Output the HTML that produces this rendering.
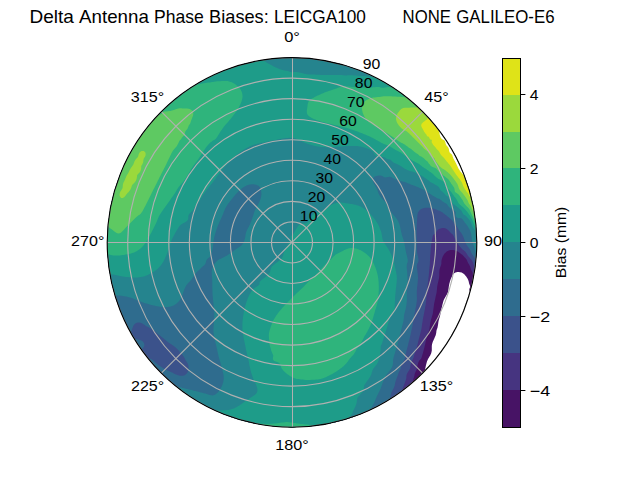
<!DOCTYPE html><html><head><meta charset="utf-8"><style>html,body{margin:0;padding:0;background:#fff}svg{display:block}text{font-family:"Liberation Sans",sans-serif;fill:#000}</style></head><body>
<svg width="640" height="480" viewBox="0 0 640 480">
<rect width="640" height="480" fill="#fff"/>
<defs><clipPath id="c"><circle cx="292.0" cy="242.4" r="184.8"/></clipPath></defs>
<g clip-path="url(#c)">
<path fill="#471365" d="M103.2 53.6L104.7 53.6L106.2 53.6L107.7 53.6L109.2 53.6L110.7 53.6L112.2 53.6L113.7 53.6L115.2 53.6L116.7 53.6L118.2 53.6L119.7 53.6L121.2 53.6L122.7 53.6L124.2 53.6L125.7 53.6L127.2 53.6L128.7 53.6L130.2 53.6L131.7 53.6L133.2 53.6L134.7 53.6L136.2 53.6L137.7 53.6L139.2 53.6L140.7 53.6L142.2 53.6L143.7 53.6L145.2 53.6L146.7 53.6L148.2 53.6L149.7 53.6L151.2 53.6L152.7 53.6L154.2 53.6L155.7 53.6L157.2 53.6L158.7 53.6L160.2 53.6L161.7 53.6L163.2 53.6L164.7 53.6L166.2 53.6L167.7 53.6L169.2 53.6L170.7 53.6L172.2 53.6L173.7 53.6L175.2 53.6L176.7 53.6L178.2 53.6L179.7 53.6L181.2 53.6L182.7 53.6L184.2 53.6L185.7 53.6L187.2 53.6L188.7 53.6L190.2 53.6L191.7 53.6L193.2 53.6L194.7 53.6L196.2 53.6L197.7 53.6L199.2 53.6L200.7 53.6L202.2 53.6L203.7 53.6L205.2 53.6L206.7 53.6L208.2 53.6L209.7 53.6L211.2 53.6L212.7 53.6L214.2 53.6L215.7 53.6L217.2 53.6L218.7 53.6L220.2 53.6L221.7 53.6L223.2 53.6L224.7 53.6L226.2 53.6L227.7 53.6L229.2 53.6L230.7 53.6L232.2 53.6L233.7 53.6L235.2 53.6L236.7 53.6L238.2 53.6L239.7 53.6L241.2 53.6L242.7 53.6L244.2 53.6L245.7 53.6L247.2 53.6L248.7 53.6L250.2 53.6L251.7 53.6L253.2 53.6L254.7 53.6L256.2 53.6L257.7 53.6L259.2 53.6L260.7 53.6L262.2 53.6L263.7 53.6L265.2 53.6L266.7 53.6L268.2 53.6L269.7 53.6L271.2 53.6L272.7 53.6L274.2 53.6L275.7 53.6L277.2 53.6L278.7 53.6L280.2 53.6L281.7 53.6L283.2 53.6L284.7 53.6L286.2 53.6L287.7 53.6L289.2 53.6L290.7 53.6L292.2 53.6L293.7 53.6L295.2 53.6L296.7 53.6L298.2 53.6L299.7 53.6L301.2 53.6L302.7 53.6L304.2 53.6L305.7 53.6L307.2 53.6L308.7 53.6L310.2 53.6L311.7 53.6L313.2 53.6L314.7 53.6L316.2 53.6L317.7 53.6L319.2 53.6L320.7 53.6L322.2 53.6L323.7 53.6L325.2 53.6L326.7 53.6L328.2 53.6L329.7 53.6L331.2 53.6L332.7 53.6L334.2 53.6L335.7 53.6L337.2 53.6L338.7 53.6L340.2 53.6L341.7 53.6L343.2 53.6L344.7 53.6L346.2 53.6L347.7 53.6L349.2 53.6L350.7 53.6L352.2 53.6L353.7 53.6L355.2 53.6L356.7 53.6L358.2 53.6L359.7 53.6L361.2 53.6L362.7 53.6L364.2 53.6L365.7 53.6L367.2 53.6L368.7 53.6L370.2 53.6L371.7 53.6L373.2 53.6L374.7 53.6L376.2 53.6L377.7 53.6L379.2 53.6L380.7 53.6L382.2 53.6L383.7 53.6L385.2 53.6L386.7 53.6L388.2 53.6L389.7 53.6L391.2 53.6L392.7 53.6L394.2 53.6L395.7 53.6L397.2 53.6L398.7 53.6L400.2 53.6L401.7 53.6L403.2 53.6L404.7 53.6L406.2 53.6L407.7 53.6L409.2 53.6L410.7 53.6L412.2 53.6L413.7 53.6L415.2 53.6L416.7 53.6L418.2 53.6L419.7 53.6L421.2 53.6L422.7 53.6L424.2 53.6L425.7 53.6L427.2 53.6L428.7 53.6L430.2 53.6L431.7 53.6L433.2 53.6L434.7 53.6L436.2 53.6L437.7 53.6L439.2 53.6L440.7 53.6L442.2 53.6L443.7 53.6L445.2 53.6L446.7 53.6L448.2 53.6L449.7 53.6L451.2 53.6L452.7 53.6L454.2 53.6L455.7 53.6L457.2 53.6L458.7 53.6L460.2 53.6L461.7 53.6L463.2 53.6L464.7 53.6L466.2 53.6L467.7 53.6L469.2 53.6L470.7 53.6L472.2 53.6L473.7 53.6L475.2 53.6L476.7 53.6L478.2 53.6L479.7 53.6L481.2 53.6L481.2 55.1L481.2 56.6L481.2 58.1L481.2 59.6L481.2 61.1L481.2 62.6L481.2 64.1L481.2 65.6L481.2 67.1L481.2 68.6L481.2 70.1L481.2 71.6L481.2 73.1L481.2 74.6L481.2 76.1L481.2 77.6L481.2 79.1L481.2 80.6L481.2 82.1L481.2 83.6L481.2 85.1L481.2 86.6L481.2 88.1L481.2 89.6L481.2 91.1L481.2 92.6L481.2 94.1L481.2 95.6L481.2 97.1L481.2 98.6L481.2 100.1L481.2 101.6L481.2 103.1L481.2 104.6L481.2 106.1L481.2 107.6L481.2 109.1L481.2 110.6L481.2 112.1L481.2 113.6L481.2 115.1L481.2 116.6L481.2 118.1L481.2 119.6L481.2 121.1L481.2 122.6L481.2 124.1L481.2 125.6L481.2 127.1L481.2 128.6L481.2 130.1L481.2 131.6L481.2 133.1L481.2 134.6L481.2 136.1L481.2 137.6L481.2 139.1L481.2 140.6L481.2 142.1L481.2 143.6L481.2 145.1L481.2 146.6L481.2 148.1L481.2 149.6L481.2 151.1L481.2 152.6L481.2 154.1L481.2 155.6L481.2 157.1L481.2 158.6L481.2 160.1L481.2 161.6L481.2 163.1L481.2 164.6L481.2 166.1L481.2 167.6L481.2 169.1L481.2 170.6L481.2 172.1L481.2 173.6L481.2 175.1L481.2 176.6L481.2 178.1L481.2 179.6L481.2 181.1L481.2 182.6L481.2 184.1L481.2 185.6L481.2 187.1L481.2 188.6L481.2 190.1L481.2 191.6L481.2 193.1L481.2 194.6L481.2 196.1L481.2 197.6L481.2 199.1L481.2 200.6L481.2 202.1L481.2 203.6L481.2 205.1L481.2 206.6L481.2 208.1L481.2 209.6L481.2 211.1L481.2 212.6L481.2 214.1L481.2 215.6L481.2 217.1L481.2 218.6L481.2 220.1L481.2 221.6L481.2 223.1L481.2 224.6L481.2 226.1L481.2 227.6L481.2 229.1L481.2 230.6L481.2 232.1L481.2 233.6L481.2 235.1L481.2 236.6L481.2 238.1L481.2 239.6L481.2 241.1L481.2 242.6L481.2 244.1L481.2 245.6L481.2 247.1L481.2 248.6L481.2 250.1L481.2 251.6L481.2 253.1L481.2 254.6L481.2 256.1L481.2 257.6L481.2 259.1L481.2 260.6L481.2 262.1L481.2 263.6L481.2 265.1L481.2 266.6L481.2 268.1L481.2 269.6L481.2 271.1L481.2 272.6L481.2 274.1L481.2 275.6L481.2 277.1L481.2 278.6L481.2 280.1L481.2 281.6L481.2 283.1L481.2 284.6L481.2 286.1L481.2 287.6L481.2 289.1L481.2 290.6L481.2 292.1L479.7 291.6L478.2 291.3L476.7 291.1L475.2 291.0L473.7 291.2L472.2 291.6L470.7 291.8L469.4 290.6L469.3 289.1L470.0 287.6L470.1 286.1L469.5 284.6L469.2 283.7L469.0 283.1L468.7 281.6L468.2 280.1L467.7 278.9L467.5 278.6L466.5 277.1L466.2 276.6L465.3 275.6L464.7 274.8L464.0 274.1L463.2 273.4L461.7 272.6L461.7 272.6L460.2 272.2L458.7 272.0L457.2 272.1L455.7 272.5L455.4 272.6L454.2 273.3L453.4 274.1L452.7 275.0L452.4 275.6L451.7 277.1L451.2 278.1L451.0 278.6L450.4 280.1L449.9 281.6L449.7 282.4L449.5 283.1L449.2 284.6L448.9 286.1L448.7 287.6L448.5 289.1L448.3 290.6L448.2 291.0L448.0 292.1L447.4 293.6L446.7 294.8L446.5 295.1L445.7 296.6L445.2 297.3L444.8 298.1L444.0 299.6L443.7 300.2L443.4 301.1L443.0 302.6L442.6 304.1L442.2 305.6L442.2 305.7L441.9 307.1L441.5 308.6L441.2 310.1L440.8 311.6L440.7 312.2L440.5 313.1L440.3 314.6L440.0 316.1L439.6 317.6L439.2 318.6L439.1 319.1L438.7 320.6L438.4 322.1L438.2 323.6L438.0 325.1L437.7 326.6L437.7 326.7L437.4 328.1L436.8 329.6L436.4 331.1L436.3 332.6L436.2 332.8L436.0 334.1L435.6 335.6L434.9 337.1L434.7 337.6L434.3 338.6L433.6 340.1L433.2 340.9L432.9 341.6L432.4 343.1L432.0 344.6L431.8 346.1L431.8 347.6L431.8 349.1L431.8 350.6L431.7 351.0L431.5 352.1L431.1 353.6L430.4 355.1L430.2 355.4L429.5 356.6L428.7 357.9L428.6 358.1L427.8 359.6L427.2 360.9L427.1 361.1L426.7 362.6L426.3 364.1L425.9 365.6L425.7 366.6L425.6 367.1L425.3 368.6L424.9 370.1L424.5 371.6L424.2 373.1L424.2 373.1L423.9 374.6L423.5 376.1L423.2 377.6L422.8 379.1L422.7 379.4L422.4 380.6L422.0 382.1L421.6 383.6L421.2 385.1L421.2 385.2L420.9 386.6L420.6 388.1L420.3 389.6L420.0 391.1L419.8 392.6L419.7 393.4L419.6 394.1L419.4 395.6L419.3 397.1L419.1 398.6L419.0 400.1L418.9 401.6L418.8 403.1L418.7 404.6L418.6 406.1L418.5 407.6L418.4 409.1L418.4 410.6L418.3 412.1L418.3 413.6L418.2 415.1L418.2 415.4L418.2 416.6L418.1 418.1L418.1 419.6L418.1 421.1L418.1 422.6L418.1 424.1L418.1 425.6L418.1 427.1L418.1 428.6L418.1 430.1L418.1 431.6L416.7 431.6L415.2 431.6L413.7 431.6L412.2 431.6L410.7 431.6L409.2 431.6L407.7 431.6L406.2 431.6L404.7 431.6L403.2 431.6L401.7 431.6L400.2 431.6L398.7 431.6L397.2 431.6L395.7 431.6L394.2 431.6L392.7 431.6L391.2 431.6L389.7 431.6L388.2 431.6L386.7 431.6L385.2 431.6L383.7 431.6L382.2 431.6L380.7 431.6L379.2 431.6L377.7 431.6L376.2 431.6L374.7 431.6L373.2 431.6L371.7 431.6L370.2 431.6L368.7 431.6L367.2 431.6L365.7 431.6L364.2 431.6L362.7 431.6L361.2 431.6L359.7 431.6L358.2 431.6L356.7 431.6L355.2 431.6L353.7 431.6L352.2 431.6L350.7 431.6L349.2 431.6L347.7 431.6L346.2 431.6L344.7 431.6L343.2 431.6L341.7 431.6L340.2 431.6L338.7 431.6L337.2 431.6L335.7 431.6L334.2 431.6L332.7 431.6L331.2 431.6L329.7 431.6L328.2 431.6L326.7 431.6L325.2 431.6L323.7 431.6L322.2 431.6L320.7 431.6L319.2 431.6L317.7 431.6L316.2 431.6L314.7 431.6L313.2 431.6L311.7 431.6L310.2 431.6L308.7 431.6L307.2 431.6L305.7 431.6L304.2 431.6L302.7 431.6L301.2 431.6L299.7 431.6L298.2 431.6L296.7 431.6L295.2 431.6L293.7 431.6L292.2 431.6L290.7 431.6L289.2 431.6L287.7 431.6L286.2 431.6L284.7 431.6L283.2 431.6L281.7 431.6L280.2 431.6L278.7 431.6L277.2 431.6L275.7 431.6L274.2 431.6L272.7 431.6L271.2 431.6L269.7 431.6L268.2 431.6L266.7 431.6L265.2 431.6L263.7 431.6L262.2 431.6L260.7 431.6L259.2 431.6L257.7 431.6L256.2 431.6L254.7 431.6L253.2 431.6L251.7 431.6L250.2 431.6L248.7 431.6L247.2 431.6L245.7 431.6L244.2 431.6L242.7 431.6L241.2 431.6L239.7 431.6L238.2 431.6L236.7 431.6L235.2 431.6L233.7 431.6L232.2 431.6L230.7 431.6L229.2 431.6L227.7 431.6L226.2 431.6L224.7 431.6L223.2 431.6L221.7 431.6L220.2 431.6L218.7 431.6L217.2 431.6L215.7 431.6L214.2 431.6L212.7 431.6L211.2 431.6L209.7 431.6L208.2 431.6L206.7 431.6L205.2 431.6L203.7 431.6L202.2 431.6L200.7 431.6L199.2 431.6L197.7 431.6L196.2 431.6L194.7 431.6L193.2 431.6L191.7 431.6L190.2 431.6L188.7 431.6L187.2 431.6L185.7 431.6L184.2 431.6L182.7 431.6L181.2 431.6L179.7 431.6L178.2 431.6L176.7 431.6L175.2 431.6L173.7 431.6L172.2 431.6L170.7 431.6L169.2 431.6L167.7 431.6L166.2 431.6L164.7 431.6L163.2 431.6L161.7 431.6L160.2 431.6L158.7 431.6L157.2 431.6L155.7 431.6L154.2 431.6L152.7 431.6L151.2 431.6L149.7 431.6L148.2 431.6L146.7 431.6L145.2 431.6L143.7 431.6L142.2 431.6L140.7 431.6L139.2 431.6L137.7 431.6L136.2 431.6L134.7 431.6L133.2 431.6L131.7 431.6L130.2 431.6L128.7 431.6L127.2 431.6L125.7 431.6L124.2 431.6L122.7 431.6L121.2 431.6L119.7 431.6L118.2 431.6L116.7 431.6L115.2 431.6L113.7 431.6L112.2 431.6L110.7 431.6L109.2 431.6L107.7 431.6L106.2 431.6L104.7 431.6L103.2 431.6L103.2 430.1L103.2 428.6L103.2 427.1L103.2 425.6L103.2 424.1L103.2 422.6L103.2 421.1L103.2 419.6L103.2 418.1L103.2 416.6L103.2 415.1L103.2 413.6L103.2 412.1L103.2 410.6L103.2 409.1L103.2 407.6L103.2 406.1L103.2 404.6L103.2 403.1L103.2 401.6L103.2 400.1L103.2 398.6L103.2 397.1L103.2 395.6L103.2 394.1L103.2 392.6L103.2 391.1L103.2 389.6L103.2 388.1L103.2 386.6L103.2 385.1L103.2 383.6L103.2 382.1L103.2 380.6L103.2 379.1L103.2 377.6L103.2 376.1L103.2 374.6L103.2 373.1L103.2 371.6L103.2 370.1L103.2 368.6L103.2 367.1L103.2 365.6L103.2 364.1L103.2 362.6L103.2 361.1L103.2 359.6L103.2 358.1L103.2 356.6L103.2 355.1L103.2 353.6L103.2 352.1L103.2 350.6L103.2 349.1L103.2 347.6L103.2 346.1L103.2 344.6L103.2 343.1L103.2 341.6L103.2 340.1L103.2 338.6L103.2 337.1L103.2 335.6L103.2 334.1L103.2 332.6L103.2 331.1L103.2 329.6L103.2 328.1L103.2 326.6L103.2 325.1L103.2 323.6L103.2 322.1L103.2 320.6L103.2 319.1L103.2 317.6L103.2 316.1L103.2 314.6L103.2 313.1L103.2 311.6L103.2 310.1L103.2 308.6L103.2 307.1L103.2 305.6L103.2 304.1L103.2 302.6L103.2 301.1L103.2 299.6L103.2 298.1L103.2 296.6L103.2 295.1L103.2 293.6L103.2 292.1L103.2 290.6L103.2 289.1L103.2 287.6L103.2 286.1L103.2 284.6L103.2 283.1L103.2 281.6L103.2 280.1L103.2 278.6L103.2 277.1L103.2 275.6L103.2 274.1L103.2 272.6L103.2 271.1L103.2 269.6L103.2 268.1L103.2 266.6L103.2 265.1L103.2 263.6L103.2 262.1L103.2 260.6L103.2 259.1L103.2 257.6L103.2 256.1L103.2 254.6L103.2 253.1L103.2 251.6L103.2 250.1L103.2 248.6L103.2 247.1L103.2 245.6L103.2 244.1L103.2 242.6L103.2 241.1L103.2 239.6L103.2 238.1L103.2 236.6L103.2 235.1L103.2 233.6L103.2 232.1L103.2 230.6L103.2 229.1L103.2 227.6L103.2 226.1L103.2 224.6L103.2 223.1L103.2 221.6L103.2 220.1L103.2 218.6L103.2 217.1L103.2 215.6L103.2 214.1L103.2 212.6L103.2 211.1L103.2 209.6L103.2 208.1L103.2 206.6L103.2 205.1L103.2 203.6L103.2 202.1L103.2 200.6L103.2 199.1L103.2 197.6L103.2 196.1L103.2 194.6L103.2 193.1L103.2 191.6L103.2 190.1L103.2 188.6L103.2 187.1L103.2 185.6L103.2 184.1L103.2 182.6L103.2 181.1L103.2 179.6L103.2 178.1L103.2 176.6L103.2 175.1L103.2 173.6L103.2 172.1L103.2 170.6L103.2 169.1L103.2 167.6L103.2 166.1L103.2 164.6L103.2 163.1L103.2 161.6L103.2 160.1L103.2 158.6L103.2 157.1L103.2 155.6L103.2 154.1L103.2 152.6L103.2 151.1L103.2 149.6L103.2 148.1L103.2 146.6L103.2 145.1L103.2 143.6L103.2 142.1L103.2 140.6L103.2 139.1L103.2 137.6L103.2 136.1L103.2 134.6L103.2 133.1L103.2 131.6L103.2 130.1L103.2 128.6L103.2 127.1L103.2 125.6L103.2 124.1L103.2 122.6L103.2 121.1L103.2 119.6L103.2 118.1L103.2 116.6L103.2 115.1L103.2 113.6L103.2 112.1L103.2 110.6L103.2 109.1L103.2 107.6L103.2 106.1L103.2 104.6L103.2 103.1L103.2 101.6L103.2 100.1L103.2 98.6L103.2 97.1L103.2 95.6L103.2 94.1L103.2 92.6L103.2 91.1L103.2 89.6L103.2 88.1L103.2 86.6L103.2 85.1L103.2 83.6L103.2 82.1L103.2 80.6L103.2 79.1L103.2 77.6L103.2 76.1L103.2 74.6L103.2 73.1L103.2 71.6L103.2 70.1L103.2 68.6L103.2 67.1L103.2 65.6L103.2 64.1L103.2 62.6L103.2 61.1L103.2 59.6L103.2 58.1L103.2 56.6L103.2 55.1Z"/>
<path fill="#463480" d="M103.2 53.6L104.7 53.6L106.2 53.6L107.7 53.6L109.2 53.6L110.7 53.6L112.2 53.6L113.7 53.6L115.2 53.6L116.7 53.6L118.2 53.6L119.7 53.6L121.2 53.6L122.7 53.6L124.2 53.6L125.7 53.6L127.2 53.6L128.7 53.6L130.2 53.6L131.7 53.6L133.2 53.6L134.7 53.6L136.2 53.6L137.7 53.6L139.2 53.6L140.7 53.6L142.2 53.6L143.7 53.6L145.2 53.6L146.7 53.6L148.2 53.6L149.7 53.6L151.2 53.6L152.7 53.6L154.2 53.6L155.7 53.6L157.2 53.6L158.7 53.6L160.2 53.6L161.7 53.6L163.2 53.6L164.7 53.6L166.2 53.6L167.7 53.6L169.2 53.6L170.7 53.6L172.2 53.6L173.7 53.6L175.2 53.6L176.7 53.6L178.2 53.6L179.7 53.6L181.2 53.6L182.7 53.6L184.2 53.6L185.7 53.6L187.2 53.6L188.7 53.6L190.2 53.6L191.7 53.6L193.2 53.6L194.7 53.6L196.2 53.6L197.7 53.6L199.2 53.6L200.7 53.6L202.2 53.6L203.7 53.6L205.2 53.6L206.7 53.6L208.2 53.6L209.7 53.6L211.2 53.6L212.7 53.6L214.2 53.6L215.7 53.6L217.2 53.6L218.7 53.6L220.2 53.6L221.7 53.6L223.2 53.6L224.7 53.6L226.2 53.6L227.7 53.6L229.2 53.6L230.7 53.6L232.2 53.6L233.7 53.6L235.2 53.6L236.7 53.6L238.2 53.6L239.7 53.6L241.2 53.6L242.7 53.6L244.2 53.6L245.7 53.6L247.2 53.6L248.7 53.6L250.2 53.6L251.7 53.6L253.2 53.6L254.7 53.6L256.2 53.6L257.7 53.6L259.2 53.6L260.7 53.6L262.2 53.6L263.7 53.6L265.2 53.6L266.7 53.6L268.2 53.6L269.7 53.6L271.2 53.6L272.7 53.6L274.2 53.6L275.7 53.6L277.2 53.6L278.7 53.6L280.2 53.6L281.7 53.6L283.2 53.6L284.7 53.6L286.2 53.6L287.7 53.6L289.2 53.6L290.7 53.6L292.2 53.6L293.7 53.6L295.2 53.6L296.7 53.6L298.2 53.6L299.7 53.6L301.2 53.6L302.7 53.6L304.2 53.6L305.7 53.6L307.2 53.6L308.7 53.6L310.2 53.6L311.7 53.6L313.2 53.6L314.7 53.6L316.2 53.6L317.7 53.6L319.2 53.6L320.7 53.6L322.2 53.6L323.7 53.6L325.2 53.6L326.7 53.6L328.2 53.6L329.7 53.6L331.2 53.6L332.7 53.6L334.2 53.6L335.7 53.6L337.2 53.6L338.7 53.6L340.2 53.6L341.7 53.6L343.2 53.6L344.7 53.6L346.2 53.6L347.7 53.6L349.2 53.6L350.7 53.6L352.2 53.6L353.7 53.6L355.2 53.6L356.7 53.6L358.2 53.6L359.7 53.6L361.2 53.6L362.7 53.6L364.2 53.6L365.7 53.6L367.2 53.6L368.7 53.6L370.2 53.6L371.7 53.6L373.2 53.6L374.7 53.6L376.2 53.6L377.7 53.6L379.2 53.6L380.7 53.6L382.2 53.6L383.7 53.6L385.2 53.6L386.7 53.6L388.2 53.6L389.7 53.6L391.2 53.6L392.7 53.6L394.2 53.6L395.7 53.6L397.2 53.6L398.7 53.6L400.2 53.6L401.7 53.6L403.2 53.6L404.7 53.6L406.2 53.6L407.7 53.6L409.2 53.6L410.7 53.6L412.2 53.6L413.7 53.6L415.2 53.6L416.7 53.6L418.2 53.6L419.7 53.6L421.2 53.6L422.7 53.6L424.2 53.6L425.7 53.6L427.2 53.6L428.7 53.6L430.2 53.6L431.7 53.6L433.2 53.6L434.7 53.6L436.2 53.6L437.7 53.6L439.2 53.6L440.7 53.6L442.2 53.6L443.7 53.6L445.2 53.6L446.7 53.6L448.2 53.6L449.7 53.6L451.2 53.6L452.7 53.6L454.2 53.6L455.7 53.6L457.2 53.6L458.7 53.6L460.2 53.6L461.7 53.6L463.2 53.6L464.7 53.6L466.2 53.6L467.7 53.6L469.2 53.6L470.7 53.6L472.2 53.6L473.7 53.6L475.2 53.6L476.7 53.6L478.2 53.6L479.7 53.6L481.2 53.6L481.2 55.1L481.2 56.6L481.2 58.1L481.2 59.6L481.2 61.1L481.2 62.6L481.2 64.1L481.2 65.6L481.2 67.1L481.2 68.6L481.2 70.1L481.2 71.6L481.2 73.1L481.2 74.6L481.2 76.1L481.2 77.6L481.2 79.1L481.2 80.6L481.2 82.1L481.2 83.6L481.2 85.1L481.2 86.6L481.2 88.1L481.2 89.6L481.2 91.1L481.2 92.6L481.2 94.1L481.2 95.6L481.2 97.1L481.2 98.6L481.2 100.1L481.2 101.6L481.2 103.1L481.2 104.6L481.2 106.1L481.2 107.6L481.2 109.1L481.2 110.6L481.2 112.1L481.2 113.6L481.2 115.1L481.2 116.6L481.2 118.1L481.2 119.6L481.2 121.1L481.2 122.6L481.2 124.1L481.2 125.6L481.2 127.1L481.2 128.6L481.2 130.1L481.2 131.6L481.2 133.1L481.2 134.6L481.2 136.1L481.2 137.6L481.2 139.1L481.2 140.6L481.2 142.1L481.2 143.6L481.2 145.1L481.2 146.6L481.2 148.1L481.2 149.6L481.2 151.1L481.2 152.6L481.2 154.1L481.2 155.6L481.2 157.1L481.2 158.6L481.2 160.1L481.2 161.6L481.2 163.1L481.2 164.6L481.2 166.1L481.2 167.6L481.2 169.1L481.2 170.6L481.2 172.1L481.2 173.6L481.2 175.1L481.2 176.6L481.2 178.1L481.2 179.6L481.2 181.1L481.2 182.6L481.2 184.1L481.2 185.6L481.2 187.1L481.2 188.6L481.2 190.1L481.2 191.6L481.2 193.1L481.2 194.6L481.2 196.1L481.2 197.6L481.2 199.1L481.2 200.6L481.2 202.1L481.2 203.6L481.2 205.1L481.2 206.6L481.2 208.1L481.2 209.6L481.2 211.1L481.2 212.6L481.2 214.1L481.2 215.6L481.2 217.1L481.2 218.6L481.2 220.1L481.2 221.6L481.2 223.1L481.2 224.6L481.2 226.1L481.2 227.6L481.2 229.1L481.2 230.6L481.2 232.1L481.2 233.6L481.2 235.1L481.2 236.6L481.2 238.1L481.2 239.6L481.2 241.1L481.2 242.6L481.2 244.1L481.2 245.6L481.2 247.1L481.2 248.6L481.2 250.1L481.2 251.6L481.2 253.1L481.2 254.6L481.2 256.1L481.2 257.6L481.2 259.1L481.2 260.6L481.2 262.1L481.2 263.6L481.2 265.1L481.2 266.6L481.2 268.1L481.2 269.6L481.2 271.1L481.2 272.6L481.2 274.1L481.2 275.6L481.2 277.1L481.2 278.6L481.2 280.1L481.2 281.6L481.2 283.1L481.2 284.6L481.2 285.0L480.5 284.6L479.7 284.2L478.2 283.2L478.1 283.1L476.7 282.0L476.2 281.6L475.2 280.5L474.9 280.1L474.0 278.6L473.7 278.0L473.3 277.1L472.9 275.6L472.7 274.1L472.6 272.6L472.2 271.9L471.8 271.1L471.0 269.6L470.7 268.4L470.6 268.1L470.1 266.6L469.3 265.1L469.2 264.8L468.4 263.6L467.7 262.3L467.6 262.1L467.0 260.6L466.3 259.1L466.2 259.0L464.9 257.6L464.7 257.4L463.5 256.1L463.2 255.7L462.0 254.6L461.7 254.4L460.2 253.3L459.9 253.1L458.7 252.2L457.8 251.6L457.2 251.3L455.7 250.7L454.2 250.2L453.4 250.1L452.7 250.0L451.2 250.0L450.3 250.1L449.7 250.2L448.2 250.8L446.7 251.6L446.7 251.6L445.2 252.9L445.0 253.1L443.9 254.6L443.7 254.9L443.0 256.1L442.4 257.6L442.2 258.1L441.9 259.1L441.5 260.6L441.4 262.1L441.4 263.6L441.1 265.1L440.7 266.0L440.5 266.6L440.0 268.1L439.6 269.6L439.4 271.1L439.3 272.6L439.3 274.1L439.3 275.6L439.2 277.0L439.2 277.1L439.0 278.6L438.6 280.1L438.3 281.6L437.9 283.1L437.7 284.0L437.6 284.6L437.3 286.1L437.1 287.6L437.0 289.1L436.8 290.6L436.7 292.1L436.4 293.6L436.2 294.4L436.0 295.1L435.7 296.6L435.4 298.1L435.1 299.6L434.7 301.1L434.7 301.3L434.4 302.6L434.1 304.1L433.9 305.6L433.7 307.1L433.5 308.6L433.3 310.1L433.2 310.6L433.1 311.6L432.9 313.1L432.6 314.6L432.1 316.1L431.7 317.5L431.7 317.6L431.2 319.1L430.8 320.6L430.5 322.1L430.2 323.6L430.2 323.6L430.0 325.1L429.8 326.6L429.6 328.1L429.4 329.6L428.9 331.1L428.7 331.6L428.4 332.6L427.9 334.1L427.4 335.6L427.2 336.1L426.9 337.1L426.5 338.6L426.1 340.1L425.7 341.6L425.7 341.6L425.4 343.1L425.1 344.6L424.7 346.1L424.4 347.6L424.2 348.2L424.0 349.1L423.6 350.6L423.2 352.1L422.8 353.6L422.7 353.8L422.3 355.1L421.9 356.6L421.4 358.1L421.2 358.6L420.4 359.6L419.7 360.1L419.0 361.1L418.3 362.6L418.2 362.9L417.9 364.1L417.5 365.6L417.3 367.1L417.0 368.6L416.7 369.6L416.5 370.1L415.7 371.6L415.2 372.7L415.0 373.1L414.6 374.6L414.4 376.1L413.9 377.6L413.7 378.1L413.4 379.1L412.9 380.6L412.5 382.1L412.2 383.3L412.1 383.6L411.7 385.1L411.4 386.6L411.0 388.1L410.7 389.6L410.7 389.6L410.4 391.1L410.1 392.6L409.8 394.1L409.6 395.6L409.4 397.1L409.2 398.1L409.1 398.6L408.9 400.1L408.7 401.6L408.5 403.1L408.3 404.6L408.1 406.1L407.9 407.6L407.7 408.7L407.6 409.1L407.4 410.6L407.2 412.1L407.0 413.6L406.8 415.1L406.7 416.6L406.5 418.1L406.3 419.6L406.2 420.3L406.1 421.1L405.9 422.6L405.8 424.1L405.6 425.6L405.5 427.1L405.3 428.6L405.2 430.1L405.1 431.6L404.7 431.6L403.2 431.6L401.7 431.6L400.2 431.6L398.7 431.6L397.2 431.6L395.7 431.6L394.2 431.6L392.7 431.6L391.2 431.6L389.7 431.6L388.2 431.6L386.7 431.6L385.2 431.6L383.7 431.6L382.2 431.6L380.7 431.6L379.2 431.6L377.7 431.6L376.2 431.6L374.7 431.6L373.2 431.6L371.7 431.6L370.2 431.6L368.7 431.6L367.2 431.6L365.7 431.6L364.2 431.6L362.7 431.6L361.2 431.6L359.7 431.6L358.2 431.6L356.7 431.6L355.2 431.6L353.7 431.6L352.2 431.6L350.7 431.6L349.2 431.6L347.7 431.6L346.2 431.6L344.7 431.6L343.2 431.6L341.7 431.6L340.2 431.6L338.7 431.6L337.2 431.6L335.7 431.6L334.2 431.6L332.7 431.6L331.2 431.6L329.7 431.6L328.2 431.6L326.7 431.6L325.2 431.6L323.7 431.6L322.2 431.6L320.7 431.6L319.2 431.6L317.7 431.6L316.2 431.6L314.7 431.6L313.2 431.6L311.7 431.6L310.2 431.6L308.7 431.6L307.2 431.6L305.7 431.6L304.2 431.6L302.7 431.6L301.2 431.6L299.7 431.6L298.2 431.6L296.7 431.6L295.2 431.6L293.7 431.6L292.2 431.6L290.7 431.6L289.2 431.6L287.7 431.6L286.2 431.6L284.7 431.6L283.2 431.6L281.7 431.6L280.2 431.6L278.7 431.6L277.2 431.6L275.7 431.6L274.2 431.6L272.7 431.6L271.2 431.6L269.7 431.6L268.2 431.6L266.7 431.6L265.2 431.6L263.7 431.6L262.2 431.6L260.7 431.6L259.2 431.6L257.7 431.6L256.2 431.6L254.7 431.6L253.2 431.6L251.7 431.6L250.2 431.6L248.7 431.6L247.2 431.6L245.7 431.6L244.2 431.6L242.7 431.6L241.2 431.6L239.7 431.6L238.2 431.6L236.7 431.6L235.2 431.6L233.7 431.6L232.2 431.6L230.7 431.6L229.2 431.6L227.7 431.6L226.2 431.6L224.7 431.6L223.2 431.6L221.7 431.6L220.2 431.6L218.7 431.6L217.2 431.6L215.7 431.6L214.2 431.6L212.7 431.6L211.2 431.6L209.7 431.6L208.2 431.6L206.7 431.6L205.2 431.6L203.7 431.6L202.2 431.6L200.7 431.6L199.2 431.6L197.7 431.6L196.2 431.6L194.7 431.6L193.2 431.6L191.7 431.6L190.2 431.6L188.7 431.6L187.2 431.6L185.7 431.6L184.2 431.6L182.7 431.6L181.2 431.6L179.7 431.6L178.2 431.6L176.7 431.6L175.2 431.6L173.7 431.6L172.2 431.6L170.7 431.6L169.2 431.6L167.7 431.6L166.2 431.6L164.7 431.6L163.2 431.6L161.7 431.6L160.2 431.6L158.7 431.6L157.2 431.6L155.7 431.6L154.2 431.6L152.7 431.6L151.2 431.6L149.7 431.6L148.2 431.6L146.7 431.6L145.2 431.6L143.7 431.6L142.2 431.6L140.7 431.6L139.2 431.6L137.7 431.6L136.2 431.6L134.7 431.6L133.2 431.6L131.7 431.6L130.2 431.6L128.7 431.6L127.2 431.6L125.7 431.6L124.2 431.6L122.7 431.6L121.2 431.6L119.7 431.6L118.2 431.6L116.7 431.6L115.2 431.6L113.7 431.6L112.2 431.6L110.7 431.6L109.2 431.6L107.7 431.6L106.2 431.6L104.7 431.6L103.2 431.6L103.2 430.1L103.2 428.6L103.2 427.1L103.2 425.6L103.2 424.1L103.2 422.6L103.2 421.1L103.2 419.6L103.2 418.1L103.2 416.6L103.2 415.1L103.2 413.6L103.2 412.1L103.2 410.6L103.2 409.1L103.2 407.6L103.2 406.1L103.2 404.6L103.2 403.1L103.2 401.6L103.2 400.1L103.2 398.6L103.2 397.1L103.2 395.6L103.2 394.1L103.2 392.6L103.2 391.1L103.2 389.6L103.2 388.1L103.2 386.6L103.2 385.1L103.2 383.6L103.2 382.1L103.2 380.6L103.2 379.1L103.2 377.6L103.2 376.1L103.2 374.6L103.2 373.1L103.2 371.6L103.2 370.1L103.2 368.6L103.2 367.1L103.2 365.6L103.2 364.1L103.2 362.6L103.2 361.1L103.2 359.6L103.2 358.1L103.2 356.6L103.2 355.1L103.2 353.6L103.2 352.1L103.2 350.6L103.2 349.1L103.2 347.6L103.2 346.1L103.2 344.6L103.2 343.1L103.2 341.6L103.2 340.1L103.2 338.6L103.2 337.1L103.2 335.6L103.2 334.1L103.2 332.6L103.2 331.1L103.2 329.6L103.2 328.1L103.2 326.6L103.2 325.1L103.2 323.6L103.2 322.1L103.2 320.6L103.2 319.1L103.2 317.6L103.2 316.1L103.2 314.6L103.2 313.1L103.2 311.6L103.2 310.1L103.2 308.6L103.2 307.1L103.2 305.6L103.2 304.1L103.2 302.6L103.2 301.1L103.2 299.6L103.2 298.1L103.2 296.6L103.2 295.1L103.2 293.6L103.2 292.1L103.2 290.6L103.2 289.1L103.2 287.6L103.2 286.1L103.2 284.6L103.2 283.1L103.2 281.6L103.2 280.1L103.2 278.6L103.2 277.1L103.2 275.6L103.2 274.1L103.2 272.6L103.2 271.1L103.2 269.6L103.2 268.1L103.2 266.6L103.2 265.1L103.2 263.6L103.2 262.1L103.2 260.6L103.2 259.1L103.2 257.6L103.2 256.1L103.2 254.6L103.2 253.1L103.2 251.6L103.2 250.1L103.2 248.6L103.2 247.1L103.2 245.6L103.2 244.1L103.2 242.6L103.2 241.1L103.2 239.6L103.2 238.1L103.2 236.6L103.2 235.1L103.2 233.6L103.2 232.1L103.2 230.6L103.2 229.1L103.2 227.6L103.2 226.1L103.2 224.6L103.2 223.1L103.2 221.6L103.2 220.1L103.2 218.6L103.2 217.1L103.2 215.6L103.2 214.1L103.2 212.6L103.2 211.1L103.2 209.6L103.2 208.1L103.2 206.6L103.2 205.1L103.2 203.6L103.2 202.1L103.2 200.6L103.2 199.1L103.2 197.6L103.2 196.1L103.2 194.6L103.2 193.1L103.2 191.6L103.2 190.1L103.2 188.6L103.2 187.1L103.2 185.6L103.2 184.1L103.2 182.6L103.2 181.1L103.2 179.6L103.2 178.1L103.2 176.6L103.2 175.1L103.2 173.6L103.2 172.1L103.2 170.6L103.2 169.1L103.2 167.6L103.2 166.1L103.2 164.6L103.2 163.1L103.2 161.6L103.2 160.1L103.2 158.6L103.2 157.1L103.2 155.6L103.2 154.1L103.2 152.6L103.2 151.1L103.2 149.6L103.2 148.1L103.2 146.6L103.2 145.1L103.2 143.6L103.2 142.1L103.2 140.6L103.2 139.1L103.2 137.6L103.2 136.1L103.2 134.6L103.2 133.1L103.2 131.6L103.2 130.1L103.2 128.6L103.2 127.1L103.2 125.6L103.2 124.1L103.2 122.6L103.2 121.1L103.2 119.6L103.2 118.1L103.2 116.6L103.2 115.1L103.2 113.6L103.2 112.1L103.2 110.6L103.2 109.1L103.2 107.6L103.2 106.1L103.2 104.6L103.2 103.1L103.2 101.6L103.2 100.1L103.2 98.6L103.2 97.1L103.2 95.6L103.2 94.1L103.2 92.6L103.2 91.1L103.2 89.6L103.2 88.1L103.2 86.6L103.2 85.1L103.2 83.6L103.2 82.1L103.2 80.6L103.2 79.1L103.2 77.6L103.2 76.1L103.2 74.6L103.2 73.1L103.2 71.6L103.2 70.1L103.2 68.6L103.2 67.1L103.2 65.6L103.2 64.1L103.2 62.6L103.2 61.1L103.2 59.6L103.2 58.1L103.2 56.6L103.2 55.1Z"/>
<path fill="#3b528b" d="M103.2 53.6L104.7 53.6L106.2 53.6L107.7 53.6L109.2 53.6L110.7 53.6L112.2 53.6L113.7 53.6L115.2 53.6L116.7 53.6L118.2 53.6L119.7 53.6L121.2 53.6L122.7 53.6L124.2 53.6L125.7 53.6L127.2 53.6L128.7 53.6L130.2 53.6L131.7 53.6L133.2 53.6L134.7 53.6L136.2 53.6L137.7 53.6L139.2 53.6L140.7 53.6L142.2 53.6L143.7 53.6L145.2 53.6L146.7 53.6L148.2 53.6L149.7 53.6L151.2 53.6L152.7 53.6L154.2 53.6L155.7 53.6L157.2 53.6L158.7 53.6L160.2 53.6L161.7 53.6L163.2 53.6L164.7 53.6L166.2 53.6L167.7 53.6L169.2 53.6L170.7 53.6L172.2 53.6L173.7 53.6L175.2 53.6L176.7 53.6L178.2 53.6L179.7 53.6L181.2 53.6L182.7 53.6L184.2 53.6L185.7 53.6L187.2 53.6L188.7 53.6L190.2 53.6L191.7 53.6L193.2 53.6L194.7 53.6L196.2 53.6L197.7 53.6L199.2 53.6L200.7 53.6L202.2 53.6L203.7 53.6L205.2 53.6L206.7 53.6L208.2 53.6L209.7 53.6L211.2 53.6L212.7 53.6L214.2 53.6L215.7 53.6L217.2 53.6L218.7 53.6L220.2 53.6L221.7 53.6L223.2 53.6L224.7 53.6L226.2 53.6L227.7 53.6L229.2 53.6L230.7 53.6L232.2 53.6L233.7 53.6L235.2 53.6L236.7 53.6L238.2 53.6L239.7 53.6L241.2 53.6L242.7 53.6L244.2 53.6L245.7 53.6L247.2 53.6L248.7 53.6L250.2 53.6L251.7 53.6L253.2 53.6L254.7 53.6L256.2 53.6L257.7 53.6L259.2 53.6L260.7 53.6L262.2 53.6L263.7 53.6L265.2 53.6L266.7 53.6L268.2 53.6L269.7 53.6L271.2 53.6L272.7 53.6L274.2 53.6L275.7 53.6L277.2 53.6L278.7 53.6L280.2 53.6L281.7 53.6L283.2 53.6L284.7 53.6L286.2 53.6L287.7 53.6L289.2 53.6L290.7 53.6L292.2 53.6L293.7 53.6L295.2 53.6L296.7 53.6L298.2 53.6L299.7 53.6L301.2 53.6L302.7 53.6L304.2 53.6L305.7 53.6L307.2 53.6L308.7 53.6L310.2 53.6L311.7 53.6L313.2 53.6L314.7 53.6L316.2 53.6L317.7 53.6L319.2 53.6L320.7 53.6L322.2 53.6L323.7 53.6L325.2 53.6L326.7 53.6L328.2 53.6L329.7 53.6L331.2 53.6L332.7 53.6L334.2 53.6L335.7 53.6L337.2 53.6L338.7 53.6L340.2 53.6L341.7 53.6L343.2 53.6L344.7 53.6L346.2 53.6L347.7 53.6L349.2 53.6L350.7 53.6L352.2 53.6L353.7 53.6L355.2 53.6L356.7 53.6L358.2 53.6L359.7 53.6L361.2 53.6L362.7 53.6L364.2 53.6L365.7 53.6L367.2 53.6L368.7 53.6L370.2 53.6L371.7 53.6L373.2 53.6L374.7 53.6L376.2 53.6L377.7 53.6L379.2 53.6L380.7 53.6L382.2 53.6L383.7 53.6L385.2 53.6L386.7 53.6L388.2 53.6L389.7 53.6L391.2 53.6L392.7 53.6L394.2 53.6L395.7 53.6L397.2 53.6L398.7 53.6L400.2 53.6L401.7 53.6L403.2 53.6L404.7 53.6L406.2 53.6L407.7 53.6L409.2 53.6L410.7 53.6L412.2 53.6L413.7 53.6L415.2 53.6L416.7 53.6L418.2 53.6L419.7 53.6L421.2 53.6L422.7 53.6L424.2 53.6L425.7 53.6L427.2 53.6L428.7 53.6L430.2 53.6L431.7 53.6L433.2 53.6L434.7 53.6L436.2 53.6L437.7 53.6L439.2 53.6L440.7 53.6L442.2 53.6L443.7 53.6L445.2 53.6L446.7 53.6L448.2 53.6L449.7 53.6L451.2 53.6L452.7 53.6L454.2 53.6L455.7 53.6L457.2 53.6L458.7 53.6L460.2 53.6L461.7 53.6L463.2 53.6L464.7 53.6L466.2 53.6L467.7 53.6L469.2 53.6L470.7 53.6L472.2 53.6L473.7 53.6L475.2 53.6L476.7 53.6L478.2 53.6L479.7 53.6L481.2 53.6L481.2 55.1L481.2 56.6L481.2 58.1L481.2 59.6L481.2 61.1L481.2 62.6L481.2 64.1L481.2 65.6L481.2 67.1L481.2 68.6L481.2 70.1L481.2 71.6L481.2 73.1L481.2 74.6L481.2 76.1L481.2 77.6L481.2 79.1L481.2 80.6L481.2 82.1L481.2 83.6L481.2 85.1L481.2 86.6L481.2 88.1L481.2 89.6L481.2 91.1L481.2 92.6L481.2 94.1L481.2 95.6L481.2 97.1L481.2 98.6L481.2 100.1L481.2 101.6L481.2 103.1L481.2 104.6L481.2 106.1L481.2 107.6L481.2 109.1L481.2 110.6L481.2 112.1L481.2 113.6L481.2 115.1L481.2 116.6L481.2 118.1L481.2 119.6L481.2 121.1L481.2 122.6L481.2 124.1L481.2 125.6L481.2 127.1L481.2 128.6L481.2 130.1L481.2 131.6L481.2 133.1L481.2 134.6L481.2 136.1L481.2 137.6L481.2 139.1L481.2 140.6L481.2 142.1L481.2 143.6L481.2 145.1L481.2 146.6L481.2 148.1L481.2 149.6L481.2 151.1L481.2 152.6L481.2 154.1L481.2 155.6L481.2 157.1L481.2 158.6L481.2 160.1L481.2 161.6L481.2 163.1L481.2 164.6L481.2 166.1L481.2 167.6L481.2 169.1L481.2 170.6L481.2 172.1L481.2 173.6L481.2 175.1L481.2 176.6L481.2 178.1L481.2 179.6L481.2 181.1L481.2 182.6L481.2 184.1L481.2 185.6L481.2 187.1L481.2 188.6L481.2 190.1L481.2 191.6L481.2 193.1L481.2 194.6L481.2 196.1L481.2 197.6L481.2 199.1L481.2 200.6L481.2 202.1L481.2 203.6L481.2 205.1L481.2 206.6L481.2 208.1L481.2 209.6L481.2 211.1L481.2 212.6L481.2 214.1L481.2 215.6L481.2 217.1L481.2 218.6L481.2 220.1L481.2 221.6L481.2 223.1L481.2 224.6L481.2 226.1L481.2 227.6L481.2 229.1L481.2 230.6L481.2 232.1L481.2 233.6L481.2 235.1L481.2 236.6L481.2 238.1L481.2 239.6L481.2 241.1L481.2 242.6L481.2 244.1L481.2 245.6L481.2 247.1L481.2 248.6L481.2 250.1L481.2 251.6L481.2 253.1L481.2 254.6L481.2 256.1L481.2 257.6L481.2 259.1L481.2 260.6L481.2 262.1L481.2 263.6L481.2 265.1L481.2 266.6L481.2 268.1L481.2 269.6L481.2 271.1L481.2 272.6L481.2 274.1L481.2 275.6L481.2 277.1L479.9 275.6L479.7 275.4L478.8 274.1L478.2 273.3L477.8 272.6L476.8 271.1L476.7 270.9L475.8 269.6L475.2 268.6L474.9 268.1L474.3 266.6L473.8 265.1L473.7 264.9L473.3 263.6L472.8 262.1L472.2 260.9L472.0 260.6L470.9 259.1L470.7 258.9L469.5 257.6L469.2 257.3L468.1 256.1L467.7 255.5L467.2 254.6L466.3 253.1L466.2 253.0L465.1 251.6L464.7 251.2L463.4 250.1L463.2 249.9L461.7 248.7L461.6 248.6L460.3 247.1L460.2 246.9L459.1 245.6L458.7 245.0L458.0 244.1L457.2 243.0L456.9 242.6L456.0 241.1L455.7 240.4L455.3 239.6L454.6 238.1L454.2 237.2L453.9 236.6L453.1 235.1L452.7 234.5L451.5 233.6L451.2 233.4L450.0 232.1L449.7 231.8L448.6 230.6L448.2 230.2L446.8 229.1L446.7 229.0L445.2 228.3L443.7 228.0L442.2 228.0L440.7 228.4L439.2 229.0L438.9 229.1L437.7 230.1L437.2 230.6L436.3 232.1L436.2 232.5L435.2 233.6L434.7 233.9L433.2 235.0L433.1 235.1L432.7 236.6L432.4 238.1L432.0 239.6L431.7 241.1L431.7 241.3L431.5 242.6L431.3 244.1L431.1 245.6L431.0 247.1L430.8 248.6L430.7 250.1L430.6 251.6L430.5 253.1L430.3 254.6L430.2 256.1L430.2 256.4L430.1 257.6L430.0 259.1L430.0 260.6L429.9 262.1L429.9 263.6L429.8 265.1L429.6 266.6L429.5 268.1L429.3 269.6L429.2 271.1L429.1 272.6L428.9 274.1L428.8 275.6L428.7 276.3L428.6 277.1L428.4 278.6L428.3 280.1L428.1 281.6L427.9 283.1L427.7 284.6L427.5 286.1L427.3 287.6L427.2 288.1L427.1 289.1L426.9 290.6L426.8 292.1L426.7 293.6L426.6 295.1L426.5 296.6L426.4 298.1L426.3 299.6L426.1 301.1L425.9 302.6L425.7 304.1L425.7 304.3L425.5 305.6L425.2 307.1L425.0 308.6L424.7 310.1L424.4 311.6L424.2 312.7L424.1 313.1L423.8 314.6L423.5 316.1L423.2 317.6L422.9 319.1L422.7 320.6L422.7 320.6L422.5 322.1L422.2 323.6L422.0 325.1L421.8 326.6L421.6 328.1L421.3 329.6L421.2 330.1L421.0 331.1L420.6 332.6L420.2 334.1L419.8 335.6L419.7 335.8L419.4 337.1L419.0 338.6L418.6 340.1L418.2 341.6L418.2 341.8L417.9 343.1L417.5 344.6L417.1 346.1L416.7 347.5L416.7 347.6L416.2 349.1L415.7 350.6L415.2 352.1L415.2 352.2L414.7 353.6L414.3 355.1L413.8 356.6L413.7 357.2L413.4 358.1L412.7 359.6L412.2 360.3L411.8 361.1L411.2 362.6L410.8 364.1L410.7 364.4L410.4 365.6L410.3 367.1L410.0 368.6L409.3 370.1L409.2 370.2L408.3 371.6L407.7 372.6L407.4 373.1L406.7 374.6L406.4 376.1L406.4 377.6L406.2 378.5L406.1 379.1L405.6 380.6L405.1 382.1L404.7 383.3L404.6 383.6L404.0 385.1L403.4 386.6L403.2 387.1L402.8 388.1L402.3 389.6L401.8 391.1L401.7 391.5L401.4 392.6L400.9 394.1L400.5 395.6L400.2 397.0L400.2 397.1L399.8 398.6L399.5 400.1L399.1 401.6L398.7 403.1L398.7 403.2L398.4 404.6L398.0 406.1L397.6 407.6L397.2 409.0L397.2 409.1L396.8 410.6L396.4 412.1L396.0 413.6L395.7 414.6L395.6 415.1L395.2 416.6L394.8 418.1L394.4 419.6L394.2 420.7L394.1 421.1L393.8 422.6L393.4 424.1L393.1 425.6L392.9 427.1L392.7 427.9L392.6 428.6L392.3 430.1L392.1 431.6L391.2 431.6L389.7 431.6L388.2 431.6L386.7 431.6L385.2 431.6L383.7 431.6L382.2 431.6L380.7 431.6L379.2 431.6L377.7 431.6L376.2 431.6L374.7 431.6L373.2 431.6L371.7 431.6L370.2 431.6L368.7 431.6L367.2 431.6L365.7 431.6L364.2 431.6L362.7 431.6L361.2 431.6L359.7 431.6L358.2 431.6L356.7 431.6L355.2 431.6L353.7 431.6L352.2 431.6L350.7 431.6L349.2 431.6L347.7 431.6L346.2 431.6L344.7 431.6L343.2 431.6L341.7 431.6L340.2 431.6L338.7 431.6L337.2 431.6L335.7 431.6L334.2 431.6L332.7 431.6L331.2 431.6L329.7 431.6L328.2 431.6L326.7 431.6L325.2 431.6L323.7 431.6L322.2 431.6L320.7 431.6L319.2 431.6L317.7 431.6L316.2 431.6L314.7 431.6L313.2 431.6L311.7 431.6L310.2 431.6L308.7 431.6L307.2 431.6L305.7 431.6L304.2 431.6L302.7 431.6L301.2 431.6L299.7 431.6L298.2 431.6L296.7 431.6L295.2 431.6L293.7 431.6L292.2 431.6L290.7 431.6L289.2 431.6L287.7 431.6L286.2 431.6L284.7 431.6L283.2 431.6L281.7 431.6L280.2 431.6L278.7 431.6L277.2 431.6L275.7 431.6L274.2 431.6L272.7 431.6L271.2 431.6L269.7 431.6L268.2 431.6L266.7 431.6L265.2 431.6L263.7 431.6L262.2 431.6L260.7 431.6L259.2 431.6L257.7 431.6L256.2 431.6L254.7 431.6L253.2 431.6L251.7 431.6L250.2 431.6L248.7 431.6L247.2 431.6L245.7 431.6L244.2 431.6L242.7 431.6L241.2 431.6L239.7 431.6L238.2 431.6L236.7 431.6L235.2 431.6L233.7 431.6L232.2 431.6L230.7 431.6L229.2 431.6L227.7 431.6L226.2 431.6L224.7 431.6L223.2 431.6L221.7 431.6L220.2 431.6L218.7 431.6L217.2 431.6L215.7 431.6L214.2 431.6L212.7 431.6L211.2 431.6L209.7 431.6L208.2 431.6L206.7 431.6L205.2 431.6L203.7 431.6L202.2 431.6L200.7 431.6L199.2 431.6L197.7 431.6L196.2 431.6L194.7 431.6L193.2 431.6L191.7 431.6L190.2 431.6L188.7 431.6L187.2 431.6L185.7 431.6L184.2 431.6L182.7 431.6L181.2 431.6L179.7 431.6L178.2 431.6L176.7 431.6L175.2 431.6L173.7 431.6L172.2 431.6L170.7 431.6L169.2 431.6L167.7 431.6L166.2 431.6L164.7 431.6L163.2 431.6L161.7 431.6L160.2 431.6L158.7 431.6L157.2 431.6L155.7 431.6L154.2 431.6L152.7 431.6L151.2 431.6L149.7 431.6L148.2 431.6L146.7 431.6L145.2 431.6L143.7 431.6L142.2 431.6L140.7 431.6L139.2 431.6L137.7 431.6L136.2 431.6L134.7 431.6L133.2 431.6L131.7 431.6L130.2 431.6L128.7 431.6L127.2 431.6L125.7 431.6L124.2 431.6L122.7 431.6L121.2 431.6L119.7 431.6L118.2 431.6L116.7 431.6L115.2 431.6L113.7 431.6L112.2 431.6L110.7 431.6L109.2 431.6L107.7 431.6L106.2 431.6L104.7 431.6L103.2 431.6L103.2 430.1L103.2 428.6L103.2 427.1L103.2 425.6L103.2 424.1L103.2 422.6L103.2 421.1L103.2 419.6L103.2 418.1L103.2 416.6L103.2 415.1L103.2 413.6L103.2 412.1L103.2 410.6L103.2 409.1L103.2 407.6L103.2 406.1L103.2 404.6L103.2 403.1L103.2 401.6L103.2 400.1L103.2 398.6L103.2 397.1L103.2 395.6L103.2 394.1L103.2 392.6L103.2 391.1L103.2 389.6L103.2 388.1L103.2 386.6L103.2 385.1L103.2 383.6L103.2 382.1L103.2 380.6L103.2 379.1L103.2 377.6L103.2 376.1L103.2 374.6L103.2 373.1L103.2 371.6L103.2 370.1L103.2 368.6L103.2 367.1L103.2 365.6L103.2 364.1L103.2 362.6L103.2 361.1L103.2 359.6L103.2 358.1L103.2 356.6L103.2 355.1L103.2 353.6L103.2 352.1L103.2 350.6L103.2 349.1L103.2 347.6L103.2 346.1L103.2 344.6L103.2 343.1L103.2 341.6L103.2 340.1L103.2 338.6L103.2 337.1L103.2 335.6L103.2 334.1L103.2 332.6L103.2 331.1L103.2 329.6L103.2 328.1L103.2 326.6L103.2 325.1L103.2 323.6L103.2 322.1L103.2 320.6L103.2 319.1L103.2 317.6L103.2 316.1L103.2 314.6L103.2 313.1L103.2 311.6L103.2 310.1L103.2 308.6L103.2 307.1L103.2 305.6L103.2 304.1L103.2 302.6L103.2 301.1L103.2 299.6L103.2 298.1L103.2 296.6L103.2 295.1L103.2 293.6L103.2 292.1L103.2 290.6L103.2 289.1L103.2 287.6L103.2 286.1L103.2 284.6L103.2 283.1L103.2 281.6L103.2 280.1L103.2 278.6L103.2 277.1L103.2 275.6L103.2 274.1L103.2 272.6L103.2 271.1L103.2 269.6L103.2 268.1L103.2 266.6L103.2 265.1L103.2 263.6L103.2 262.1L103.2 260.6L103.2 259.1L103.2 257.6L103.2 256.1L103.2 254.6L103.2 253.1L103.2 251.6L103.2 250.1L103.2 248.6L103.2 247.1L103.2 245.6L103.2 244.1L103.2 242.6L103.2 241.1L103.2 239.6L103.2 238.1L103.2 236.6L103.2 235.1L103.2 233.6L103.2 232.1L103.2 230.6L103.2 229.1L103.2 227.6L103.2 226.1L103.2 224.6L103.2 223.1L103.2 221.6L103.2 220.1L103.2 218.6L103.2 217.1L103.2 215.6L103.2 214.1L103.2 212.6L103.2 211.1L103.2 209.6L103.2 208.1L103.2 206.6L103.2 205.1L103.2 203.6L103.2 202.1L103.2 200.6L103.2 199.1L103.2 197.6L103.2 196.1L103.2 194.6L103.2 193.1L103.2 191.6L103.2 190.1L103.2 188.6L103.2 187.1L103.2 185.6L103.2 184.1L103.2 182.6L103.2 181.1L103.2 179.6L103.2 178.1L103.2 176.6L103.2 175.1L103.2 173.6L103.2 172.1L103.2 170.6L103.2 169.1L103.2 167.6L103.2 166.1L103.2 164.6L103.2 163.1L103.2 161.6L103.2 160.1L103.2 158.6L103.2 157.1L103.2 155.6L103.2 154.1L103.2 152.6L103.2 151.1L103.2 149.6L103.2 148.1L103.2 146.6L103.2 145.1L103.2 143.6L103.2 142.1L103.2 140.6L103.2 139.1L103.2 137.6L103.2 136.1L103.2 134.6L103.2 133.1L103.2 131.6L103.2 130.1L103.2 128.6L103.2 127.1L103.2 125.6L103.2 124.1L103.2 122.6L103.2 121.1L103.2 119.6L103.2 118.1L103.2 116.6L103.2 115.1L103.2 113.6L103.2 112.1L103.2 110.6L103.2 109.1L103.2 107.6L103.2 106.1L103.2 104.6L103.2 103.1L103.2 101.6L103.2 100.1L103.2 98.6L103.2 97.1L103.2 95.6L103.2 94.1L103.2 92.6L103.2 91.1L103.2 89.6L103.2 88.1L103.2 86.6L103.2 85.1L103.2 83.6L103.2 82.1L103.2 80.6L103.2 79.1L103.2 77.6L103.2 76.1L103.2 74.6L103.2 73.1L103.2 71.6L103.2 70.1L103.2 68.6L103.2 67.1L103.2 65.6L103.2 64.1L103.2 62.6L103.2 61.1L103.2 59.6L103.2 58.1L103.2 56.6L103.2 55.1Z"/>
<path fill="#2f6c8e" d="M103.2 53.6L104.7 53.6L106.2 53.6L107.7 53.6L109.2 53.6L110.7 53.6L112.2 53.6L113.7 53.6L115.2 53.6L116.7 53.6L118.2 53.6L119.7 53.6L121.2 53.6L122.7 53.6L124.2 53.6L125.7 53.6L127.2 53.6L128.7 53.6L130.2 53.6L131.7 53.6L133.2 53.6L134.7 53.6L136.2 53.6L137.7 53.6L139.2 53.6L140.7 53.6L142.2 53.6L143.7 53.6L145.2 53.6L146.7 53.6L148.2 53.6L149.7 53.6L151.2 53.6L152.7 53.6L154.2 53.6L155.7 53.6L157.2 53.6L158.7 53.6L160.2 53.6L161.7 53.6L163.2 53.6L164.7 53.6L166.2 53.6L167.7 53.6L169.2 53.6L170.7 53.6L172.2 53.6L173.7 53.6L175.2 53.6L176.7 53.6L178.2 53.6L179.7 53.6L181.2 53.6L182.7 53.6L184.2 53.6L185.7 53.6L187.2 53.6L188.7 53.6L190.2 53.6L191.7 53.6L193.2 53.6L194.7 53.6L196.2 53.6L197.7 53.6L199.2 53.6L200.7 53.6L202.2 53.6L203.7 53.6L205.2 53.6L206.7 53.6L208.2 53.6L209.7 53.6L211.2 53.6L212.7 53.6L214.2 53.6L215.7 53.6L217.2 53.6L218.7 53.6L220.2 53.6L221.7 53.6L223.2 53.6L224.7 53.6L226.2 53.6L227.7 53.6L229.2 53.6L230.7 53.6L232.2 53.6L233.7 53.6L235.2 53.6L236.7 53.6L238.2 53.6L239.7 53.6L241.2 53.6L242.7 53.6L244.2 53.6L245.7 53.6L247.2 53.6L248.7 53.6L250.2 53.6L251.7 53.6L253.2 53.6L254.7 53.6L256.2 53.6L257.7 53.6L259.2 53.6L260.7 53.6L262.2 53.6L263.7 53.6L265.2 53.6L266.7 53.6L268.2 53.6L269.7 53.6L271.2 53.6L272.7 53.6L274.2 53.6L275.7 53.6L277.2 53.6L278.7 53.6L280.2 53.6L281.7 53.6L283.2 53.6L284.7 53.6L286.2 53.6L287.7 53.6L289.2 53.6L290.7 53.6L292.2 53.6L293.7 53.6L295.2 53.6L296.7 53.6L298.2 53.6L299.7 53.6L301.2 53.6L302.7 53.6L304.2 53.6L305.7 53.6L307.2 53.6L308.7 53.6L310.2 53.6L311.7 53.6L313.2 53.6L314.7 53.6L316.2 53.6L317.7 53.6L319.2 53.6L320.7 53.6L322.2 53.6L323.7 53.6L325.2 53.6L326.7 53.6L328.2 53.6L329.7 53.6L331.2 53.6L332.7 53.6L334.2 53.6L335.7 53.6L337.2 53.6L338.7 53.6L340.2 53.6L341.7 53.6L343.2 53.6L344.7 53.6L346.2 53.6L347.7 53.6L349.2 53.6L350.7 53.6L352.2 53.6L353.7 53.6L355.2 53.6L356.7 53.6L358.2 53.6L359.7 53.6L361.2 53.6L362.7 53.6L364.2 53.6L365.7 53.6L367.2 53.6L368.7 53.6L370.2 53.6L371.7 53.6L373.2 53.6L374.7 53.6L376.2 53.6L377.7 53.6L379.2 53.6L380.7 53.6L382.2 53.6L383.7 53.6L385.2 53.6L386.7 53.6L388.2 53.6L389.7 53.6L391.2 53.6L392.7 53.6L394.2 53.6L395.7 53.6L397.2 53.6L398.7 53.6L400.2 53.6L401.7 53.6L403.2 53.6L404.7 53.6L406.2 53.6L407.7 53.6L409.2 53.6L410.7 53.6L412.2 53.6L413.7 53.6L415.2 53.6L416.7 53.6L418.2 53.6L419.7 53.6L421.2 53.6L422.7 53.6L424.2 53.6L425.7 53.6L427.2 53.6L428.7 53.6L430.2 53.6L431.7 53.6L433.2 53.6L434.7 53.6L436.2 53.6L437.7 53.6L439.2 53.6L440.7 53.6L442.2 53.6L443.7 53.6L445.2 53.6L446.7 53.6L448.2 53.6L449.7 53.6L451.2 53.6L452.7 53.6L454.2 53.6L455.7 53.6L457.2 53.6L458.7 53.6L460.2 53.6L461.7 53.6L463.2 53.6L464.7 53.6L466.2 53.6L467.7 53.6L469.2 53.6L470.7 53.6L472.2 53.6L473.7 53.6L475.2 53.6L476.7 53.6L478.2 53.6L479.7 53.6L481.2 53.6L481.2 55.1L481.2 56.6L481.2 58.1L481.2 59.6L481.2 61.1L481.2 62.6L481.2 64.1L481.2 65.6L481.2 67.1L481.2 68.6L481.2 70.1L481.2 71.6L481.2 73.1L481.2 74.6L481.2 76.1L481.2 77.6L481.2 79.1L481.2 80.6L481.2 82.1L481.2 83.6L481.2 85.1L481.2 86.6L481.2 88.1L481.2 89.6L481.2 91.1L481.2 92.6L481.2 94.1L481.2 95.6L481.2 97.1L481.2 98.6L481.2 100.1L481.2 101.6L481.2 103.1L481.2 104.6L481.2 106.1L481.2 107.6L481.2 109.1L481.2 110.6L481.2 112.1L481.2 113.6L481.2 115.1L481.2 116.6L481.2 118.1L481.2 119.6L481.2 121.1L481.2 122.6L481.2 124.1L481.2 125.6L481.2 127.1L481.2 128.6L481.2 130.1L481.2 131.6L481.2 133.1L481.2 134.6L481.2 136.1L481.2 137.6L481.2 139.1L481.2 140.6L481.2 142.1L481.2 143.6L481.2 145.1L481.2 146.6L481.2 148.1L481.2 149.6L481.2 151.1L481.2 152.6L481.2 154.1L481.2 155.6L481.2 157.1L481.2 158.6L481.2 160.1L481.2 161.6L481.2 163.1L481.2 164.6L481.2 166.1L481.2 167.6L481.2 169.1L481.2 170.6L481.2 172.1L481.2 173.6L481.2 175.1L481.2 176.6L481.2 178.1L481.2 179.6L481.2 181.1L481.2 182.6L481.2 184.1L481.2 185.6L481.2 187.1L481.2 188.6L481.2 190.1L481.2 191.6L481.2 193.1L481.2 194.6L481.2 196.1L481.2 197.6L481.2 199.1L481.2 200.6L481.2 202.1L481.2 203.6L481.2 205.1L481.2 206.6L481.2 208.1L481.2 209.6L481.2 211.1L481.2 212.6L481.2 214.1L481.2 215.6L481.2 217.1L481.2 218.6L481.2 220.1L481.2 221.6L481.2 223.1L481.2 224.6L481.2 226.1L481.2 227.6L481.2 229.1L481.2 230.6L481.2 232.1L481.2 233.6L481.2 235.1L481.2 236.6L481.2 238.1L481.2 239.6L481.2 241.1L481.2 242.6L481.2 244.1L481.2 245.6L481.2 247.1L481.2 248.6L481.2 250.1L481.2 251.6L481.2 253.1L481.2 254.6L481.2 256.1L481.2 257.6L481.2 259.1L481.2 260.6L481.2 262.1L481.2 263.6L481.2 265.1L481.2 266.6L481.2 268.1L481.2 268.9L480.5 268.1L479.7 267.0L479.4 266.6L478.4 265.1L478.2 264.7L477.6 263.6L476.8 262.1L476.7 261.8L476.1 260.6L475.4 259.1L475.2 258.7L474.5 257.6L473.7 256.5L473.4 256.1L472.2 254.6L472.2 254.5L471.4 253.1L470.8 251.6L470.7 251.2L470.2 250.1L469.3 248.6L469.2 248.4L468.2 247.1L467.7 246.4L467.1 245.6L466.2 244.2L466.2 244.1L465.5 242.6L464.9 241.1L464.7 240.6L464.3 239.6L463.8 238.1L463.2 236.6L463.2 236.6L462.5 235.1L461.7 233.8L461.6 233.6L460.5 232.1L460.2 231.8L459.3 230.6L458.7 229.8L458.3 229.1L457.6 227.6L457.2 226.9L456.7 226.1L455.7 225.0L455.4 224.6L454.2 223.4L454.0 223.1L453.0 221.6L452.7 221.1L451.8 220.1L451.2 219.5L450.0 218.6L449.7 218.3L448.3 217.1L448.2 217.0L446.7 215.7L446.5 215.6L445.2 214.8L444.4 214.1L443.7 213.6L442.6 212.6L442.2 212.3L440.7 211.4L440.0 211.1L439.2 210.8L437.7 210.2L436.4 209.6L436.2 209.5L434.7 209.0L433.2 208.5L431.7 208.2L431.0 208.1L430.2 208.0L428.7 207.8L427.2 207.7L425.7 207.8L424.2 208.0L423.7 208.1L422.7 208.4L421.2 209.0L420.4 209.6L419.7 210.2L418.9 211.1L418.2 212.2L418.0 212.6L417.6 214.1L417.4 215.6L417.3 217.1L417.2 218.6L417.1 220.1L417.0 221.6L416.9 223.1L416.8 224.6L416.7 226.0L416.7 226.1L416.6 227.6L416.5 229.1L416.5 230.6L416.5 232.1L416.5 233.6L416.6 235.1L416.6 236.6L416.7 238.1L416.7 238.5L416.7 239.6L416.8 241.1L416.8 242.6L416.8 244.1L416.8 245.6L416.8 247.1L416.9 248.6L416.9 250.1L417.0 251.6L417.2 253.1L417.5 254.6L417.9 256.1L418.2 257.6L418.2 257.6L418.4 259.1L418.5 260.6L418.2 262.1L418.2 262.2L417.4 263.6L416.9 265.1L416.9 266.6L417.0 268.1L417.2 269.6L417.4 271.1L417.6 272.6L417.8 274.1L417.9 275.6L418.0 277.1L418.0 278.6L417.9 280.1L417.8 281.6L417.6 283.1L417.5 284.6L417.3 286.1L417.1 287.6L417.0 289.1L416.8 290.6L416.8 292.1L416.8 293.6L416.8 295.1L416.9 296.6L416.9 298.1L416.9 299.6L416.8 301.1L416.7 301.9L416.6 302.6L416.4 304.1L416.2 305.6L415.9 307.1L415.6 308.6L415.3 310.1L415.2 310.7L415.0 311.6L414.7 313.1L414.4 314.6L414.2 316.1L413.9 317.6L413.7 318.7L413.6 319.1L413.4 320.6L413.1 322.1L412.9 323.6L412.6 325.1L412.3 326.6L412.2 327.3L412.0 328.1L411.7 329.6L411.3 331.1L411.0 332.6L410.7 334.0L410.7 334.1L410.4 335.6L410.0 337.1L409.7 338.6L409.3 340.1L409.2 340.5L408.9 341.6L408.5 343.1L408.2 344.6L407.8 346.1L407.7 346.5L407.4 347.6L407.0 349.1L406.6 350.6L406.3 352.1L406.2 352.3L405.9 353.6L405.5 355.1L405.2 356.6L404.9 358.1L404.7 359.0L404.5 359.6L403.6 361.1L403.2 361.7L402.7 362.6L401.8 364.1L401.7 364.2L401.1 365.6L400.9 367.1L400.7 368.6L400.2 369.7L400.0 370.1L399.1 371.6L398.7 372.5L398.5 373.1L398.1 374.6L397.6 376.1L397.2 377.0L397.0 377.6L396.4 379.1L395.8 380.6L395.7 381.1L395.4 382.1L395.1 383.6L394.8 385.1L394.4 386.6L394.2 387.0L393.8 388.1L393.0 389.6L392.7 390.1L392.1 391.1L391.4 392.6L391.2 393.3L391.0 394.1L390.7 395.6L390.4 397.1L389.9 398.6L389.7 399.1L389.3 400.1L388.6 401.6L388.2 402.4L387.9 403.1L387.2 404.6L386.7 405.6L386.5 406.1L385.8 407.6L385.2 409.0L385.2 409.1L384.5 410.6L383.9 412.1L383.7 412.7L383.4 413.6L382.8 415.1L382.2 416.6L382.2 416.7L381.7 418.1L381.2 419.6L380.8 421.1L380.7 421.3L380.3 422.6L379.9 424.1L379.5 425.6L379.2 426.7L379.1 427.1L378.8 428.6L378.4 430.1L378.1 431.6L377.7 431.6L376.2 431.6L374.7 431.6L373.2 431.6L371.7 431.6L370.2 431.6L368.7 431.6L367.2 431.6L365.7 431.6L364.2 431.6L362.7 431.6L361.2 431.6L359.7 431.6L358.2 431.6L356.7 431.6L355.2 431.6L353.7 431.6L352.2 431.6L350.7 431.6L349.2 431.6L347.7 431.6L346.2 431.6L344.7 431.6L343.2 431.6L341.7 431.6L340.2 431.6L338.7 431.6L337.2 431.6L335.7 431.6L334.2 431.6L332.7 431.6L331.2 431.6L329.7 431.6L328.2 431.6L326.7 431.6L325.2 431.6L323.7 431.6L322.2 431.6L320.7 431.6L319.2 431.6L317.7 431.6L316.2 431.6L314.7 431.6L313.2 431.6L311.7 431.6L310.2 431.6L308.7 431.6L307.2 431.6L305.7 431.6L304.2 431.6L302.7 431.6L301.2 431.6L299.7 431.6L298.2 431.6L296.7 431.6L295.2 431.6L293.7 431.6L292.2 431.6L290.7 431.6L289.2 431.6L287.7 431.6L286.2 431.6L284.7 431.6L283.2 431.6L281.7 431.6L280.2 431.6L278.7 431.6L277.2 431.6L275.7 431.6L274.2 431.6L272.7 431.6L271.2 431.6L269.7 431.6L268.2 431.6L266.7 431.6L265.2 431.6L263.7 431.6L262.2 431.6L260.7 431.6L259.2 431.6L257.7 431.6L256.2 431.6L254.7 431.6L253.2 431.6L251.7 431.6L250.2 431.6L248.7 431.6L247.2 431.6L245.7 431.6L244.2 431.6L242.7 431.6L241.2 431.6L239.7 431.6L238.2 431.6L236.7 431.6L235.2 431.6L233.7 431.6L232.2 431.6L230.7 431.6L229.2 431.6L227.7 431.6L226.2 431.6L224.7 431.6L223.2 431.6L221.7 431.6L220.2 431.6L218.7 431.6L217.2 431.6L215.7 431.6L214.2 431.6L212.7 431.6L211.2 431.6L209.7 431.6L208.2 431.6L206.7 431.6L205.2 431.6L203.7 431.6L202.2 431.6L200.7 431.6L199.2 431.6L197.7 431.6L196.2 431.6L194.7 431.6L193.2 431.6L191.7 431.6L190.2 431.6L188.7 431.6L187.2 431.6L185.7 431.6L184.2 431.6L182.7 431.6L181.2 431.6L179.7 431.6L178.2 431.6L176.7 431.6L175.2 431.6L173.7 431.6L172.2 431.6L170.7 431.6L169.2 431.6L167.7 431.6L166.2 431.6L164.7 431.6L163.2 431.6L161.7 431.6L160.2 431.6L158.7 431.6L157.2 431.6L155.7 431.6L154.2 431.6L152.7 431.6L151.2 431.6L149.7 431.6L148.2 431.6L146.7 431.6L145.2 431.6L143.7 431.6L142.2 431.6L140.7 431.6L139.2 431.6L137.7 431.6L136.2 431.6L134.7 431.6L133.2 431.6L131.7 431.6L130.2 431.6L128.7 431.6L127.2 431.6L125.7 431.6L124.2 431.6L122.7 431.6L121.2 431.6L119.7 431.6L118.2 431.6L116.7 431.6L115.2 431.6L113.7 431.6L112.2 431.6L110.7 431.6L109.2 431.6L107.7 431.6L106.2 431.6L104.7 431.6L103.2 431.6L103.2 430.1L103.2 428.6L103.2 427.1L103.2 425.6L103.2 424.1L103.2 422.6L103.2 421.1L103.2 419.6L103.2 418.1L103.2 416.6L103.2 415.1L103.2 413.6L103.2 412.1L103.2 410.6L103.2 409.1L103.2 407.6L103.2 406.1L103.2 404.6L103.2 403.1L103.2 401.6L103.2 400.1L103.2 398.6L103.2 397.1L103.2 395.6L103.2 394.1L103.2 392.6L103.2 391.1L103.2 389.6L103.2 388.1L103.2 386.6L103.2 385.1L103.2 383.6L103.2 382.1L103.2 380.6L103.2 379.1L103.2 377.6L103.2 376.1L103.2 374.6L103.2 373.1L103.2 371.6L103.2 370.1L103.2 368.6L103.2 367.1L103.2 365.6L103.2 364.1L103.2 362.6L103.2 361.1L103.2 359.6L103.2 358.1L103.2 356.6L103.2 355.1L103.2 353.6L103.2 352.1L103.2 350.6L103.2 349.1L103.2 347.6L103.2 346.1L103.2 344.6L103.2 343.1L103.2 341.6L103.2 340.1L103.2 338.6L103.2 337.1L103.2 335.6L103.2 334.1L103.2 332.6L103.2 331.1L103.2 329.6L103.2 328.1L103.2 326.6L103.2 325.1L103.2 323.6L103.2 322.1L103.2 320.6L103.2 319.1L103.2 317.6L103.2 316.1L103.2 314.6L103.2 313.1L103.2 311.6L103.2 310.1L103.2 308.6L103.2 307.1L103.2 305.6L103.2 304.1L103.2 302.6L103.2 301.1L103.2 299.6L103.2 298.1L103.2 296.6L103.2 295.1L103.2 293.6L103.2 292.1L103.2 290.6L103.2 289.1L103.2 287.6L103.2 286.1L103.2 284.6L103.2 283.1L103.2 281.6L103.2 280.1L103.2 278.6L103.2 277.1L103.2 275.6L103.2 274.1L103.2 272.6L103.2 271.1L103.2 269.6L103.2 268.1L103.2 266.6L103.2 265.1L103.2 263.6L103.2 262.1L103.2 260.6L103.2 259.1L103.2 257.6L103.2 256.1L103.2 254.6L103.2 253.1L103.2 251.6L103.2 250.1L103.2 248.6L103.2 247.1L103.2 245.6L103.2 244.1L103.2 242.6L103.2 241.1L103.2 239.6L103.2 238.1L103.2 236.6L103.2 235.1L103.2 233.6L103.2 232.1L103.2 230.6L103.2 229.1L103.2 227.6L103.2 226.1L103.2 224.6L103.2 223.1L103.2 221.6L103.2 220.1L103.2 218.6L103.2 217.1L103.2 215.6L103.2 214.1L103.2 212.6L103.2 211.1L103.2 209.6L103.2 208.1L103.2 206.6L103.2 205.1L103.2 203.6L103.2 202.1L103.2 200.6L103.2 199.1L103.2 197.6L103.2 196.1L103.2 194.6L103.2 193.1L103.2 191.6L103.2 190.1L103.2 188.6L103.2 187.1L103.2 185.6L103.2 184.1L103.2 182.6L103.2 181.1L103.2 179.6L103.2 178.1L103.2 176.6L103.2 175.1L103.2 173.6L103.2 172.1L103.2 170.6L103.2 169.1L103.2 167.6L103.2 166.1L103.2 164.6L103.2 163.1L103.2 161.6L103.2 160.1L103.2 158.6L103.2 157.1L103.2 155.6L103.2 154.1L103.2 152.6L103.2 151.1L103.2 149.6L103.2 148.1L103.2 146.6L103.2 145.1L103.2 143.6L103.2 142.1L103.2 140.6L103.2 139.1L103.2 137.6L103.2 136.1L103.2 134.6L103.2 133.1L103.2 131.6L103.2 130.1L103.2 128.6L103.2 127.1L103.2 125.6L103.2 124.1L103.2 122.6L103.2 121.1L103.2 119.6L103.2 118.1L103.2 116.6L103.2 115.1L103.2 113.6L103.2 112.1L103.2 110.6L103.2 109.1L103.2 107.6L103.2 106.1L103.2 104.6L103.2 103.1L103.2 101.6L103.2 100.1L103.2 98.6L103.2 97.1L103.2 95.6L103.2 94.1L103.2 92.6L103.2 91.1L103.2 89.6L103.2 88.1L103.2 86.6L103.2 85.1L103.2 83.6L103.2 82.1L103.2 80.6L103.2 79.1L103.2 77.6L103.2 76.1L103.2 74.6L103.2 73.1L103.2 71.6L103.2 70.1L103.2 68.6L103.2 67.1L103.2 65.6L103.2 64.1L103.2 62.6L103.2 61.1L103.2 59.6L103.2 58.1L103.2 56.6L103.2 55.1ZM136.2 323.0L135.2 323.6L134.7 323.9L133.8 325.1L133.2 326.3L133.1 326.6L132.5 328.1L131.9 329.6L131.7 330.3L131.4 331.1L131.1 332.6L131.2 334.1L131.6 335.6L131.7 335.7L132.6 337.1L133.2 337.7L134.7 338.5L134.8 338.6L136.2 339.0L137.7 339.4L139.2 339.8L140.1 340.1L140.7 340.3L142.2 341.1L142.8 341.6L143.7 342.7L144.0 343.1L144.4 344.6L144.3 346.1L143.7 347.3L143.5 347.6L142.2 348.8L141.8 349.1L140.9 350.6L140.7 351.9L140.7 352.1L140.7 352.3L141.0 353.6L141.9 355.1L142.2 355.4L143.7 356.6L143.7 356.6L145.2 357.3L146.7 357.8L147.7 358.1L148.2 358.2L149.7 358.6L151.2 359.1L152.0 359.6L152.7 360.1L153.9 361.1L154.2 361.3L155.6 362.6L155.7 362.7L157.2 364.0L157.4 364.1L158.7 365.2L159.3 365.6L160.2 366.3L161.4 367.1L161.7 367.3L163.2 368.2L163.9 368.6L164.7 369.1L166.2 369.9L166.6 370.1L167.7 370.6L169.2 371.3L169.9 371.6L170.7 372.0L172.2 372.6L173.1 373.1L173.7 373.4L175.2 374.2L176.2 374.6L176.7 374.8L178.2 375.3L179.7 375.7L181.2 375.8L182.7 375.7L184.2 375.4L185.7 374.6L185.7 374.6L187.2 373.1L187.2 373.1L187.9 371.6L188.3 370.1L188.5 368.6L188.6 367.1L188.4 365.6L187.9 364.1L187.2 362.8L187.1 362.6L186.1 361.1L185.7 360.4L185.3 359.6L184.5 358.1L184.2 357.6L183.6 356.6L182.7 355.3L182.6 355.1L181.4 353.6L181.2 353.4L180.1 352.1L179.7 351.7L178.6 350.6L178.2 350.1L177.2 349.1L176.7 348.6L175.7 347.6L175.2 347.2L173.9 346.1L173.7 346.0L172.2 344.9L171.7 344.6L170.7 343.9L169.3 343.1L169.2 343.0L167.7 342.0L167.2 341.6L166.2 340.8L165.4 340.1L164.7 339.5L163.7 338.6L163.2 338.2L161.8 337.1L161.7 337.0L160.2 335.8L159.9 335.6L158.7 334.7L158.0 334.1L157.2 333.5L156.3 332.6L155.7 332.1L154.5 331.1L154.2 330.9L152.7 329.8L152.4 329.6L151.2 328.8L150.0 328.1L149.7 327.9L148.2 327.1L147.1 326.6L146.7 326.4L145.2 325.5L144.7 325.1L143.7 324.4L142.5 323.6L142.2 323.4L140.7 322.8L139.2 322.5L137.7 322.5Z"/>
<path fill="#25848e" d="M140.6 55.1L140.7 55.1L142.2 54.8L143.7 54.5L145.2 54.2L146.7 53.9L148.0 53.6L148.2 53.6L149.7 53.6L151.2 53.6L152.7 53.6L154.2 53.6L155.7 53.6L157.2 53.6L158.7 53.6L160.2 53.6L161.7 53.6L163.2 53.6L164.7 53.6L166.2 53.6L167.7 53.6L169.2 53.6L170.7 53.6L172.2 53.6L173.7 53.6L175.2 53.6L176.7 53.6L178.2 53.6L179.7 53.6L181.2 53.6L182.7 53.6L184.2 53.6L185.7 53.6L187.2 53.6L188.7 53.6L190.2 53.6L191.7 53.6L193.2 53.6L194.7 53.6L196.2 53.6L197.7 53.6L199.2 53.6L200.7 53.6L202.2 53.6L203.7 53.6L205.2 53.6L206.7 53.6L208.2 53.6L209.7 53.6L211.2 53.6L212.7 53.6L214.2 53.6L215.7 53.6L217.2 53.6L218.7 53.6L220.2 53.6L221.7 53.6L223.2 53.6L224.7 53.6L226.2 53.6L227.7 53.6L229.2 53.6L230.7 53.6L232.2 53.6L233.7 53.6L235.2 53.6L236.7 53.6L238.2 53.6L239.7 53.6L241.2 53.6L242.7 53.6L244.2 53.6L245.7 53.6L247.2 53.6L248.7 53.6L250.2 53.6L251.7 53.6L253.2 53.6L254.7 53.6L256.2 53.6L257.7 53.6L259.2 53.6L260.7 53.6L262.2 53.6L263.7 53.6L265.2 53.6L266.7 53.6L268.2 53.6L269.7 53.6L271.2 53.6L272.7 53.6L274.2 53.6L275.7 53.6L277.2 53.6L278.7 53.6L280.2 53.6L281.7 53.6L283.2 53.6L284.7 53.6L286.2 53.6L287.7 53.6L289.2 53.6L290.7 53.6L292.2 53.6L293.7 53.6L295.2 53.6L296.7 53.6L298.2 53.6L299.7 53.6L301.2 53.6L302.7 53.6L304.2 53.6L305.7 53.6L307.2 53.6L308.7 53.6L310.2 53.6L311.7 53.6L313.2 53.6L314.7 53.6L316.2 53.6L317.7 53.6L319.2 53.6L320.7 53.6L322.2 53.6L323.7 53.6L325.2 53.6L326.7 53.6L328.2 53.6L329.7 53.6L331.2 53.6L332.7 53.6L334.2 53.6L335.2 53.6L335.7 53.8L337.2 54.3L338.7 54.8L339.5 55.1L340.2 55.3L341.7 55.8L343.2 56.2L344.7 56.5L345.1 56.6L346.2 56.8L347.7 57.1L349.2 57.3L350.7 57.5L352.2 57.7L353.7 57.8L355.2 57.9L356.7 57.9L358.2 57.9L359.7 57.9L361.2 57.9L362.7 57.8L364.2 57.7L365.7 57.5L367.2 57.3L368.7 57.0L370.2 56.7L370.8 56.6L371.7 56.4L373.2 55.9L374.7 55.4L375.5 55.1L376.2 54.8L377.7 54.1L378.7 53.6L379.2 53.6L380.7 53.6L382.2 53.6L383.7 53.6L385.2 53.6L386.7 53.6L388.2 53.6L389.7 53.6L391.2 53.6L392.7 53.6L394.2 53.6L395.7 53.6L397.2 53.6L398.7 53.6L400.2 53.6L401.7 53.6L403.2 53.6L404.7 53.6L406.2 53.6L407.7 53.6L409.2 53.6L410.7 53.6L412.2 53.6L413.7 53.6L415.2 53.6L416.7 53.6L418.2 53.6L419.7 53.6L421.2 53.6L422.7 53.6L424.2 53.6L425.7 53.6L427.2 53.6L428.7 53.6L430.2 53.6L431.7 53.6L433.2 53.6L434.7 53.6L436.2 53.6L437.7 53.6L439.2 53.6L440.7 53.6L442.2 53.6L443.7 53.6L445.2 53.6L446.7 53.6L448.2 53.6L449.7 53.6L451.2 53.6L452.7 53.6L454.2 53.6L455.7 53.6L457.2 53.6L458.7 53.6L460.2 53.6L461.7 53.6L463.2 53.6L464.7 53.6L466.2 53.6L467.7 53.6L469.2 53.6L470.7 53.6L472.2 53.6L473.7 53.6L475.2 53.6L476.7 53.6L478.2 53.6L479.7 53.6L481.2 53.6L481.2 55.1L481.2 56.6L481.2 58.1L481.2 59.6L481.2 61.1L481.2 62.6L481.2 64.1L481.2 65.6L481.2 67.1L481.2 68.6L481.2 70.1L481.2 71.6L481.2 73.1L481.2 74.6L481.2 76.1L481.2 77.6L481.2 79.1L481.2 80.6L481.2 82.1L481.2 83.6L481.2 85.1L481.2 86.6L481.2 88.1L481.2 89.6L481.2 91.1L481.2 92.6L481.2 94.1L481.2 95.6L481.2 97.1L481.2 98.6L481.2 100.1L481.2 101.6L481.2 103.1L481.2 104.6L481.2 106.1L481.2 107.6L481.2 109.1L481.2 110.6L481.2 112.1L481.2 113.6L481.2 115.1L481.2 116.6L481.2 118.1L481.2 119.6L481.2 121.1L481.2 122.6L481.2 124.1L481.2 125.6L481.2 127.1L481.2 128.6L481.2 130.1L481.2 131.6L481.2 133.1L481.2 134.6L481.2 136.1L481.2 137.6L481.2 139.1L481.2 140.6L481.2 142.1L481.2 143.6L481.2 145.1L481.2 146.6L481.2 148.1L481.2 149.6L481.2 151.1L481.2 152.6L481.2 154.1L481.2 155.6L481.2 157.1L481.2 158.6L481.2 160.1L481.2 161.6L481.2 163.1L481.2 164.6L481.2 166.1L481.2 167.6L481.2 169.1L481.2 170.6L481.2 172.1L481.2 173.6L481.2 175.1L481.2 176.6L481.2 178.1L481.2 179.6L481.2 181.1L481.2 182.6L481.2 184.1L481.2 185.6L481.2 187.1L481.2 188.6L481.2 190.1L481.2 191.6L481.2 193.1L481.2 194.6L481.2 196.1L481.2 197.6L481.2 199.1L481.2 200.6L481.2 202.1L481.2 203.6L481.2 205.1L481.2 206.6L481.2 208.1L481.2 209.6L481.2 211.1L481.2 212.6L481.2 214.1L481.2 215.6L481.2 217.1L481.2 218.6L481.2 220.1L481.2 221.6L481.2 223.1L481.2 224.6L481.2 226.1L481.2 227.6L481.2 229.1L481.2 230.6L481.2 232.1L481.2 233.6L481.2 235.1L481.2 236.6L481.2 238.1L481.2 239.6L481.2 241.1L481.2 242.6L481.2 244.1L481.2 245.6L481.2 247.1L481.2 248.6L481.2 250.1L481.2 251.6L481.2 253.1L481.2 254.6L481.2 256.1L481.2 257.6L481.2 259.1L481.2 260.6L481.2 260.6L481.2 260.6L480.2 259.1L479.7 258.3L479.3 257.6L478.3 256.1L478.2 256.0L477.2 254.6L476.7 254.0L476.0 253.1L475.2 251.7L475.2 251.6L474.9 250.1L474.6 248.6L474.2 247.1L473.7 245.7L473.7 245.6L473.0 244.1L472.4 242.6L472.2 241.9L472.0 241.1L471.8 239.6L471.7 238.1L471.6 236.6L471.4 235.1L471.1 233.6L470.7 232.2L470.7 232.1L470.0 230.6L469.3 229.1L469.2 229.0L468.4 227.6L467.7 226.2L467.6 226.1L466.4 224.6L466.2 224.3L465.2 223.1L464.7 222.4L464.2 221.6L463.2 220.2L463.1 220.1L461.7 218.6L461.7 218.6L460.2 218.1L458.7 218.2L457.2 217.8L456.3 217.1L455.7 215.9L455.6 215.6L455.7 214.1L455.7 213.8L455.8 212.6L455.7 212.4L454.9 211.1L454.2 210.5L453.1 209.6L452.7 209.4L451.2 208.7L450.3 208.1L449.7 207.7L448.6 206.6L448.2 206.0L447.5 205.1L446.7 204.0L446.0 203.6L445.2 203.1L443.7 202.3L443.5 202.1L442.2 201.2L441.7 200.6L440.7 199.9L439.7 199.1L439.2 198.8L437.7 198.4L436.2 197.7L436.0 197.6L434.7 196.8L433.5 196.1L433.2 195.9L431.7 194.9L431.2 194.6L430.2 193.9L429.0 193.1L428.7 192.9L427.2 191.9L426.7 191.6L425.7 191.0L424.2 190.1L424.2 190.1L422.7 189.3L421.3 188.6L421.2 188.5L419.7 187.9L418.2 187.3L417.8 187.1L416.7 186.7L415.2 186.1L413.8 185.6L413.7 185.6L412.2 185.0L410.7 184.4L410.0 184.1L409.2 183.8L407.7 183.2L406.2 182.6L406.2 182.6L404.7 182.1L403.2 181.7L401.7 181.3L400.7 181.1L400.2 181.0L398.7 180.6L397.2 180.0L396.2 179.6L395.7 179.4L394.2 178.7L393.1 178.1L392.7 177.9L391.2 177.1L389.7 176.7L388.2 176.9L386.7 177.2L385.2 177.5L383.7 177.0L383.1 176.6L382.2 176.1L380.7 175.6L379.2 175.6L377.7 175.8L376.2 176.1L374.8 176.6L374.7 176.6L373.2 177.9L373.0 178.1L372.6 179.6L372.8 181.1L373.2 182.2L373.3 182.6L374.1 184.1L374.7 185.0L375.0 185.6L375.9 187.1L376.2 187.6L376.7 188.6L377.4 190.1L377.7 191.0L377.9 191.6L378.4 193.1L379.1 194.6L379.2 194.8L380.0 196.1L380.7 197.1L381.1 197.6L382.2 198.8L382.5 199.1L383.7 200.4L383.9 200.6L385.2 201.9L385.4 202.1L386.4 203.6L386.7 204.1L387.3 205.1L388.0 206.6L388.2 207.1L388.7 208.1L389.4 209.6L389.7 210.2L390.3 211.1L391.2 212.3L391.4 212.6L392.7 214.1L392.7 214.1L394.0 215.6L394.2 215.8L395.3 217.1L395.7 217.6L396.5 218.6L397.2 219.6L397.5 220.1L398.3 221.6L398.7 222.4L399.0 223.1L399.5 224.6L399.9 226.1L400.2 227.3L400.3 227.6L400.6 229.1L400.9 230.6L401.2 232.1L401.6 233.6L401.7 234.1L401.9 235.1L402.4 236.6L402.9 238.1L403.2 239.1L403.4 239.6L403.8 241.1L404.3 242.6L404.6 244.1L404.7 244.7L404.8 245.6L405.1 247.1L405.3 248.6L405.6 250.1L405.9 251.6L406.2 253.0L406.2 253.1L406.6 254.6L407.0 256.1L407.3 257.6L407.6 259.1L407.7 259.6L407.8 260.6L407.7 262.1L407.7 262.1L407.1 263.6L406.8 265.1L406.7 266.6L406.7 268.1L406.9 269.6L407.0 271.1L407.2 272.6L407.3 274.1L407.4 275.6L407.5 277.1L407.6 278.6L407.6 280.1L407.6 281.6L407.5 283.1L407.4 284.6L407.3 286.1L407.1 287.6L407.0 289.1L406.9 290.6L406.8 292.1L406.8 293.6L406.8 295.1L406.8 296.6L406.9 298.1L406.9 299.6L406.8 301.1L406.7 302.6L406.5 304.1L406.3 305.6L406.2 306.2L406.0 307.1L405.8 308.6L405.4 310.1L405.0 311.6L404.7 312.6L404.6 313.1L404.2 314.6L404.0 316.1L403.9 317.6L403.8 319.1L403.5 320.6L403.2 322.1L403.2 322.1L402.8 323.6L402.5 325.1L402.1 326.6L401.7 328.1L401.7 328.2L401.3 329.6L400.9 331.1L400.5 332.6L400.2 333.7L400.1 334.1L399.7 335.6L399.3 337.1L398.9 338.6L398.7 339.4L398.5 340.1L398.2 341.6L397.8 343.1L397.5 344.6L397.2 345.8L397.1 346.1L396.6 347.6L396.1 349.1L395.7 350.5L395.7 350.6L395.2 352.1L394.8 353.6L394.3 355.1L394.2 355.6L393.9 356.6L393.5 358.1L393.2 359.6L393.0 361.1L393.0 362.6L392.9 364.1L392.7 365.4L392.7 365.6L392.1 367.1L391.2 368.6L391.2 368.7L390.2 370.1L389.7 370.8L389.1 371.6L388.2 372.7L387.9 373.1L386.7 374.5L386.6 374.6L385.6 376.1L385.2 377.0L384.9 377.6L384.2 379.1L383.7 380.3L383.6 380.6L383.0 382.1L382.4 383.6L382.2 384.2L381.9 385.1L381.4 386.6L380.8 388.1L380.7 388.4L380.2 389.6L379.5 391.1L379.2 391.7L378.7 392.6L378.0 394.1L377.7 394.7L377.2 395.6L376.6 397.1L376.2 398.0L375.9 398.6L375.3 400.1L374.7 401.5L374.7 401.6L374.0 403.1L373.2 404.6L373.2 404.6L372.3 406.1L371.7 407.0L371.4 407.6L370.5 409.1L370.2 409.7L369.7 410.6L369.0 412.1L368.7 412.7L368.3 413.6L367.6 415.1L367.2 416.2L367.1 416.6L366.5 418.1L366.0 419.6L365.7 420.7L365.6 421.1L365.1 422.6L364.7 424.1L364.3 425.6L364.2 425.9L363.9 427.1L363.5 428.6L363.1 430.1L362.7 431.6L362.7 431.6L361.2 431.6L359.7 431.6L358.2 431.6L356.7 431.6L355.2 431.6L353.7 431.6L352.2 431.6L350.7 431.6L349.2 431.6L347.7 431.6L346.2 431.6L344.7 431.6L343.2 431.6L341.7 431.6L340.2 431.6L338.7 431.6L337.2 431.6L335.7 431.6L334.2 431.6L332.7 431.6L331.2 431.6L329.7 431.6L328.2 431.6L326.7 431.6L325.2 431.6L323.7 431.6L322.2 431.6L320.7 431.6L319.2 431.6L317.7 431.6L316.2 431.6L314.7 431.6L313.2 431.6L311.7 431.6L310.2 431.6L308.7 431.6L307.2 431.6L305.7 431.6L304.2 431.6L302.7 431.6L301.2 431.6L299.7 431.6L298.2 431.6L296.7 431.6L295.2 431.6L293.7 431.6L292.2 431.6L290.7 431.6L289.2 431.6L287.7 431.6L286.2 431.6L284.7 431.6L283.2 431.6L281.7 431.6L280.2 431.6L278.7 431.6L277.2 431.6L275.7 431.6L274.2 431.6L272.7 431.6L271.2 431.6L269.7 431.6L268.2 431.6L266.7 431.6L265.2 431.6L263.7 431.6L262.2 431.6L260.7 431.6L259.2 431.6L257.7 431.6L256.2 431.6L254.7 431.6L253.2 431.6L251.7 431.6L250.2 431.6L248.7 431.6L247.2 431.6L245.7 431.6L244.2 431.6L242.7 431.6L241.2 431.6L239.7 431.6L238.2 431.6L236.7 431.6L235.2 431.6L233.7 431.6L232.2 431.6L230.7 431.6L229.2 431.6L227.7 431.6L226.2 431.6L224.7 431.6L223.2 431.6L221.7 431.6L220.2 431.6L218.7 431.6L217.2 431.6L215.7 431.6L214.2 431.6L212.7 431.6L211.2 431.6L209.7 431.6L208.2 431.6L206.7 431.6L205.2 431.6L203.7 431.6L202.2 431.6L200.7 431.6L199.2 431.6L197.7 431.6L196.2 431.6L194.7 431.6L193.2 431.6L191.7 431.6L190.2 431.6L188.7 431.6L187.2 431.6L185.7 431.6L184.2 431.6L182.7 431.6L181.2 431.6L179.7 431.6L178.2 431.6L176.7 431.6L175.2 431.6L173.7 431.6L172.2 431.6L170.7 431.6L169.2 431.6L167.7 431.6L166.2 431.6L164.7 431.6L163.2 431.6L161.7 431.6L160.2 431.6L158.7 431.6L157.2 431.6L155.7 431.6L154.2 431.6L152.7 431.6L151.2 431.6L149.7 431.6L148.2 431.6L146.7 431.6L145.2 431.6L143.7 431.6L142.2 431.6L140.7 431.6L139.2 431.6L137.7 431.6L136.2 431.6L134.7 431.6L133.2 431.6L131.7 431.6L130.2 431.6L128.7 431.6L127.2 431.6L125.7 431.6L124.2 431.6L122.7 431.6L121.2 431.6L119.7 431.6L118.2 431.6L116.7 431.6L115.2 431.6L113.7 431.6L112.2 431.6L110.7 431.6L109.2 431.6L107.7 431.6L106.2 431.6L104.7 431.6L103.2 431.6L103.2 430.1L103.2 428.6L103.2 427.1L103.2 425.6L103.2 424.1L103.2 422.6L103.2 421.1L103.2 419.6L103.2 418.1L103.2 416.6L103.2 415.1L103.2 413.6L103.2 412.1L103.2 410.6L103.2 409.1L103.2 407.6L103.2 406.1L103.2 404.6L103.2 403.1L103.2 401.6L103.2 400.1L103.2 398.6L103.2 397.1L103.2 395.6L103.2 394.1L103.2 392.6L103.2 391.1L103.2 389.6L103.2 388.1L103.2 386.6L103.2 385.1L103.2 383.6L103.2 382.1L103.2 380.6L103.2 379.1L103.2 377.6L103.2 376.1L103.2 374.6L103.2 373.1L103.2 371.6L103.2 370.1L103.2 368.6L103.2 367.1L103.2 365.6L103.2 364.1L103.2 362.6L103.2 361.1L103.2 359.6L103.2 358.1L103.2 356.6L103.2 355.1L103.2 353.6L103.2 352.2L104.6 353.6L104.7 353.7L106.1 355.1L106.2 355.2L107.7 356.6L107.7 356.6L109.2 358.0L109.3 358.1L110.7 359.4L110.9 359.6L112.2 360.7L112.6 361.1L113.7 362.1L114.3 362.6L115.2 363.4L116.0 364.1L116.7 364.6L117.8 365.6L118.2 365.9L119.7 367.1L119.7 367.1L121.2 368.2L121.7 368.6L122.7 369.3L123.9 370.1L124.2 370.3L125.7 371.3L126.2 371.6L127.2 372.2L128.7 373.0L128.9 373.1L130.2 373.8L131.7 374.5L131.9 374.6L133.2 375.2L134.7 375.8L135.4 376.1L136.2 376.4L137.7 377.0L139.2 377.5L139.5 377.6L140.7 378.0L142.2 378.5L143.7 379.0L144.1 379.1L145.2 379.5L146.7 379.9L148.2 380.4L148.8 380.6L149.7 380.9L151.2 381.3L152.7 381.8L153.8 382.1L154.2 382.2L155.7 382.6L157.2 383.1L158.7 383.5L159.2 383.6L160.2 383.8L161.7 384.2L163.2 384.6L164.7 384.9L165.8 385.1L166.2 385.2L167.7 385.5L169.2 385.8L170.7 386.0L172.2 386.2L173.7 386.4L175.1 386.6L175.2 386.6L176.7 386.8L178.2 387.0L179.7 387.2L181.2 387.6L182.7 387.9L183.4 388.1L184.2 388.3L185.7 388.7L187.2 389.0L188.7 389.4L189.6 389.6L190.2 389.8L191.7 390.1L193.2 390.5L194.7 390.9L195.6 391.1L196.2 391.3L197.7 391.6L199.2 392.0L200.7 392.4L201.3 392.6L202.2 392.8L203.7 393.2L205.2 393.6L206.7 394.1L206.8 394.1L208.2 394.5L209.7 395.0L211.2 395.3L212.7 395.4L214.2 395.0L215.7 394.3L216.0 394.1L217.2 393.1L217.8 392.6L218.7 391.5L219.0 391.1L220.0 389.6L220.2 389.2L220.8 388.1L221.6 386.6L221.7 386.4L222.3 385.1L222.8 383.6L223.2 382.3L223.3 382.1L223.5 380.6L223.7 379.1L223.7 377.6L223.6 376.1L223.4 374.6L223.2 373.7L223.1 373.1L222.7 371.6L222.4 370.1L222.0 368.6L221.7 367.5L221.6 367.1L221.2 365.6L220.8 364.1L220.4 362.6L220.2 362.0L219.9 361.1L219.5 359.6L219.0 358.1L218.7 356.8L218.6 356.6L218.3 355.1L217.9 353.6L217.6 352.1L217.3 350.6L217.2 350.3L216.9 349.1L216.6 347.6L216.3 346.1L215.9 344.6L215.7 343.7L215.5 343.1L215.2 341.6L214.8 340.1L214.5 338.6L214.2 337.1L214.2 337.1L213.9 335.6L213.7 334.1L213.5 332.6L213.4 331.1L213.4 329.6L213.5 328.1L213.6 326.6L213.7 325.1L213.9 323.6L214.0 322.1L214.1 320.6L214.2 319.1L214.2 318.8L214.2 317.6L214.3 316.1L214.2 314.6L214.2 313.1L214.2 313.1L214.1 311.6L214.0 310.1L213.9 308.6L213.8 307.1L213.6 305.6L213.5 304.1L213.3 302.6L213.2 301.1L213.0 299.6L212.9 298.1L212.7 296.6L212.7 296.1L212.6 295.1L212.5 293.6L212.5 292.1L212.4 290.6L212.4 289.1L212.3 287.6L212.3 286.1L212.3 284.6L212.3 283.1L212.2 281.6L212.2 280.1L212.1 278.6L212.0 277.1L211.9 275.6L211.8 274.1L211.8 272.6L211.8 271.1L212.0 269.6L212.4 268.1L212.7 267.5L213.2 266.6L214.0 265.1L214.2 264.7L214.8 263.6L215.7 262.2L215.8 262.1L217.2 260.9L217.5 260.6L218.7 259.8L219.8 259.1L220.2 258.9L221.7 258.2L223.1 257.6L223.2 257.5L224.7 256.8L225.9 256.1L226.2 255.9L227.7 255.0L228.4 254.6L229.2 254.1L230.7 253.1L230.7 253.1L232.2 252.0L232.7 251.6L233.7 250.8L234.7 250.1L235.2 249.7L236.7 248.7L236.9 248.6L238.2 247.7L239.2 247.1L239.7 246.7L241.2 245.7L241.3 245.6L242.7 244.1L242.7 244.1L243.5 242.6L244.2 241.1L244.2 241.0L244.6 239.6L245.0 238.1L245.3 236.6L245.5 235.1L245.7 234.1L245.8 233.6L246.2 232.1L246.8 230.6L247.2 229.8L247.5 229.1L248.3 227.6L248.7 226.9L249.1 226.1L249.9 224.6L250.2 223.9L250.5 223.1L251.1 221.6L251.7 220.1L251.7 220.0L252.2 218.6L252.7 217.1L253.2 215.7L253.2 215.6L253.7 214.1L254.1 212.6L254.6 211.1L254.7 210.8L255.3 209.6L256.1 208.1L256.2 207.8L256.9 206.6L257.7 205.3L257.8 205.1L258.6 203.6L259.2 202.3L259.3 202.1L259.9 200.6L260.5 199.1L260.7 198.3L260.9 197.6L261.2 196.1L261.4 194.6L261.4 193.1L261.2 191.6L261.0 190.1L260.7 188.8L260.7 188.6L259.9 187.1L259.2 186.4L258.1 185.6L257.7 185.4L256.2 184.8L254.7 184.4L253.2 184.2L251.7 184.2L250.2 184.4L248.7 184.7L247.2 185.3L246.5 185.6L245.7 186.0L244.2 186.8L243.7 187.1L242.7 187.8L241.6 188.6L241.2 188.9L239.9 190.1L239.7 190.2L238.3 191.6L238.2 191.7L236.9 193.1L236.7 193.3L235.5 194.6L235.2 195.0L234.3 196.1L233.7 196.8L233.1 197.6L232.2 198.7L231.9 199.1L230.7 200.6L230.7 200.6L229.5 202.1L229.2 202.5L228.3 203.6L227.7 204.5L227.3 205.1L226.4 206.6L226.2 206.9L225.5 208.1L224.8 209.6L224.7 209.9L224.2 211.1L223.6 212.6L223.2 213.7L223.1 214.1L222.4 215.6L221.7 217.1L221.7 217.2L221.1 218.6L220.4 220.1L220.2 220.5L219.7 221.6L219.1 223.1L218.7 223.9L218.4 224.6L217.8 226.1L217.2 227.6L217.2 227.7L216.7 229.1L216.2 230.6L215.7 232.0L215.7 232.1L215.2 233.6L214.8 235.1L214.4 236.6L214.2 237.7L214.1 238.1L213.9 239.6L213.6 241.1L213.4 242.6L213.3 244.1L213.1 245.6L212.9 247.1L212.7 248.3L212.6 248.6L212.3 250.1L211.8 251.6L211.4 253.1L211.2 254.2L211.1 254.6L210.7 256.1L209.7 257.1L209.1 257.6L208.2 258.2L207.3 259.1L206.7 259.9L206.3 260.6L205.9 262.1L205.5 263.6L205.2 264.2L204.4 265.1L203.7 265.7L202.6 266.6L202.2 266.9L201.0 268.1L200.7 268.4L199.5 269.6L199.2 269.9L197.8 271.1L197.7 271.2L196.4 272.6L196.2 272.9L195.2 274.1L194.7 274.8L194.1 275.6L193.2 277.0L193.1 277.1L192.1 278.6L191.7 279.3L191.0 280.1L190.2 281.1L189.7 281.6L188.7 282.6L188.1 283.1L187.2 284.2L186.9 284.6L185.9 286.1L185.7 286.5L185.2 287.6L184.5 289.1L184.2 289.8L183.9 290.6L183.4 292.1L182.9 293.6L182.7 294.2L182.4 295.1L181.8 296.6L181.2 298.0L181.1 298.1L180.2 299.6L179.7 300.3L179.1 301.1L178.2 302.0L177.6 302.6L176.7 303.4L175.9 304.1L175.2 304.6L173.7 305.4L173.2 305.6L172.2 306.0L170.7 306.4L169.2 306.7L167.7 306.9L166.2 307.1L164.7 307.1L163.2 307.1L161.7 306.9L160.2 306.8L158.7 306.6L157.2 306.3L155.7 306.0L154.2 305.6L154.0 305.6L152.7 305.3L151.2 304.9L149.7 304.5L148.3 304.1L148.2 304.1L146.7 303.6L145.2 303.2L143.7 302.7L143.4 302.6L142.2 302.2L140.7 301.6L139.3 301.1L139.2 301.1L137.7 300.4L136.2 299.8L135.7 299.6L134.7 299.2L133.2 298.6L131.9 298.1L131.7 298.0L130.2 297.6L128.7 297.2L127.2 296.8L126.3 296.6L125.7 296.5L124.2 296.2L122.7 295.9L121.2 295.7L119.7 295.5L118.2 295.4L116.7 295.4L115.2 295.6L113.7 295.9L112.2 296.3L111.4 296.6L110.7 296.9L109.2 297.5L107.7 298.1L107.7 298.1L106.2 298.9L104.9 299.6L104.7 299.7L103.2 300.6L103.2 299.6L103.2 298.1L103.2 296.6L103.2 295.1L103.2 293.6L103.2 292.1L103.2 290.6L103.2 289.1L103.2 287.6L103.2 286.1L103.2 284.6L103.2 283.1L103.2 281.6L103.2 280.1L103.2 278.6L103.2 277.1L103.2 275.6L103.2 274.1L103.2 272.6L103.2 271.1L103.2 269.6L103.2 268.1L103.2 266.6L103.2 265.1L103.2 263.6L103.2 262.1L103.2 260.6L103.2 259.1L103.2 257.6L103.2 256.1L103.2 254.6L103.2 253.1L103.2 251.6L103.2 250.1L103.2 248.6L103.2 247.1L103.2 245.6L103.2 244.1L103.2 242.6L103.2 241.1L103.2 239.6L103.2 238.1L103.2 236.6L103.2 235.1L103.2 233.6L103.2 232.1L103.2 230.6L103.2 229.1L103.2 227.6L103.2 226.1L103.2 224.6L103.2 223.1L103.2 221.6L103.2 220.1L103.2 218.6L103.2 217.1L103.2 215.6L103.2 214.1L103.2 212.6L103.2 211.1L103.2 209.6L103.2 208.1L103.2 206.6L103.2 205.1L103.2 203.6L103.2 202.1L103.2 200.6L103.2 199.1L103.2 197.6L103.2 196.1L103.2 194.6L103.2 193.1L103.2 191.6L103.2 190.1L103.2 188.6L103.2 187.1L103.2 185.6L103.2 184.1L103.2 182.6L103.2 181.1L103.2 179.6L103.2 178.1L103.2 176.6L103.2 175.1L103.2 173.6L103.2 172.1L103.2 170.6L103.2 169.1L103.2 167.6L103.2 166.1L103.2 164.6L103.2 163.1L103.2 161.6L103.2 160.1L103.2 158.6L103.2 157.1L103.2 155.6L103.2 154.1L103.2 152.6L103.2 151.1L103.2 149.6L103.2 148.1L103.2 146.6L103.2 145.1L103.2 143.6L103.2 142.1L103.2 140.6L103.2 139.1L103.2 137.6L103.2 136.1L103.2 134.6L103.2 133.1L103.2 131.6L103.2 130.1L103.2 128.6L103.2 127.1L103.2 125.6L103.2 124.1L103.2 122.6L103.2 121.1L103.2 119.6L103.2 118.1L103.2 116.6L103.2 115.1L103.2 113.6L103.2 112.1L103.2 110.6L103.2 109.1L103.2 107.6L103.2 106.1L103.2 104.6L103.2 103.1L103.2 101.6L103.2 100.1L103.2 98.6L103.2 97.1L103.2 95.6L103.2 94.1L103.2 92.6L103.2 91.1L103.2 89.6L103.2 88.1L103.2 86.6L103.2 85.1L103.2 83.6L103.2 82.1L103.2 80.6L103.2 79.1L103.2 77.6L103.2 76.1L103.2 74.6L103.2 73.1L103.2 71.6L103.2 70.1L103.2 68.6L103.2 67.1L103.2 65.6L103.2 65.1L104.7 64.6L106.0 64.1L106.2 64.0L107.7 63.5L109.2 63.0L110.5 62.6L110.7 62.5L112.2 62.1L113.7 61.6L115.2 61.2L115.4 61.1L116.7 60.7L118.2 60.3L119.7 59.9L120.8 59.6L121.2 59.5L122.7 59.1L124.2 58.7L125.7 58.4L126.8 58.1L127.2 58.0L128.7 57.6L130.2 57.3L131.7 57.0L133.2 56.6L133.4 56.6L134.7 56.3L136.2 56.0L137.7 55.7L139.2 55.4Z"/>
<path fill="#1e9c89" d="M409.1 53.6L409.2 53.6L410.7 53.6L412.2 53.6L413.7 53.6L415.2 53.6L416.7 53.6L418.2 53.6L419.7 53.6L421.2 53.6L422.7 53.6L424.2 53.6L425.7 53.6L427.2 53.6L428.7 53.6L430.2 53.6L431.7 53.6L433.2 53.6L434.7 53.6L436.2 53.6L437.7 53.6L439.2 53.6L440.7 53.6L442.2 53.6L443.7 53.6L445.2 53.6L446.7 53.6L448.2 53.6L449.7 53.6L451.2 53.6L452.7 53.6L454.2 53.6L455.7 53.6L457.2 53.6L458.7 53.6L460.2 53.6L461.7 53.6L463.2 53.6L464.7 53.6L466.2 53.6L467.7 53.6L469.2 53.6L470.7 53.6L472.2 53.6L473.7 53.6L475.2 53.6L476.7 53.6L478.2 53.6L479.7 53.6L481.2 53.6L481.2 55.1L481.2 56.6L481.2 58.1L481.2 59.6L481.2 61.1L481.2 62.6L481.2 64.1L481.2 65.6L481.2 67.1L481.2 68.6L481.2 70.1L481.2 71.6L481.2 73.1L481.2 74.6L481.2 76.1L481.2 77.6L481.2 79.1L481.2 80.6L481.2 82.1L481.2 83.6L481.2 85.1L481.2 86.6L481.2 88.1L481.2 89.6L481.2 91.1L481.2 92.6L481.2 94.1L481.2 95.6L481.2 97.1L481.2 98.6L481.2 100.1L481.2 101.6L481.2 103.1L481.2 104.6L481.2 106.1L481.2 107.6L481.2 109.1L481.2 110.6L481.2 112.1L481.2 113.6L481.2 115.1L481.2 116.6L481.2 118.1L481.2 119.6L481.2 121.1L481.2 122.6L481.2 124.1L481.2 125.6L481.2 127.1L481.2 128.6L481.2 130.1L481.2 131.6L481.2 133.1L481.2 134.6L481.2 136.1L481.2 137.6L481.2 139.1L481.2 140.6L481.2 142.1L481.2 143.6L481.2 145.1L481.2 146.6L481.2 148.1L481.2 149.6L481.2 151.1L481.2 152.6L481.2 154.1L481.2 155.6L481.2 157.1L481.2 158.6L481.2 160.1L481.2 161.6L481.2 163.1L481.2 164.6L481.2 166.1L481.2 167.6L481.2 169.1L481.2 170.6L481.2 172.1L481.2 173.6L481.2 175.1L481.2 176.6L481.2 178.1L481.2 179.6L481.2 181.1L481.2 182.6L481.2 184.1L481.2 185.6L481.2 187.1L481.2 188.6L481.2 190.1L481.2 191.6L481.2 193.1L481.2 194.6L481.2 196.1L481.2 197.6L481.2 199.1L481.2 200.6L481.2 202.1L481.2 203.6L481.2 205.1L481.2 206.6L481.2 208.1L481.2 209.6L481.2 211.1L481.2 212.6L481.2 214.1L481.2 215.6L481.2 217.1L481.2 218.6L481.2 220.1L481.2 221.6L481.2 223.1L481.2 224.6L481.2 226.1L481.2 227.6L481.2 229.1L481.2 230.6L481.2 232.1L481.2 233.6L481.2 235.1L481.2 236.6L481.2 238.1L481.2 239.6L481.2 241.1L481.2 242.6L481.2 244.1L481.2 245.6L481.2 247.1L481.2 248.6L481.2 250.1L481.2 251.6L481.2 251.8L481.1 251.6L480.4 250.1L479.8 248.6L479.7 248.1L479.4 247.1L479.1 245.6L478.7 244.1L478.3 242.6L478.2 242.0L478.0 241.1L477.6 239.6L477.3 238.1L477.0 236.6L476.7 235.5L476.6 235.1L476.2 233.6L475.7 232.1L475.2 231.1L475.0 230.6L473.9 229.1L473.7 228.8L472.9 227.6L472.2 226.1L472.2 225.9L471.8 224.6L471.2 223.1L470.7 222.1L470.4 221.6L469.4 220.1L469.2 219.8L468.2 218.6L467.7 218.0L466.9 217.1L466.2 216.3L465.3 215.6L464.7 215.2L463.2 214.3L463.1 214.1L462.3 212.6L461.7 211.3L461.6 211.1L460.2 209.6L460.2 209.6L458.7 208.2L458.6 208.1L457.2 206.9L456.9 206.6L455.7 205.7L454.6 205.1L454.2 204.8L452.7 203.8L452.5 203.6L451.6 202.1L451.2 201.5L450.7 200.6L449.7 199.1L449.7 199.1L448.9 197.6L448.2 196.7L446.9 196.1L446.7 195.9L445.2 194.7L445.1 194.6L443.8 193.1L443.7 193.0L442.2 191.6L442.1 191.6L440.7 190.4L440.4 190.1L439.6 188.6L439.2 187.8L438.7 187.1L437.7 186.3L436.7 185.6L436.2 185.3L434.7 184.4L434.3 184.1L433.2 183.5L431.7 182.8L431.3 182.6L430.2 181.9L429.2 181.1L428.7 180.6L427.2 179.6L427.2 179.6L425.7 178.6L424.9 178.1L424.2 177.6L422.9 176.6L422.7 176.4L421.2 175.6L420.0 175.1L419.7 175.0L418.2 174.2L417.2 173.6L416.7 173.3L415.2 172.6L413.7 172.1L413.7 172.1L412.2 171.6L410.7 171.2L409.2 170.7L408.9 170.6L407.7 170.2L406.2 169.5L405.5 169.1L404.7 168.7L403.2 167.7L403.1 167.6L401.7 166.7L400.9 166.1L400.2 165.7L398.7 164.9L398.1 164.6L397.2 164.2L395.7 163.6L394.5 163.1L394.2 162.9L392.7 161.9L392.4 161.6L391.2 160.4L390.8 160.1L389.7 159.4L388.2 159.3L386.7 158.9L386.4 158.6L385.2 157.8L383.9 157.1L383.7 157.0L382.2 157.1L381.7 157.1L380.7 157.2L379.8 157.1L379.2 157.1L377.7 156.7L376.2 156.0L375.6 155.6L374.7 154.5L374.5 154.1L373.7 152.6L373.2 151.8L372.5 151.1L371.7 150.5L370.2 149.7L369.9 149.6L368.7 149.1L367.2 148.5L366.0 148.1L365.7 148.0L364.2 147.5L362.7 147.1L361.2 146.8L360.5 146.6L359.7 146.4L358.2 146.2L356.7 146.1L355.2 146.0L353.7 145.9L352.2 145.9L350.7 145.9L349.2 145.9L347.7 146.0L346.2 146.1L344.7 146.1L343.2 146.2L341.7 146.4L340.2 146.5L338.7 146.6L338.4 146.6L337.2 146.7L335.7 146.8L334.2 146.9L332.7 147.0L331.2 147.1L329.7 147.1L328.2 147.2L326.7 147.2L325.2 147.2L323.7 147.1L322.2 147.0L320.7 146.9L319.2 146.7L318.1 146.6L317.7 146.5L316.2 146.3L314.7 146.0L313.2 145.6L311.7 145.2L311.3 145.1L310.2 144.8L308.7 144.3L307.2 143.7L306.9 143.6L305.7 143.1L304.2 142.5L303.4 142.1L302.7 141.8L301.2 141.1L300.2 140.6L299.7 140.4L298.2 139.7L296.9 139.1L296.7 139.0L295.2 138.5L293.7 138.1L292.2 137.9L290.7 137.9L289.2 137.8L287.7 137.9L286.2 138.0L284.7 138.2L283.2 138.4L281.7 138.7L280.2 139.0L279.6 139.1L278.7 139.3L277.2 139.6L275.7 139.9L274.2 140.2L272.7 140.5L272.2 140.6L271.2 140.8L269.7 141.1L268.2 141.5L266.7 141.8L265.5 142.1L265.2 142.2L263.7 142.5L262.2 142.8L260.7 143.1L259.2 143.4L258.5 143.6L257.7 143.8L256.2 144.2L254.7 144.6L253.2 145.1L253.2 145.1L251.7 145.6L250.2 146.2L249.4 146.6L248.7 146.9L247.2 147.7L246.6 148.1L245.7 148.6L244.2 149.6L244.1 149.6L242.7 150.5L241.9 151.1L241.2 151.6L239.8 152.6L239.7 152.7L238.2 153.8L237.8 154.1L236.7 155.0L236.0 155.6L235.2 156.3L234.3 157.1L233.7 157.7L232.7 158.6L232.2 159.1L231.1 160.1L230.7 160.5L229.6 161.6L229.2 162.0L228.2 163.1L227.7 163.6L226.7 164.6L226.2 165.2L225.4 166.1L224.7 166.8L224.0 167.6L223.2 168.6L222.7 169.1L221.7 170.4L221.5 170.6L220.3 172.1L220.2 172.2L219.2 173.6L218.7 174.2L218.1 175.1L217.2 176.3L217.0 176.6L215.9 178.1L215.7 178.4L214.8 179.6L214.2 180.5L213.7 181.1L212.7 182.5L212.6 182.6L211.4 184.1L211.2 184.3L210.2 185.6L209.7 186.2L209.0 187.1L208.2 188.0L207.8 188.6L206.7 190.0L206.6 190.1L205.5 191.6L205.2 192.0L204.4 193.1L203.7 194.1L203.3 194.6L202.4 196.1L202.2 196.4L201.4 197.6L200.7 198.8L200.5 199.1L199.5 200.6L199.2 201.0L198.3 202.1L197.7 203.0L197.2 203.6L196.2 205.1L196.2 205.2L195.3 206.6L194.7 207.6L194.4 208.1L193.5 209.6L193.2 210.0L192.2 211.1L191.7 211.6L190.6 212.6L190.2 213.1L189.2 214.1L188.7 215.1L188.5 215.6L188.3 217.1L188.3 218.6L187.8 220.1L187.2 220.8L186.2 221.6L185.7 221.9L184.2 222.7L183.6 223.1L182.7 223.6L181.2 224.5L181.1 224.6L179.7 225.9L179.5 226.1L178.5 227.6L178.2 228.0L177.6 229.1L176.7 230.5L176.7 230.6L175.8 232.1L175.2 233.2L175.0 233.6L174.2 235.1L173.7 236.0L173.4 236.6L172.6 238.1L172.2 238.9L171.9 239.6L171.3 241.1L170.8 242.6L170.7 243.0L170.4 244.1L169.9 245.6L169.5 247.1L169.2 247.8L169.0 248.6L168.4 250.1L167.9 251.6L167.7 252.0L167.3 253.1L166.7 254.6L166.2 255.7L166.0 256.1L165.4 257.6L164.7 259.0L164.7 259.1L163.9 260.6L163.2 261.9L163.1 262.1L162.2 263.6L161.7 264.3L161.1 265.1L160.2 266.2L159.9 266.6L158.7 267.8L158.4 268.1L157.2 269.2L156.7 269.6L155.7 270.4L154.6 271.1L154.2 271.4L152.7 272.3L152.2 272.6L151.2 273.2L149.7 274.0L149.5 274.1L148.2 274.7L146.7 275.4L146.1 275.6L145.2 275.9L143.7 276.4L142.2 276.7L140.7 277.0L140.3 277.1L139.2 277.3L137.7 277.4L136.2 277.5L134.7 277.5L133.2 277.5L131.7 277.4L130.2 277.3L128.7 277.2L127.5 277.1L127.2 277.1L125.7 276.9L124.2 276.8L122.7 276.6L121.2 276.3L119.7 276.0L118.2 275.6L118.0 275.6L116.7 275.3L115.2 274.9L113.7 274.6L112.2 274.4L110.7 274.3L109.2 274.3L107.7 274.3L106.2 274.3L104.7 274.3L103.2 274.2L103.2 274.1L103.2 272.6L103.2 271.1L103.2 269.6L103.2 268.1L103.2 266.6L103.2 265.1L103.2 263.6L103.2 262.1L103.2 260.6L103.2 259.1L103.2 257.6L103.2 256.1L103.2 254.6L103.2 253.1L103.2 251.6L103.2 250.1L103.2 248.6L103.2 247.1L103.2 245.6L103.2 244.1L103.2 242.6L103.2 241.1L103.2 239.6L103.2 238.1L103.2 236.6L103.2 235.1L103.2 233.6L103.2 232.1L103.2 230.6L103.2 229.1L103.2 227.6L103.2 226.1L103.2 224.6L103.2 223.1L103.2 221.6L103.2 220.1L103.2 218.6L103.2 217.1L103.2 215.6L103.2 214.1L103.2 212.6L103.2 211.1L103.2 209.6L103.2 208.1L103.2 206.6L103.2 205.1L103.2 203.6L103.2 202.1L103.2 200.6L103.2 199.1L103.2 197.6L103.2 196.1L103.2 194.6L103.2 193.1L103.2 191.6L103.2 190.1L103.2 188.6L103.2 187.1L103.2 185.6L103.2 184.1L103.2 182.6L103.2 181.1L103.2 179.6L103.2 178.1L103.2 176.6L103.2 175.1L103.2 173.6L103.2 172.1L103.2 170.6L103.2 169.1L103.2 167.6L103.2 166.1L103.2 164.6L103.2 163.1L103.2 161.6L103.2 160.1L103.2 158.6L103.2 157.1L103.2 155.6L103.2 154.1L103.2 152.6L103.2 151.1L103.2 149.6L103.2 148.1L103.2 146.6L103.2 145.1L103.2 143.6L103.2 142.1L103.2 140.6L103.2 139.1L103.2 137.6L103.2 136.1L103.2 134.6L103.2 133.1L103.2 131.6L103.2 130.1L103.2 128.6L103.2 127.1L103.2 125.6L103.2 124.1L103.2 122.6L103.2 121.1L103.2 119.6L103.2 118.1L103.2 116.6L103.2 115.1L103.2 113.6L103.2 112.1L103.2 110.6L103.2 109.1L103.2 107.6L103.2 106.1L103.2 104.6L103.2 103.1L103.2 101.6L103.2 100.1L103.2 98.6L103.2 97.1L103.2 95.6L103.2 94.1L103.2 94.0L104.7 93.1L105.7 92.6L106.2 92.3L107.7 91.5L108.5 91.1L109.2 90.7L110.7 90.0L111.5 89.6L112.2 89.3L113.7 88.6L114.8 88.1L115.2 87.9L116.7 87.3L118.2 86.7L118.4 86.6L119.7 86.1L121.2 85.6L122.5 85.1L122.7 85.0L124.2 84.5L125.7 84.0L127.1 83.6L127.2 83.6L128.7 83.1L130.2 82.7L131.7 82.3L132.5 82.1L133.2 81.9L134.7 81.6L136.2 81.2L137.7 80.9L139.2 80.6L139.4 80.6L140.7 80.4L142.2 80.1L143.7 79.8L145.2 79.6L146.7 79.4L148.2 79.2L148.9 79.1L149.7 79.0L151.2 78.8L152.7 78.6L154.2 78.4L155.7 78.2L157.2 78.0L158.7 77.8L159.8 77.6L160.2 77.5L161.7 77.3L163.2 77.0L164.7 76.6L166.2 76.2L166.6 76.1L167.7 75.8L169.2 75.3L170.7 74.8L171.2 74.6L172.2 74.2L173.7 73.7L175.1 73.1L175.2 73.0L176.7 72.4L178.2 71.8L178.8 71.6L179.7 71.2L181.2 70.7L182.7 70.1L182.8 70.1L184.2 69.6L185.7 69.1L187.2 68.7L187.4 68.6L188.7 68.2L190.2 67.9L191.7 67.5L193.2 67.2L193.9 67.1L194.7 66.9L196.2 66.7L197.7 66.5L199.2 66.3L200.7 66.2L202.2 66.1L203.7 66.0L205.2 65.9L206.7 65.8L208.2 65.8L209.7 65.7L210.9 65.6L211.2 65.6L212.7 65.4L214.2 65.2L215.7 64.9L217.2 64.5L218.7 64.1L218.7 64.1L220.2 63.6L221.7 63.1L223.1 62.6L223.2 62.6L224.7 62.0L226.2 61.5L227.4 61.1L227.7 61.0L229.2 60.5L230.7 60.1L232.2 59.6L232.4 59.6L233.7 59.2L235.2 58.9L236.7 58.5L238.2 58.2L238.9 58.1L239.7 58.0L241.2 57.7L242.7 57.5L244.2 57.3L245.7 57.2L247.2 57.1L248.7 57.0L250.2 57.0L251.7 57.0L253.2 57.0L254.7 57.1L256.2 57.3L257.7 57.5L259.2 57.8L260.4 58.1L260.7 58.2L262.2 58.8L263.5 59.6L263.7 59.9L264.5 61.1L265.2 61.6L266.7 62.6L266.7 62.6L268.2 63.4L269.4 64.1L269.7 64.2L271.2 65.1L272.2 65.6L272.7 65.9L274.2 66.7L275.1 67.1L275.7 67.4L277.2 68.1L278.4 68.6L278.7 68.7L280.2 69.3L281.7 69.8L282.8 70.1L283.2 70.2L284.7 70.5L286.2 70.8L287.7 71.1L289.2 71.6L289.2 71.6L290.7 72.1L292.2 72.3L293.7 72.1L295.2 71.9L296.7 72.0L298.2 72.2L299.7 72.6L301.2 72.9L301.9 73.1L302.7 73.3L304.2 73.7L305.7 74.0L307.2 74.3L308.7 74.4L310.2 74.5L311.7 74.6L313.2 74.6L313.6 74.6L314.7 74.6L316.2 74.7L317.7 74.7L319.2 74.8L320.7 74.9L322.2 75.0L323.7 75.0L325.2 74.9L326.7 74.9L328.2 74.9L329.7 74.9L331.2 74.9L332.7 74.9L334.2 75.0L335.7 74.9L337.2 74.9L338.7 74.9L340.2 75.0L341.7 75.1L343.2 75.3L344.7 75.5L346.2 75.5L347.7 75.3L349.2 75.2L350.7 75.2L352.2 75.3L353.7 75.4L355.2 75.5L356.7 75.6L358.2 75.8L359.7 75.9L361.2 75.9L362.7 76.0L364.2 76.0L365.1 76.1L365.7 76.1L367.2 76.3L368.7 76.5L370.2 76.8L371.7 77.1L373.2 77.2L374.7 77.0L376.2 76.8L377.7 76.5L379.2 76.2L379.5 76.1L380.7 75.8L382.2 75.3L383.7 74.8L384.4 74.6L385.2 74.3L386.7 73.7L388.2 73.1L388.2 73.1L389.7 72.5L391.2 71.8L391.6 71.6L392.7 71.1L394.2 70.3L394.5 70.1L395.7 69.4L396.8 68.6L397.2 68.3L398.7 67.2L398.8 67.1L400.2 65.9L400.5 65.6L401.7 64.4L402.0 64.1L403.2 62.7L403.3 62.6L404.5 61.1L404.7 60.8L405.5 59.6L406.2 58.6L406.5 58.1L407.5 56.6L407.7 56.2L408.3 55.1ZM334.2 203.6L334.2 203.6L335.7 203.2L337.2 202.8L338.7 202.6L340.2 202.5L341.7 202.6L343.2 202.7L344.7 202.9L346.2 203.2L347.7 203.4L348.8 203.6L349.2 203.7L350.7 203.9L352.2 204.1L353.7 204.4L355.2 204.8L356.5 205.1L356.7 205.2L358.2 205.6L359.7 206.2L360.6 206.6L361.2 206.9L362.7 207.8L363.2 208.1L364.2 208.8L365.3 209.6L365.7 209.9L367.2 211.1L367.2 211.1L368.7 212.5L368.8 212.6L370.2 213.9L370.4 214.1L371.7 215.5L371.8 215.6L373.0 217.1L373.2 217.3L374.2 218.6L374.7 219.3L375.3 220.1L376.2 221.4L376.4 221.6L377.3 223.1L377.7 223.8L378.1 224.6L378.9 226.1L379.2 226.8L379.5 227.6L380.1 229.1L380.7 230.6L380.7 230.6L381.2 232.1L381.6 233.6L381.9 235.1L382.1 236.6L382.2 237.4L382.3 238.1L382.7 239.6L383.3 241.1L383.7 241.8L384.2 242.6L385.1 244.1L385.2 244.2L386.1 245.6L386.7 246.5L387.1 247.1L388.1 248.6L388.2 248.8L388.9 250.1L389.7 251.4L389.8 251.6L390.5 253.1L391.2 254.5L391.3 254.6L391.9 256.1L392.5 257.6L392.7 258.3L393.0 259.1L393.4 260.6L393.8 262.1L394.2 263.5L394.2 263.6L394.6 265.1L394.9 266.6L395.2 268.1L395.6 269.6L395.7 270.2L395.9 271.1L396.2 272.6L396.4 274.1L396.7 275.6L396.8 277.1L396.9 278.6L396.8 280.1L396.7 281.6L396.6 283.1L396.4 284.6L396.3 286.1L396.1 287.6L395.9 289.1L395.7 290.6L395.7 291.1L395.6 292.1L395.5 293.6L395.3 295.1L395.2 296.6L395.1 298.1L395.0 299.6L395.0 301.1L394.9 302.6L394.9 304.1L394.8 305.6L394.8 307.1L394.7 308.6L394.5 310.1L394.2 311.3L394.1 311.6L393.5 313.1L392.7 314.3L392.5 314.6L391.2 316.1L391.2 316.1L390.1 317.6L389.7 318.5L389.5 319.1L389.0 320.6L388.5 322.1L388.2 323.3L388.1 323.6L387.7 325.1L387.3 326.6L386.8 328.1L386.7 328.5L386.4 329.6L385.9 331.1L385.5 332.6L385.2 333.4L385.0 334.1L384.5 335.6L384.0 337.1L383.7 338.1L383.5 338.6L383.1 340.1L382.6 341.6L382.2 343.1L382.2 343.1L381.5 344.6L380.8 346.1L380.7 347.6L380.7 348.2L380.7 349.1L380.5 350.6L380.4 352.1L380.1 353.6L379.9 355.1L379.6 356.6L379.3 358.1L379.2 358.4L378.9 359.6L378.4 361.1L377.8 362.6L377.7 362.8L376.9 364.1L376.2 365.2L375.9 365.6L374.7 367.1L374.7 367.1L373.5 368.6L373.2 369.1L372.6 370.1L372.1 371.6L371.7 373.1L371.7 373.1L371.3 374.6L370.5 376.1L370.2 376.7L369.6 377.6L368.7 379.0L368.6 379.1L367.5 380.6L367.2 381.1L366.4 382.1L365.7 383.2L365.4 383.6L364.4 385.1L364.2 385.8L364.0 386.6L363.9 388.1L363.6 389.6L362.9 391.1L362.7 391.5L361.9 392.6L361.2 393.5L360.7 394.1L359.7 395.2L359.3 395.6L358.2 396.8L358.0 397.1L357.3 398.6L357.0 400.1L356.8 401.6L356.7 402.1L356.6 403.1L356.2 404.6L355.6 406.1L355.2 407.0L354.9 407.6L354.2 409.1L353.7 410.1L353.4 410.6L352.8 412.1L352.3 413.6L352.2 413.7L351.1 415.1L350.7 415.6L349.8 416.6L349.2 417.5L348.8 418.1L347.9 419.6L347.7 419.9L347.1 421.1L346.4 422.6L346.2 423.0L345.7 424.1L345.2 425.6L344.7 427.0L344.7 427.1L344.2 428.6L343.8 430.1L343.5 431.6L343.2 431.6L341.7 431.6L340.2 431.6L338.7 431.6L337.2 431.6L335.7 431.6L334.2 431.6L332.7 431.6L331.2 431.6L329.7 431.6L328.2 431.6L326.7 431.6L325.2 431.6L323.7 431.6L322.2 431.6L320.7 431.6L319.2 431.6L317.7 431.6L316.2 431.6L314.7 431.6L313.2 431.6L311.7 431.6L310.2 431.6L308.7 431.6L307.2 431.6L305.7 431.6L304.2 431.6L302.7 431.6L301.2 431.6L299.7 431.6L298.2 431.6L296.7 431.6L295.2 431.6L293.7 431.6L292.2 431.6L290.7 431.6L289.2 431.6L287.7 431.6L286.2 431.6L284.7 431.6L283.2 431.6L281.7 431.6L280.2 431.6L278.7 431.6L277.2 431.6L275.7 431.6L274.2 431.6L272.7 431.6L271.2 431.6L269.7 431.6L268.2 431.6L266.7 431.6L265.2 431.6L263.7 431.6L262.2 431.6L260.7 431.6L259.2 431.6L257.7 431.6L256.2 431.6L254.7 431.6L253.2 431.6L251.7 431.6L250.2 431.6L248.7 431.6L247.2 431.6L245.7 431.6L244.2 431.6L242.7 431.6L241.2 431.6L239.7 431.6L238.2 431.6L236.7 431.6L235.2 431.6L233.7 431.6L232.2 431.6L230.7 431.6L229.2 431.6L227.7 431.6L226.2 431.6L224.7 431.6L223.2 431.6L221.7 431.6L220.2 431.6L218.7 431.6L217.2 431.6L215.7 431.6L214.2 431.6L212.7 431.6L211.2 431.6L209.7 431.6L208.2 431.6L206.7 431.6L205.2 431.6L203.7 431.6L202.2 431.6L200.7 431.6L199.2 431.6L197.7 431.6L196.2 431.6L194.7 431.6L193.2 431.6L191.7 431.6L190.2 431.6L188.7 431.6L187.2 431.6L185.7 431.6L184.2 431.6L182.7 431.6L181.2 431.6L179.7 431.6L178.2 431.6L176.7 431.6L175.2 431.6L173.7 431.6L172.2 431.6L170.7 431.6L169.2 431.6L167.7 431.6L166.2 431.6L164.7 431.6L163.2 431.6L161.7 431.6L160.2 431.6L158.7 431.6L157.2 431.6L155.7 431.6L154.2 431.6L152.7 431.6L151.2 431.6L149.7 431.6L148.2 431.6L146.7 431.6L145.2 431.6L143.7 431.6L142.2 431.6L140.7 431.6L139.2 431.6L137.7 431.6L136.2 431.6L134.7 431.6L133.2 431.6L131.7 431.6L130.2 431.6L128.7 431.6L127.2 431.6L125.7 431.6L124.2 431.6L122.7 431.6L121.2 431.6L119.7 431.6L118.2 431.6L116.7 431.6L115.2 431.6L113.7 431.6L112.2 431.6L110.7 431.6L109.2 431.6L107.7 431.6L106.2 431.6L104.7 431.6L103.2 431.6L103.2 430.1L103.2 428.6L103.2 427.1L103.2 425.6L103.2 424.1L103.2 422.6L103.2 421.1L103.2 419.6L103.2 418.1L103.2 416.6L103.2 415.1L103.2 413.6L103.2 412.1L103.2 410.6L103.2 409.1L103.2 407.6L103.2 406.1L103.2 404.6L103.2 403.1L103.2 401.6L103.2 400.1L103.2 398.6L103.2 397.1L103.2 396.0L104.7 396.3L106.2 396.6L107.7 396.8L109.1 397.1L109.2 397.1L110.7 397.4L112.2 397.7L113.7 397.9L115.2 398.2L116.7 398.4L117.9 398.6L118.2 398.6L119.7 398.9L121.2 399.1L122.7 399.3L124.2 399.5L125.7 399.7L127.2 399.9L128.7 400.1L128.8 400.1L130.2 400.3L131.7 400.4L133.2 400.6L134.7 400.8L136.2 400.9L137.7 401.1L139.2 401.2L140.7 401.3L142.2 401.5L143.7 401.6L144.0 401.6L145.2 401.7L146.7 401.8L148.2 401.9L149.7 402.0L151.2 402.1L152.7 402.2L154.2 402.3L155.7 402.4L157.2 402.5L158.7 402.6L160.2 402.7L161.7 402.8L163.2 402.9L164.7 403.0L165.6 403.1L166.2 403.2L167.7 403.3L169.2 403.4L170.7 403.6L172.2 403.7L173.7 403.9L175.2 404.2L176.7 404.4L178.0 404.6L178.2 404.6L179.7 404.9L181.2 405.2L182.7 405.5L184.2 405.8L185.6 406.1L185.7 406.1L187.2 406.4L188.7 406.7L190.2 407.0L191.7 407.3L193.2 407.5L193.7 407.6L194.7 407.8L196.2 408.0L197.7 408.2L199.2 408.4L200.7 408.6L202.2 408.8L203.7 409.0L204.1 409.1L205.2 409.3L206.7 409.5L208.2 409.8L209.7 410.0L211.2 410.1L212.7 410.2L214.2 410.3L215.7 410.3L217.2 410.3L218.7 410.3L220.2 410.4L221.7 410.4L223.2 410.3L224.7 410.3L226.2 410.1L227.7 410.0L229.2 409.7L230.7 409.4L231.6 409.1L232.2 408.9L233.7 408.4L235.2 407.8L235.6 407.6L236.7 407.0L238.2 406.1L238.3 406.1L239.7 405.2L240.6 404.6L241.2 404.2L242.7 403.1L242.7 403.1L244.2 402.0L244.8 401.6L245.7 400.9L246.9 400.1L247.2 399.9L248.7 398.9L249.2 398.6L250.2 397.9L251.5 397.1L251.7 397.0L253.2 396.0L253.8 395.6L254.7 394.9L255.7 394.1L256.2 393.5L256.9 392.6L257.4 391.1L257.4 389.6L257.2 388.1L256.7 386.6L256.2 385.2L256.2 385.1L255.5 383.6L254.8 382.1L254.7 381.8L254.1 380.6L253.4 379.1L253.2 378.5L252.8 377.6L252.3 376.1L251.8 374.6L251.7 374.3L251.3 373.1L250.9 371.6L250.5 370.1L250.2 368.8L250.2 368.6L249.8 367.1L249.5 365.6L249.2 364.1L249.0 362.6L248.7 361.2L248.7 361.1L248.3 359.6L248.0 358.1L247.6 356.6L247.3 355.1L247.2 354.8L246.9 353.6L246.6 352.1L246.2 350.6L245.9 349.1L245.7 348.1L245.6 347.6L245.3 346.1L245.0 344.6L244.7 343.1L244.4 341.6L244.2 340.8L244.1 340.1L243.7 338.6L243.5 337.1L243.2 335.6L243.0 334.1L242.8 332.6L242.7 332.1L242.6 331.1L242.5 329.6L242.4 328.1L242.4 326.6L242.4 325.1L242.4 323.6L242.5 322.1L242.6 320.6L242.7 319.9L242.8 319.1L243.0 317.6L243.2 316.1L243.4 314.6L243.7 313.1L243.9 311.6L244.2 310.4L244.3 310.1L244.6 308.6L245.0 307.1L245.4 305.6L245.7 304.5L245.8 304.1L246.3 302.6L246.8 301.1L247.2 299.9L247.3 299.6L247.9 298.1L248.6 296.6L248.7 296.3L249.3 295.1L250.1 293.6L250.2 293.4L251.0 292.1L251.7 291.0L252.1 290.6L253.2 289.3L253.5 289.1L254.7 288.0L255.3 287.6L256.2 286.9L257.6 286.1L257.7 286.0L259.2 284.8L259.4 284.6L259.5 283.1L259.7 281.6L260.7 280.8L261.4 280.1L262.2 279.6L263.4 278.6L263.7 278.4L265.2 277.2L265.4 277.1L266.7 276.0L267.1 275.6L268.2 274.6L268.6 274.1L269.7 272.7L269.8 272.6L270.3 271.1L270.6 269.6L271.0 268.1L271.2 267.7L271.8 266.6L272.7 265.7L273.4 265.1L274.2 264.5L275.3 263.6L275.7 263.3L277.2 262.2L277.4 262.1L278.7 261.1L279.3 260.6L280.2 259.9L281.0 259.1L281.7 258.3L282.2 257.6L282.9 256.1L283.2 255.1L283.3 254.6L283.7 253.1L284.2 251.6L284.7 250.6L285.0 250.1L285.8 248.6L286.2 247.8L286.6 247.1L287.4 245.6L287.7 245.1L288.3 244.1L289.0 242.6L289.2 242.2L289.8 241.1L290.5 239.6L290.7 238.3L290.8 238.1L290.7 237.3L290.7 236.6L290.7 236.5L292.0 235.1L292.2 235.0L293.5 233.6L293.7 233.3L294.4 232.1L295.2 230.8L295.3 230.6L296.2 229.1L296.7 228.2L297.1 227.6L298.1 226.1L298.2 225.9L299.3 224.6L299.7 224.2L301.2 223.4L302.7 223.4L304.2 223.4L305.7 223.3L306.2 223.1L307.2 222.5L307.9 221.6L308.7 220.5L309.0 220.1L310.0 218.6L310.2 218.2L311.0 217.1L311.7 216.1L312.1 215.6L313.2 214.5L313.6 214.1L314.7 213.3L316.2 212.6L316.2 212.6L317.7 212.2L319.2 211.9L320.7 211.6L322.2 211.2L322.4 211.1L323.7 210.5L324.9 209.6L325.2 209.4L326.7 208.2L326.8 208.1L328.2 206.9L328.6 206.6L329.7 205.8L330.8 205.1L331.2 204.9L332.7 204.2Z"/>
<path fill="#2fb47c" d="M425.7 55.1L425.7 55.0L426.3 53.6L427.2 53.6L428.7 53.6L430.2 53.6L431.7 53.6L433.2 53.6L434.7 53.6L436.2 53.6L437.7 53.6L439.2 53.6L440.7 53.6L442.2 53.6L443.7 53.6L445.2 53.6L446.7 53.6L448.2 53.6L449.7 53.6L451.2 53.6L452.7 53.6L454.2 53.6L455.7 53.6L457.2 53.6L458.7 53.6L460.2 53.6L461.7 53.6L463.2 53.6L464.7 53.6L466.2 53.6L467.7 53.6L469.2 53.6L470.7 53.6L472.2 53.6L473.7 53.6L475.2 53.6L476.7 53.6L478.2 53.6L479.7 53.6L481.2 53.6L481.2 55.1L481.2 56.6L481.2 58.1L481.2 59.6L481.2 61.1L481.2 62.6L481.2 64.1L481.2 65.6L481.2 67.1L481.2 68.6L481.2 70.1L481.2 71.6L481.2 73.1L481.2 74.6L481.2 76.1L481.2 77.6L481.2 79.1L481.2 80.6L481.2 82.1L481.2 83.6L481.2 85.1L481.2 86.6L481.2 88.1L481.2 89.6L481.2 91.1L481.2 92.6L481.2 94.1L481.2 95.6L481.2 97.1L481.2 98.6L481.2 100.1L481.2 101.6L481.2 103.1L481.2 104.6L481.2 106.1L481.2 107.6L481.2 109.1L481.2 110.6L481.2 112.1L481.2 113.6L481.2 115.1L481.2 116.6L481.2 118.1L481.2 119.6L481.2 121.1L481.2 122.6L481.2 124.1L481.2 125.6L481.2 127.1L481.2 128.6L481.2 130.1L481.2 131.6L481.2 133.1L481.2 134.6L481.2 136.1L481.2 137.6L481.2 139.1L481.2 140.6L481.2 142.1L481.2 143.6L481.2 145.1L481.2 146.6L481.2 148.1L481.2 149.6L481.2 151.1L481.2 152.6L481.2 154.1L481.2 155.6L481.2 157.1L481.2 158.6L481.2 160.1L481.2 161.6L481.2 163.1L481.2 164.6L481.2 166.1L481.2 167.6L481.2 169.1L481.2 170.6L481.2 172.1L481.2 173.6L481.2 175.1L481.2 176.6L481.2 178.1L481.2 179.6L481.2 181.1L481.2 182.6L481.2 184.1L481.2 185.6L481.2 187.1L481.2 188.6L481.2 190.1L481.2 191.6L481.2 193.1L481.2 194.6L481.2 196.1L481.2 197.6L481.2 199.1L481.2 200.6L481.2 202.1L481.2 203.6L481.2 205.1L481.2 206.6L481.2 208.1L481.2 209.6L481.2 211.1L481.2 212.6L481.2 214.1L481.2 215.6L481.2 217.1L481.2 218.6L481.2 220.1L481.2 221.6L481.2 223.1L481.2 224.6L481.2 226.1L481.2 227.6L481.2 229.1L481.2 230.6L481.2 232.1L481.2 233.6L481.2 235.1L481.2 236.6L481.2 236.9L481.1 236.6L480.5 235.1L479.8 233.6L479.7 233.4L479.1 232.1L478.2 230.6L478.2 230.6L477.2 229.1L476.7 228.5L475.9 227.6L475.2 226.7L474.8 226.1L474.1 224.6L473.7 223.4L473.6 223.1L472.9 221.6L472.3 220.1L472.2 219.8L471.5 218.6L470.7 217.1L470.7 217.1L469.8 215.6L469.2 214.7L468.7 214.1L467.7 212.6L467.7 212.5L466.5 211.1L466.2 210.7L465.3 209.6L464.7 209.1L463.8 208.1L463.2 207.5L462.2 206.6L461.7 206.2L460.4 205.1L460.2 204.9L458.8 203.6L458.7 203.5L457.9 202.1L457.2 200.6L457.2 200.6L456.3 199.1L455.7 198.3L455.2 197.6L454.2 196.4L454.0 196.1L452.9 194.6L452.7 194.3L451.9 193.1L451.2 192.0L450.8 191.6L449.7 190.4L449.3 190.1L448.2 189.3L447.6 188.6L447.2 187.1L447.0 185.6L446.7 185.1L446.0 184.1L445.2 183.2L444.5 182.6L443.7 181.9L442.7 181.1L442.2 180.7L440.7 179.9L439.9 179.6L439.2 179.3L437.7 178.4L437.4 178.1L436.2 177.2L435.5 176.6L434.7 175.9L434.0 175.1L433.2 174.3L432.4 173.6L431.7 173.1L430.4 172.1L430.2 172.0L428.7 170.9L428.3 170.6L427.2 169.9L426.1 169.1L425.7 168.8L424.2 167.9L423.7 167.6L422.7 167.0L421.5 166.1L421.2 165.8L419.7 164.6L419.7 164.6L418.2 163.6L417.3 163.1L416.7 162.8L415.2 162.0L414.5 161.6L413.7 161.2L412.2 160.4L411.8 160.1L410.7 159.4L409.4 158.6L409.2 158.4L407.7 157.4L407.3 157.1L406.2 156.3L405.2 155.6L404.7 155.2L403.2 154.2L403.0 154.1L401.7 153.2L400.8 152.6L400.2 152.2L398.7 151.5L397.9 151.1L397.2 150.8L395.7 150.1L394.9 149.6L394.2 149.1L392.7 148.2L392.6 148.1L391.2 147.2L390.1 146.6L389.7 146.4L388.2 145.7L386.8 145.1L386.7 145.1L385.2 144.5L383.7 143.9L383.0 143.6L382.2 143.2L380.7 142.5L380.1 142.1L379.2 141.6L377.7 140.7L377.5 140.6L376.2 139.9L374.8 139.1L374.7 139.0L373.2 138.2L371.9 137.6L371.7 137.5L370.2 136.8L368.7 136.1L368.7 136.1L367.2 135.4L365.7 134.8L365.2 134.6L364.2 134.2L362.7 133.6L361.5 133.1L361.2 133.0L359.7 132.4L358.2 131.8L357.6 131.6L356.7 131.3L355.2 130.7L353.7 130.2L353.4 130.1L352.2 129.7L350.7 129.2L349.2 128.7L348.8 128.6L347.7 128.3L346.2 127.8L344.7 127.4L343.4 127.1L343.2 127.0L341.7 126.7L340.2 126.3L338.7 125.9L337.3 125.6L337.2 125.6L335.7 125.2L334.2 124.9L332.7 124.5L331.2 124.2L330.8 124.1L329.7 123.8L328.2 123.5L326.7 123.1L325.2 122.7L324.8 122.6L323.7 122.3L322.2 121.9L320.7 121.4L319.7 121.1L319.2 120.9L317.7 120.4L316.2 119.9L315.4 119.6L314.7 119.3L313.2 118.7L311.9 118.1L311.7 118.0L310.2 117.1L309.4 116.6L308.7 116.0L307.8 115.1L307.2 114.0L307.0 113.6L306.8 112.1L306.8 110.6L307.1 109.1L307.2 108.3L307.3 107.6L307.5 106.1L307.6 104.6L308.0 103.1L308.6 101.6L308.7 101.5L309.9 100.1L310.2 99.9L311.7 98.8L311.9 98.6L313.2 97.9L314.6 97.1L314.7 97.0L316.2 96.3L317.6 95.6L317.7 95.6L319.2 94.9L320.7 94.2L320.9 94.1L322.2 93.6L323.7 92.9L324.4 92.6L325.2 92.3L326.7 91.8L328.2 91.2L328.6 91.1L329.7 90.7L331.2 90.3L332.7 89.8L333.1 89.6L334.2 89.3L335.7 88.7L337.2 88.2L337.4 88.1L338.7 87.6L340.2 87.1L341.7 86.7L342.4 86.6L343.2 86.5L344.7 86.3L346.2 86.3L347.7 86.4L349.2 86.6L349.4 86.6L350.7 86.7L352.2 86.9L353.7 87.1L355.2 87.2L356.7 87.3L358.2 87.4L359.7 87.5L361.2 87.5L362.7 87.5L364.2 87.6L365.7 87.6L367.2 87.6L368.7 87.5L370.2 87.5L371.7 87.4L373.2 87.3L374.7 87.2L376.2 87.1L377.7 87.1L379.2 87.1L380.7 87.4L382.2 87.7L383.7 87.7L385.2 87.5L386.7 87.2L388.2 87.1L389.7 87.0L391.2 87.4L392.7 88.1L392.7 88.1L392.7 88.1L394.2 88.0L395.7 87.6L397.2 87.2L398.7 86.7L398.9 86.6L400.2 86.1L401.7 85.4L402.4 85.1L403.2 84.7L404.7 83.9L405.3 83.6L406.2 83.0L407.6 82.1L407.7 82.0L409.2 80.9L409.5 80.6L410.7 79.6L411.2 79.1L412.2 78.1L412.6 77.6L413.7 76.4L413.9 76.1L415.1 74.6L415.2 74.5L416.2 73.1L416.7 72.4L417.2 71.6L418.2 70.1L418.2 70.1L419.1 68.6L419.7 67.5L419.9 67.1L420.8 65.6L421.2 64.8L421.5 64.1L422.3 62.6L422.7 61.7L423.0 61.1L423.7 59.6L424.2 58.5L424.4 58.1L425.0 56.6ZM211.7 82.1L212.7 81.9L214.2 81.7L215.7 81.5L217.2 81.3L218.7 81.2L220.2 81.2L221.7 81.1L223.2 81.0L224.7 80.9L226.2 80.9L227.7 81.0L229.2 81.4L230.7 81.9L231.3 82.1L232.2 82.5L233.7 83.3L234.2 83.6L235.2 84.3L236.3 85.1L236.7 85.4L238.1 86.6L238.2 86.7L239.5 88.1L239.7 88.4L240.6 89.6L241.2 90.8L241.4 91.1L241.9 92.6L242.3 94.1L242.5 95.6L242.5 97.1L242.3 98.6L241.9 100.1L241.5 101.6L241.2 102.3L240.9 103.1L240.2 104.6L239.7 105.6L239.5 106.1L238.7 107.6L238.2 108.5L237.8 109.1L236.9 110.6L236.7 110.9L235.9 112.1L235.2 113.1L234.8 113.6L233.7 115.1L233.7 115.1L232.5 116.6L232.2 117.0L231.3 118.1L230.7 118.9L230.1 119.6L229.2 120.6L228.8 121.1L227.7 122.4L227.5 122.6L226.2 124.0L226.1 124.1L224.9 125.6L224.7 125.8L223.7 127.1L223.2 127.7L222.6 128.6L221.7 129.9L221.6 130.1L220.5 131.6L220.2 132.1L219.6 133.1L218.7 134.5L218.6 134.6L217.7 136.1L217.2 136.9L216.7 137.6L215.7 138.9L215.5 139.1L214.2 139.9L212.9 140.6L212.7 140.7L211.2 141.9L210.9 142.1L209.7 143.2L209.4 143.6L208.2 144.8L208.0 145.1L206.7 146.6L206.7 146.6L205.6 148.1L205.2 148.7L204.6 149.6L203.7 151.0L203.6 151.1L202.7 152.6L202.2 153.3L201.7 154.1L200.7 155.6L200.7 155.6L199.7 157.1L199.2 157.8L198.7 158.6L197.7 160.0L197.6 160.1L196.5 161.6L196.2 162.0L195.4 163.1L194.7 164.1L194.3 164.6L193.2 166.1L193.2 166.1L192.2 167.6L191.7 168.3L191.2 169.1L190.3 170.6L190.2 170.7L189.4 172.1L188.7 173.3L188.5 173.6L187.6 175.1L187.2 175.8L186.7 176.6L185.8 178.1L185.7 178.2L184.8 179.6L184.2 180.4L183.7 181.1L182.7 182.4L182.5 182.6L181.2 184.1L181.2 184.1L179.9 185.6L179.7 185.9L178.7 187.1L178.2 187.8L177.7 188.6L176.7 190.1L176.7 190.2L175.9 191.6L175.2 192.8L175.0 193.1L174.0 194.6L173.7 195.1L173.0 196.1L172.2 197.2L171.9 197.6L170.8 199.1L170.7 199.3L169.8 200.6L169.2 201.4L168.7 202.1L167.7 203.5L167.6 203.6L166.6 205.1L166.2 205.6L165.5 206.6L164.7 207.7L164.4 208.1L163.4 209.6L163.2 209.8L162.3 211.1L161.7 212.0L161.3 212.6L160.3 214.1L160.2 214.2L159.3 215.6L158.7 216.8L158.6 217.1L158.0 218.6L157.4 220.1L157.2 220.6L156.8 221.6L156.1 223.1L155.7 224.0L155.4 224.6L154.7 226.1L154.2 227.1L153.9 227.6L153.2 229.1L152.7 230.0L152.4 230.6L151.6 232.1L151.2 232.9L150.8 233.6L150.0 235.1L149.7 235.7L149.2 236.6L148.4 238.1L148.2 238.5L147.5 239.6L146.7 241.0L146.6 241.1L145.7 242.6L145.2 243.3L144.6 244.1L143.7 245.3L143.4 245.6L142.2 246.9L142.0 247.1L140.7 248.4L140.4 248.6L139.2 249.6L138.5 250.1L137.7 250.6L136.2 251.5L135.9 251.6L134.7 252.2L133.2 252.8L132.2 253.1L131.7 253.2L130.2 253.7L128.7 254.0L127.2 254.3L125.8 254.6L125.7 254.6L124.2 254.9L122.7 255.1L121.2 255.3L119.7 255.5L118.2 255.6L116.7 255.6L115.2 255.6L113.7 255.4L112.2 255.2L110.7 254.9L109.2 254.6L108.9 254.6L107.7 254.4L106.2 254.0L104.7 253.5L103.6 253.1L103.2 253.0L103.2 251.6L103.2 250.1L103.2 248.6L103.2 247.1L103.2 245.6L103.2 244.1L103.2 242.6L103.2 241.1L103.2 239.6L103.2 238.1L103.2 236.6L103.2 235.1L103.2 233.6L103.2 232.1L103.2 230.6L103.2 229.1L103.2 227.6L103.2 226.1L103.2 224.6L103.2 223.1L103.2 221.6L103.2 220.1L103.2 218.6L103.2 217.1L103.2 215.6L103.2 214.1L103.2 212.6L103.2 211.1L103.2 209.6L103.2 208.1L103.2 206.6L103.2 205.1L103.2 203.6L103.2 202.1L103.2 200.6L103.2 199.1L103.2 197.6L103.2 196.1L103.2 194.6L103.2 193.1L103.2 191.6L103.2 190.1L103.2 188.6L103.2 187.1L103.2 185.6L103.2 184.1L103.2 182.6L103.2 181.1L103.2 179.6L103.2 178.1L103.2 176.6L103.2 175.1L103.2 173.6L103.2 172.1L103.2 170.6L103.2 169.1L103.2 167.6L103.2 166.1L103.2 164.6L103.2 163.1L103.2 161.6L103.2 160.1L103.2 158.6L103.2 157.1L103.2 155.6L103.2 154.1L103.2 152.6L103.2 151.1L103.2 149.6L103.2 148.1L103.2 146.6L103.2 145.1L103.2 143.6L103.2 142.1L103.2 140.6L103.2 139.1L103.2 137.6L103.2 136.1L103.2 134.6L103.2 133.1L103.2 131.6L103.2 130.1L103.2 128.6L103.2 127.5L103.5 127.1L104.7 125.6L104.7 125.6L106.0 124.1L106.2 123.9L107.3 122.6L107.7 122.2L108.7 121.1L109.2 120.6L110.2 119.6L110.7 119.1L111.7 118.1L112.2 117.6L113.3 116.6L113.7 116.3L115.1 115.1L115.2 115.0L116.7 113.8L116.9 113.6L118.2 112.6L118.9 112.1L119.7 111.5L121.1 110.6L121.2 110.5L122.7 109.5L123.4 109.1L124.2 108.6L125.7 107.7L125.9 107.6L127.2 106.9L128.7 106.1L128.7 106.1L130.2 105.4L131.7 104.7L131.9 104.6L133.2 104.0L134.7 103.4L135.5 103.1L136.2 102.8L137.7 102.3L139.2 101.7L139.7 101.6L140.7 101.3L142.2 100.8L143.7 100.4L144.9 100.1L145.2 100.0L146.7 99.7L148.2 99.3L149.7 99.1L151.2 98.8L152.7 98.6L152.8 98.6L154.2 98.4L155.7 98.3L157.2 98.2L158.7 98.2L160.2 98.2L161.7 98.3L163.2 98.4L164.5 98.6L164.7 98.6L166.2 98.8L167.7 99.0L169.2 99.2L170.7 99.4L172.2 99.5L173.7 99.6L175.2 99.7L176.7 99.3L177.8 98.6L178.2 98.3L179.5 97.1L179.7 96.9L180.9 95.6L181.2 95.3L182.3 94.1L182.7 93.6L183.7 92.6L184.2 92.0L185.1 91.1L185.7 90.6L186.8 89.6L187.2 89.3L188.7 88.3L189.1 88.1L190.2 87.5L191.7 86.7L192.0 86.6L193.2 86.1L194.7 85.5L196.0 85.1L196.2 85.0L197.7 84.6L199.2 84.2L200.7 83.9L201.9 83.6L202.2 83.5L203.7 83.3L205.2 83.1L206.7 82.8L208.2 82.6L209.7 82.4L211.2 82.2ZM348.1 248.6L349.2 248.3L350.7 248.1L352.2 248.1L353.7 248.1L355.2 248.4L356.2 248.6L356.7 248.7L358.2 249.2L359.7 249.9L360.2 250.1L361.2 250.6L362.7 251.5L362.9 251.6L364.2 252.4L365.1 253.1L365.7 253.5L367.0 254.6L367.2 254.8L368.6 256.1L368.7 256.1L370.0 257.6L370.2 257.8L371.1 259.1L371.7 260.0L372.0 260.6L372.9 262.1L373.2 262.7L373.7 263.6L374.4 265.1L374.7 265.9L375.0 266.6L375.6 268.1L376.1 269.6L376.2 269.8L376.6 271.1L377.0 272.6L377.4 274.1L377.7 275.3L377.8 275.6L378.0 277.1L378.3 278.6L378.4 280.1L378.6 281.6L378.7 283.1L378.7 284.6L378.8 286.1L378.8 287.6L378.8 289.1L378.8 290.6L378.7 292.1L378.6 293.6L378.5 295.1L378.4 296.6L378.2 298.1L378.0 299.6L377.8 301.1L377.7 301.4L377.5 302.6L377.1 304.1L376.7 305.6L376.3 307.1L376.2 307.3L375.8 308.6L375.3 310.1L374.9 311.6L374.7 312.3L374.5 313.1L374.0 314.6L373.6 316.1L373.2 317.6L373.2 317.6L372.7 319.1L372.3 320.6L371.8 322.1L371.7 322.3L371.2 323.6L370.5 325.1L370.2 325.9L369.8 326.6L369.1 328.1L368.7 328.9L368.3 329.6L367.6 331.1L367.2 331.8L366.8 332.6L365.9 334.1L365.7 334.4L364.9 335.6L364.2 336.8L364.1 337.1L363.4 338.6L362.7 340.1L362.7 340.1L361.9 341.6L361.2 343.0L361.1 343.1L360.2 344.6L359.7 345.2L358.9 346.1L358.2 346.9L357.6 347.6L356.7 349.0L356.7 349.1L355.9 350.6L355.2 351.9L355.1 352.1L354.2 353.6L353.7 354.4L353.1 355.1L352.2 356.1L351.7 356.6L350.7 357.7L350.3 358.1L349.2 359.5L349.1 359.6L348.1 361.1L347.7 361.7L347.0 362.6L346.2 363.6L345.7 364.1L344.7 365.1L344.2 365.6L343.2 366.4L342.4 367.1L341.7 367.7L340.5 368.6L340.2 368.8L338.7 369.9L338.4 370.1L337.2 370.9L336.2 371.6L335.7 371.9L334.2 372.8L333.8 373.1L332.7 373.7L331.2 374.5L331.0 374.6L329.7 375.3L328.2 376.0L328.0 376.1L326.7 376.8L325.2 377.5L324.9 377.6L323.7 378.1L322.2 378.6L320.7 379.0L320.3 379.1L319.2 379.3L317.7 379.5L316.2 379.6L314.7 379.7L313.2 379.8L311.7 379.8L310.2 379.9L308.7 380.0L307.2 380.0L305.7 379.9L304.2 379.7L302.7 379.6L301.2 379.4L299.7 379.3L298.3 379.1L298.2 379.1L296.7 378.9L295.2 378.5L293.7 377.9L292.9 377.6L292.2 377.2L290.7 376.4L290.2 376.1L289.2 375.4L288.0 374.6L287.7 374.4L286.2 373.2L286.0 373.1L284.7 371.9L284.3 371.6L283.2 370.4L282.9 370.1L281.8 368.6L281.7 368.4L281.1 367.1L280.6 365.6L280.2 364.3L280.1 364.1L278.7 362.7L278.4 362.6L277.2 362.1L275.7 361.6L274.4 361.1L274.2 361.0L272.9 359.6L272.9 358.1L273.2 356.6L273.2 355.1L272.7 354.3L272.4 353.6L271.8 352.1L271.2 350.6L271.2 350.5L270.8 349.1L270.4 347.6L269.9 346.1L269.7 345.0L269.6 344.6L269.5 343.1L269.4 341.6L269.2 340.1L269.0 338.6L268.9 337.1L268.8 335.6L268.9 334.1L269.1 332.6L269.5 331.1L269.7 330.3L269.9 329.6L270.4 328.1L270.8 326.6L271.2 325.6L271.4 325.1L272.0 323.6L272.6 322.1L272.7 321.9L273.3 320.6L274.1 319.1L274.2 318.9L275.0 317.6L275.7 316.4L275.9 316.1L277.0 314.6L277.2 314.3L278.1 313.1L278.7 312.3L279.3 311.6L280.2 310.5L280.5 310.1L281.7 308.7L281.8 308.6L283.1 307.1L283.2 307.0L284.5 305.6L284.7 305.3L285.9 304.1L286.2 303.8L287.4 302.6L287.7 302.3L288.9 301.1L289.2 300.8L290.4 299.6L290.7 299.3L291.9 298.1L292.2 297.8L293.4 296.6L293.7 296.3L294.9 295.1L295.2 294.8L296.4 293.6L296.7 293.3L298.0 292.1L298.2 291.9L299.6 290.6L299.7 290.5L301.2 289.1L301.2 289.1L302.7 287.7L302.8 287.6L304.2 286.2L304.2 286.1L305.7 284.6L305.7 284.5L307.1 283.1L307.2 282.9L308.5 281.6L308.7 281.4L310.1 280.1L310.2 280.0L311.7 278.7L311.8 278.6L313.2 277.3L313.4 277.1L314.7 275.9L315.0 275.6L316.2 274.4L316.5 274.1L317.7 272.9L318.0 272.6L319.2 271.4L319.4 271.1L320.7 269.7L320.8 269.6L322.1 268.1L322.2 267.9L323.4 266.6L323.7 266.3L324.9 265.1L325.2 264.8L326.5 263.6L326.7 263.4L328.1 262.1L328.2 262.0L329.7 260.6L329.7 260.6L331.2 259.2L331.3 259.1L332.6 257.6L332.7 257.5L334.0 256.1L334.2 255.9L335.7 254.6L335.7 254.6L337.2 253.8L338.6 253.1L338.7 253.0L340.2 252.3L341.5 251.6L341.7 251.5L343.2 250.7L344.3 250.1L344.7 249.9L346.2 249.2L347.7 248.7ZM281.6 422.6L281.7 422.6L283.2 422.4L284.7 422.2L286.2 422.1L287.7 422.1L289.2 422.2L290.7 422.4L291.9 422.6L292.2 422.7L293.7 422.9L295.2 423.1L296.7 423.4L298.2 423.6L299.7 423.8L301.2 424.0L302.7 424.1L302.7 424.1L304.2 424.2L305.7 424.4L307.2 424.5L308.7 424.8L310.2 425.3L310.8 425.6L311.7 426.3L312.6 427.1L313.2 427.8L313.7 428.6L314.6 430.1L314.7 430.4L315.2 431.6L314.7 431.6L313.2 431.6L311.7 431.6L310.2 431.6L308.7 431.6L307.2 431.6L305.7 431.6L304.2 431.6L302.7 431.6L301.2 431.6L299.7 431.6L298.2 431.6L296.7 431.6L295.2 431.6L293.7 431.6L292.2 431.6L290.7 431.6L289.2 431.6L287.7 431.6L286.2 431.6L284.7 431.6L283.2 431.6L281.7 431.6L280.2 431.6L278.7 431.6L277.2 431.6L275.7 431.6L274.2 431.6L272.7 431.6L271.2 431.6L269.7 431.6L268.2 431.6L266.7 431.6L265.2 431.6L263.7 431.6L262.2 431.6L260.7 431.6L259.2 431.6L257.7 431.6L256.2 431.6L254.7 431.6L253.2 431.6L251.7 431.6L250.2 431.6L248.7 431.6L247.2 431.6L245.7 431.6L244.2 431.6L243.7 431.6L244.2 431.4L245.7 430.7L247.0 430.1L247.2 430.0L248.7 429.2L249.8 428.6L250.2 428.4L251.7 427.4L252.3 427.1L253.2 426.5L254.7 425.7L254.8 425.6L256.2 424.9L257.7 424.3L258.7 424.1L259.2 424.0L260.7 423.8L262.2 423.8L263.7 423.8L265.2 423.9L266.7 424.0L268.2 424.0L269.7 423.9L271.2 423.8L272.7 423.7L274.2 423.6L275.7 423.4L277.2 423.2L278.7 423.0L280.2 422.8ZM137.9 430.1L139.2 430.0L140.7 429.9L142.2 429.8L143.7 429.7L145.2 429.6L146.7 429.5L148.2 429.4L149.7 429.3L151.2 429.3L152.7 429.2L154.2 429.1L155.7 429.1L157.2 429.0L158.7 429.0L160.2 428.9L161.7 428.9L163.2 428.9L164.7 428.9L166.2 428.9L167.7 428.9L169.2 429.0L170.7 429.0L172.2 429.1L173.7 429.1L175.2 429.2L176.7 429.3L178.2 429.4L179.7 429.5L181.2 429.6L182.7 429.7L184.2 429.9L185.7 430.0L186.8 430.1L187.2 430.1L188.7 430.3L190.2 430.4L191.7 430.6L193.2 430.8L194.7 430.9L196.2 431.1L197.7 431.3L199.2 431.5L200.3 431.6L199.2 431.6L197.7 431.6L196.2 431.6L194.7 431.6L193.2 431.6L191.7 431.6L190.2 431.6L188.7 431.6L187.2 431.6L185.7 431.6L184.2 431.6L182.7 431.6L181.2 431.6L179.7 431.6L178.2 431.6L176.7 431.6L175.2 431.6L173.7 431.6L172.2 431.6L170.7 431.6L169.2 431.6L167.7 431.6L166.2 431.6L164.7 431.6L163.2 431.6L161.7 431.6L160.2 431.6L158.7 431.6L157.2 431.6L155.7 431.6L154.2 431.6L152.7 431.6L151.2 431.6L149.7 431.6L148.2 431.6L146.7 431.6L145.2 431.6L143.7 431.6L142.2 431.6L140.7 431.6L139.2 431.6L137.7 431.6L136.2 431.6L134.7 431.6L133.2 431.6L131.7 431.6L130.2 431.6L128.7 431.6L127.2 431.6L125.7 431.6L124.2 431.6L122.7 431.6L121.2 431.6L120.0 431.6L121.2 431.5L122.7 431.4L124.2 431.2L125.7 431.1L127.2 431.0L128.7 430.8L130.2 430.7L131.7 430.6L133.2 430.5L134.7 430.4L136.2 430.2L137.7 430.1Z"/>
<path fill="#5ec962" d="M440.1 53.6L440.7 53.6L442.2 53.6L443.7 53.6L445.2 53.6L446.7 53.6L448.2 53.6L449.7 53.6L451.2 53.6L452.7 53.6L454.2 53.6L455.7 53.6L457.2 53.6L458.7 53.6L460.2 53.6L461.7 53.6L463.2 53.6L464.7 53.6L466.2 53.6L467.7 53.6L469.2 53.6L470.7 53.6L472.2 53.6L473.7 53.6L475.2 53.6L476.7 53.6L478.2 53.6L479.7 53.6L481.2 53.6L481.2 55.1L481.2 56.6L481.2 58.1L481.2 59.6L481.2 61.1L481.2 62.6L481.2 64.1L481.2 65.6L481.2 67.1L481.2 68.6L481.2 70.1L481.2 71.6L481.2 73.1L481.2 74.6L481.2 76.1L481.2 77.6L481.2 79.1L481.2 80.6L481.2 82.1L481.2 83.6L481.2 85.1L481.2 86.6L481.2 88.1L481.2 89.6L481.2 91.1L481.2 92.6L481.2 94.1L481.2 95.6L481.2 97.1L481.2 98.6L481.2 100.1L481.2 101.6L481.2 103.1L481.2 104.6L481.2 106.1L481.2 107.6L481.2 109.1L481.2 110.6L481.2 112.1L481.2 113.6L481.2 115.1L481.2 116.6L481.2 118.1L481.2 119.6L481.2 121.1L481.2 122.6L481.2 124.1L481.2 125.6L481.2 127.1L481.2 128.6L481.2 130.1L481.2 131.6L481.2 133.1L481.2 134.6L481.2 136.1L481.2 137.6L481.2 139.1L481.2 140.6L481.2 142.1L481.2 143.6L481.2 145.1L481.2 146.6L481.2 148.1L481.2 149.6L481.2 151.1L481.2 152.6L481.2 154.1L481.2 155.6L481.2 157.1L481.2 158.6L481.2 160.1L481.2 161.6L481.2 163.1L481.2 164.6L481.2 166.1L481.2 167.6L481.2 169.1L481.2 170.6L481.2 172.1L481.2 173.6L481.2 175.1L481.2 176.6L481.2 178.1L481.2 179.6L481.2 181.1L481.2 182.6L481.2 184.1L481.2 185.6L481.2 187.1L481.2 188.6L481.2 190.1L481.2 191.6L481.2 193.1L481.2 194.6L481.2 196.1L481.2 197.6L481.2 199.1L481.2 200.6L481.2 202.1L481.2 203.6L481.2 205.1L481.2 206.6L481.2 208.1L481.2 209.6L481.2 211.1L481.2 212.6L481.2 214.1L481.2 215.6L481.2 217.1L481.2 218.6L481.2 220.1L481.2 221.6L481.2 223.1L481.2 224.6L481.2 226.1L481.2 227.6L481.2 229.1L481.2 230.1L480.4 229.1L479.7 228.2L479.2 227.6L478.2 226.5L477.8 226.1L476.7 224.7L476.6 224.6L475.7 223.1L475.2 222.1L475.0 221.6L474.3 220.1L473.7 218.8L473.6 218.6L472.9 217.1L472.3 215.6L472.2 215.4L471.5 214.1L470.8 212.6L470.7 212.4L470.1 211.1L469.6 209.6L469.2 209.0L468.4 208.1L467.7 207.3L466.9 206.6L466.2 205.8L465.6 205.1L464.7 204.0L464.3 203.6L463.5 202.1L463.2 201.4L462.8 200.6L461.8 199.1L461.7 198.9L460.8 197.6L460.2 196.7L459.8 196.1L458.7 194.7L458.6 194.6L457.2 193.5L456.6 193.1L455.7 192.6L454.8 191.6L454.6 190.1L454.4 188.6L454.2 188.1L453.7 187.1L452.7 185.7L452.7 185.6L451.5 184.1L451.2 183.7L450.6 182.6L449.7 181.2L449.6 181.1L448.5 179.6L448.2 179.3L446.9 178.1L446.7 177.9L445.2 176.8L444.9 176.6L443.7 175.7L442.9 175.1L442.2 174.6L441.0 173.6L440.7 173.3L439.4 172.1L439.2 171.9L438.0 170.6L437.7 170.2L436.7 169.1L436.2 168.5L434.7 167.8L434.2 167.6L433.2 167.2L431.7 166.5L430.9 166.1L430.2 165.2L429.8 164.6L428.7 163.5L428.5 163.1L427.5 161.6L427.2 161.2L425.7 160.2L425.6 160.1L424.2 158.7L424.1 158.6L422.7 157.5L422.0 157.1L421.2 156.6L419.7 155.9L419.3 155.6L418.2 154.4L417.7 154.1L416.7 153.5L415.3 152.6L415.2 152.5L413.7 151.3L413.5 151.1L412.2 149.9L411.8 149.6L410.7 148.8L409.4 148.1L409.2 147.9L407.7 146.7L407.6 146.6L406.2 145.7L405.4 145.1L404.7 144.6L403.2 143.7L403.1 143.6L401.7 142.9L400.2 142.2L400.1 142.1L398.7 141.2L397.8 140.6L397.2 140.2L395.7 139.2L395.6 139.1L394.2 138.1L393.5 137.6L392.7 137.1L391.3 136.1L391.2 136.1L389.7 135.1L389.0 134.6L388.2 134.1L386.7 133.1L386.7 133.1L385.2 132.2L384.3 131.6L383.7 131.2L382.2 130.3L381.9 130.1L380.7 129.4L379.4 128.6L379.2 128.5L377.7 127.6L376.8 127.1L376.2 126.7L374.7 125.9L374.2 125.6L373.2 125.0L371.8 124.1L371.7 124.0L370.2 123.0L369.6 122.6L368.7 121.9L367.8 121.1L367.2 120.5L366.4 119.6L365.7 118.7L365.3 118.1L364.3 116.6L364.2 116.3L363.6 115.1L363.0 113.6L362.7 112.7L362.5 112.1L362.2 110.6L362.0 109.1L361.8 107.6L361.9 106.1L362.3 104.6L362.7 103.7L363.0 103.1L364.2 101.9L364.4 101.6L365.7 100.7L366.6 100.1L367.2 99.8L368.7 99.1L369.8 98.6L370.2 98.4L371.7 98.0L373.2 97.6L374.7 97.4L376.2 97.3L377.7 97.1L378.1 97.1L379.2 97.0L380.7 96.8L382.2 96.5L383.7 96.3L385.2 96.2L386.7 96.2L388.2 96.2L389.7 96.3L391.2 96.3L392.7 96.4L394.2 96.5L395.7 96.6L397.2 96.7L398.7 96.7L400.2 96.8L401.7 96.9L403.2 97.0L403.8 97.1L404.7 97.3L406.2 97.4L407.7 97.2L408.3 97.1L409.2 96.9L410.7 96.5L412.2 95.8L412.7 95.6L413.7 95.1L415.2 94.1L415.2 94.1L416.7 93.0L417.2 92.6L418.2 91.7L418.9 91.1L419.7 90.3L420.4 89.6L421.2 88.7L421.7 88.1L422.7 86.9L422.9 86.6L424.1 85.1L424.2 84.9L425.1 83.6L425.7 82.8L426.1 82.1L427.1 80.6L427.2 80.4L428.0 79.1L428.7 78.0L428.9 77.6L429.8 76.1L430.2 75.3L430.6 74.6L431.4 73.1L431.7 72.5L432.1 71.6L432.9 70.1L433.2 69.5L433.6 68.6L434.3 67.1L434.7 66.3L435.0 65.6L435.7 64.1L436.2 63.0L436.4 62.6L437.0 61.1L437.7 59.6L437.7 59.6L438.3 58.1L438.9 56.6L439.2 55.9L439.5 55.1ZM176.1 109.1L176.7 108.9L178.2 108.5L179.7 108.3L181.2 108.3L182.7 108.4L184.2 108.4L185.7 108.5L187.2 108.6L188.7 108.8L189.6 109.1L190.2 109.3L191.7 110.3L192.1 110.6L193.2 112.1L193.2 112.2L193.3 113.6L193.2 114.6L193.2 115.1L192.7 116.6L192.1 118.1L191.7 119.3L191.5 119.6L191.0 121.1L190.5 122.6L190.2 123.5L189.9 124.1L188.7 125.6L188.7 125.6L188.2 127.1L187.6 128.6L187.2 129.2L186.4 130.1L185.7 131.0L185.3 131.6L185.0 133.1L184.6 134.6L184.2 135.3L183.4 136.1L182.7 136.8L182.0 137.6L181.2 139.1L181.2 139.1L179.7 140.4L179.6 140.6L178.9 142.1L178.2 143.6L178.2 143.6L177.4 145.1L176.7 146.2L176.5 146.6L175.2 148.1L175.2 148.1L173.8 149.6L173.7 149.7L172.7 151.1L172.2 152.0L171.9 152.6L171.1 154.1L170.7 154.9L170.4 155.6L169.7 157.1L169.2 158.1L169.0 158.6L168.2 160.1L167.7 161.3L167.5 161.6L166.8 163.1L166.2 164.4L166.1 164.6L165.4 166.1L164.7 167.4L164.6 167.6L163.8 169.1L163.2 170.4L163.1 170.6L162.3 172.1L161.7 173.3L161.5 173.6L160.8 175.1L160.2 176.2L160.0 176.6L159.2 178.1L158.7 179.2L158.5 179.6L157.7 181.1L157.2 182.2L157.0 182.6L156.3 184.1L155.7 185.2L155.5 185.6L154.8 187.1L154.2 188.2L154.0 188.6L153.2 190.1L152.7 191.1L152.5 191.6L151.7 193.1L151.2 194.2L151.0 194.6L150.3 196.1L149.7 197.2L149.5 197.6L148.8 199.1L148.2 200.2L148.0 200.6L147.3 202.1L146.7 203.2L146.5 203.6L145.8 205.1L145.2 206.3L145.0 206.6L144.2 208.1L143.7 209.1L143.4 209.6L142.6 211.1L142.2 211.7L141.6 212.6L140.7 213.8L140.4 214.1L139.2 215.0L138.1 215.6L137.7 215.9L136.4 217.1L136.2 217.2L134.8 218.6L134.7 218.7L133.3 220.1L133.2 220.2L131.8 221.6L131.7 221.7L130.3 223.1L130.2 223.2L128.8 224.6L128.7 224.7L127.3 226.1L127.2 226.2L125.8 227.6L125.7 227.7L124.5 229.1L124.2 229.5L123.2 230.6L122.7 231.1L121.6 232.1L121.2 232.4L119.7 233.2L118.2 233.5L116.7 233.0L115.2 232.1L115.2 232.1L113.7 231.0L113.2 230.6L112.2 229.8L111.2 229.1L110.7 228.7L109.2 227.6L109.2 227.6L107.7 226.6L107.0 226.1L106.2 225.6L104.7 224.6L104.7 224.6L103.2 223.5L103.2 223.1L103.2 221.6L103.2 220.1L103.2 218.6L103.2 217.1L103.2 215.6L103.2 214.1L103.2 212.6L103.2 211.1L103.2 209.6L103.2 208.1L103.2 206.6L103.2 205.1L103.2 203.6L103.2 202.1L103.2 200.6L103.2 199.1L103.2 197.6L103.2 196.1L103.2 194.6L103.2 193.1L103.2 191.6L103.2 190.1L103.2 188.6L103.2 187.1L103.2 185.6L103.2 184.1L103.2 182.6L103.2 181.1L103.2 179.6L103.2 178.1L103.2 176.6L103.2 176.2L104.2 175.1L104.7 174.6L105.7 173.6L106.2 173.1L107.1 172.1L107.7 171.5L108.6 170.6L109.2 170.0L110.0 169.1L110.7 168.3L111.3 167.6L112.2 166.6L112.6 166.1L113.7 164.7L113.8 164.6L114.8 163.1L115.2 162.5L115.8 161.6L116.6 160.1L116.7 159.8L117.2 158.6L117.8 157.1L118.2 156.0L118.3 155.6L118.8 154.1L119.2 152.6L119.6 151.1L119.7 150.8L120.0 149.6L120.5 148.1L121.0 146.6L121.2 145.9L121.5 145.1L122.0 143.6L122.7 142.1L122.7 142.1L123.4 140.6L124.2 139.1L124.2 139.1L125.1 137.6L125.7 136.6L126.0 136.1L127.1 134.6L127.2 134.5L128.3 133.1L128.7 132.7L129.7 131.6L130.2 131.1L131.2 130.1L131.7 129.7L132.9 128.6L133.2 128.4L134.7 127.2L134.8 127.1L136.2 126.1L137.0 125.6L137.7 125.1L139.2 124.2L139.4 124.1L140.7 123.4L142.1 122.6L142.2 122.6L143.7 121.8L145.1 121.1L145.2 121.1L146.7 120.4L148.2 119.7L148.4 119.6L149.7 119.1L151.2 118.4L152.0 118.1L152.7 117.8L154.2 117.2L155.7 116.6L155.7 116.6L157.2 116.0L158.7 115.3L159.3 115.1L160.2 114.7L161.7 113.8L161.9 113.6L163.2 112.2L163.4 112.1L164.7 111.6L166.2 111.4L167.7 111.3L169.2 111.1L170.7 110.9L171.8 110.6L172.2 110.5L173.7 110.1L175.2 109.5Z"/>
<path fill="#9bd93c" d="M452.1 55.1L452.7 53.6L452.7 53.6L454.2 53.6L455.7 53.6L457.2 53.6L458.7 53.6L460.2 53.6L461.7 53.6L463.2 53.6L464.7 53.6L466.2 53.6L467.7 53.6L469.2 53.6L470.7 53.6L472.2 53.6L473.7 53.6L475.2 53.6L476.7 53.6L478.2 53.6L479.7 53.6L481.2 53.6L481.2 55.1L481.2 56.6L481.2 58.1L481.2 59.6L481.2 61.1L481.2 62.6L481.2 64.1L481.2 65.6L481.2 67.1L481.2 68.6L481.2 70.1L481.2 71.6L481.2 73.1L481.2 74.6L481.2 76.1L481.2 77.6L481.2 79.1L481.2 80.6L481.2 82.1L481.2 83.6L481.2 85.1L481.2 86.6L481.2 88.1L481.2 89.6L481.2 91.1L481.2 92.6L481.2 94.1L481.2 95.6L481.2 97.1L481.2 98.6L481.2 100.1L481.2 101.6L481.2 103.1L481.2 104.6L481.2 106.1L481.2 107.6L481.2 109.1L481.2 110.6L481.2 112.1L481.2 113.6L481.2 115.1L481.2 116.6L481.2 118.1L481.2 119.6L481.2 121.1L481.2 122.6L481.2 124.1L481.2 125.6L481.2 127.1L481.2 128.6L481.2 130.1L481.2 131.6L481.2 133.1L481.2 134.6L481.2 136.1L481.2 137.6L481.2 139.1L481.2 140.6L481.2 142.1L481.2 143.6L481.2 145.1L481.2 146.6L481.2 148.1L481.2 149.6L481.2 151.1L481.2 152.6L481.2 154.1L481.2 155.6L481.2 157.1L481.2 158.6L481.2 160.1L481.2 161.6L481.2 163.1L481.2 164.6L481.2 166.1L481.2 167.6L481.2 169.1L481.2 170.6L481.2 172.1L481.2 173.6L481.2 175.1L481.2 176.6L481.2 178.1L481.2 179.6L481.2 181.1L481.2 182.6L481.2 184.1L481.2 185.6L481.2 187.1L481.2 188.6L481.2 190.1L481.2 191.6L481.2 193.1L481.2 194.6L481.2 196.1L481.2 197.6L481.2 199.1L481.2 200.6L481.2 202.1L481.2 203.6L481.2 205.1L481.2 206.6L481.2 208.1L481.2 209.6L481.2 211.1L481.2 212.6L481.2 214.1L481.2 215.6L481.2 217.1L481.2 218.6L481.2 220.1L481.2 221.6L481.2 223.1L481.2 224.6L481.2 225.8L480.0 224.6L479.7 224.2L478.7 223.1L478.2 222.4L477.6 221.6L476.7 220.1L476.7 220.1L476.0 218.6L475.3 217.1L475.2 216.9L474.7 215.6L474.1 214.1L473.7 213.1L473.5 212.6L472.8 211.1L472.2 209.6L472.2 209.5L471.6 208.1L470.9 206.6L470.7 206.3L470.0 205.1L469.2 204.0L468.9 203.6L468.2 202.1L467.7 200.6L467.7 200.6L466.8 199.1L466.2 198.2L465.8 197.6L464.7 196.1L464.7 196.1L463.6 194.6L463.2 194.1L462.5 193.1L461.7 192.2L461.1 191.6L460.2 190.6L459.8 190.1L459.0 188.6L458.7 187.7L458.5 187.1L458.0 185.6L457.4 184.1L457.2 183.8L456.4 182.6L455.7 181.6L455.3 181.1L454.2 179.6L454.2 179.6L453.1 178.1L452.7 177.6L451.9 176.6L451.2 175.7L450.6 175.1L449.7 174.1L449.1 173.6L448.2 172.7L447.5 172.1L446.7 171.4L445.6 170.6L445.2 170.3L443.7 169.3L443.4 169.1L442.2 168.4L441.0 167.6L440.7 167.3L439.5 166.1L439.2 165.8L438.3 164.6L437.7 163.8L437.1 163.1L436.2 161.9L436.0 161.6L435.1 160.1L434.7 158.9L434.6 158.6L433.2 157.5L432.6 157.1L431.7 156.6L430.5 155.6L430.2 155.3L429.3 154.1L428.7 153.1L428.3 152.6L427.3 151.1L427.2 151.0L425.7 150.0L425.2 149.6L424.2 148.7L423.6 148.1L422.7 147.1L422.2 146.6L421.2 145.6L420.7 145.1L419.7 144.0L419.3 143.6L418.2 142.6L417.7 142.1L416.7 141.1L416.2 140.6L415.2 139.5L414.8 139.1L413.7 138.1L413.2 137.6L412.2 136.5L411.8 136.1L410.7 135.0L410.2 134.6L409.2 133.6L408.7 133.1L407.7 132.2L406.9 131.6L406.2 131.1L404.7 130.5L403.9 130.1L403.2 129.7L401.8 128.6L401.7 128.6L400.2 127.1L400.2 127.1L398.9 125.6L398.7 125.3L397.9 124.1L397.2 122.9L397.0 122.6L396.4 121.1L396.1 119.6L396.0 118.1L396.2 116.6L396.7 115.1L397.2 114.3L397.5 113.6L398.5 112.1L398.7 111.9L399.7 110.6L400.2 110.1L401.2 109.1L401.7 108.7L403.2 108.1L404.7 107.8L406.2 107.7L407.7 107.7L409.2 107.7L410.7 107.6L412.2 107.6L413.7 107.6L415.2 107.6L415.4 107.6L416.7 107.5L418.2 107.0L419.7 106.3L420.0 106.1L421.2 105.4L422.3 104.6L422.7 104.3L424.2 103.1L424.2 103.1L425.7 101.6L425.7 101.6L427.1 100.1L427.2 100.0L428.4 98.6L428.7 98.3L429.6 97.1L430.2 96.4L430.8 95.6L431.7 94.3L431.9 94.1L432.9 92.6L433.2 92.1L433.9 91.1L434.7 89.8L434.8 89.6L435.8 88.1L436.2 87.4L436.7 86.6L437.6 85.1L437.7 84.9L438.4 83.6L439.2 82.2L439.3 82.1L440.1 80.6L440.7 79.5L440.9 79.1L441.7 77.6L442.2 76.6L442.5 76.1L443.2 74.6L443.7 73.6L444.0 73.1L444.7 71.6L445.2 70.6L445.4 70.1L446.1 68.6L446.7 67.4L446.8 67.1L447.5 65.6L448.2 64.1L448.2 64.1L448.9 62.6L449.5 61.1L449.7 60.7L450.2 59.6L450.8 58.1L451.2 57.2L451.5 56.6ZM141.7 151.1L142.2 150.9L143.7 151.0L143.9 151.1L145.2 152.2L145.4 152.6L145.7 154.1L145.5 155.6L145.2 156.2L144.8 157.1L143.8 158.6L143.7 158.9L143.4 160.1L143.3 161.6L142.9 163.1L142.2 164.4L142.1 164.6L141.3 166.1L141.2 167.6L141.1 169.1L140.7 170.5L140.7 170.6L139.9 172.1L139.2 172.9L138.5 173.6L137.7 174.5L137.2 175.1L137.0 176.6L136.8 178.1L136.4 179.6L136.2 180.1L135.7 181.1L134.7 182.4L134.5 182.6L133.2 183.9L133.0 184.1L131.9 185.6L131.7 186.3L131.5 187.1L130.9 188.6L130.2 190.0L130.1 190.1L129.0 191.6L128.7 192.0L127.5 193.1L127.2 193.5L126.3 194.6L125.7 195.5L125.2 196.1L124.2 197.2L123.5 197.6L122.7 198.1L121.2 198.0L120.7 197.6L119.7 196.1L119.7 196.1L119.5 194.6L119.7 193.8L119.8 193.1L120.4 191.6L121.2 190.4L121.4 190.1L122.4 188.6L122.7 187.3L122.7 187.1L122.8 185.6L123.0 184.1L123.5 182.6L124.2 181.2L124.3 181.1L125.0 179.6L125.6 178.1L125.7 177.8L126.2 176.6L127.0 175.1L127.2 174.8L128.0 173.6L128.7 172.3L128.8 172.1L129.5 170.6L130.2 169.3L130.3 169.1L131.2 167.6L131.7 166.9L132.3 166.1L133.2 164.7L133.3 164.6L133.9 163.1L134.4 161.6L134.7 161.1L135.2 160.1L136.2 158.8L136.5 158.6L137.7 157.3L137.9 157.1L138.4 155.6L138.8 154.1L139.2 153.2L139.6 152.6L140.7 151.5Z"/>
<path fill="#dfe318" d="M464.2 55.1L464.7 53.9L464.8 53.6L466.2 53.6L467.7 53.6L469.2 53.6L470.7 53.6L472.2 53.6L473.7 53.6L475.2 53.6L476.7 53.6L478.2 53.6L479.7 53.6L481.2 53.6L481.2 55.1L481.2 56.6L481.2 58.1L481.2 59.6L481.2 61.1L481.2 62.6L481.2 64.1L481.2 65.6L481.2 67.1L481.2 68.6L481.2 70.1L481.2 71.6L481.2 73.1L481.2 74.6L481.2 76.1L481.2 77.6L481.2 79.1L481.2 80.6L481.2 82.1L481.2 83.6L481.2 85.1L481.2 86.6L481.2 88.1L481.2 89.6L481.2 91.1L481.2 92.6L481.2 94.1L481.2 95.6L481.2 97.1L481.2 98.6L481.2 100.1L481.2 101.6L481.2 103.1L481.2 104.6L481.2 106.1L481.2 107.6L481.2 109.1L481.2 110.6L481.2 112.1L481.2 113.6L481.2 115.1L481.2 116.6L481.2 118.1L481.2 119.6L481.2 121.1L481.2 122.6L481.2 124.1L481.2 125.6L481.2 127.1L481.2 128.6L481.2 130.1L481.2 131.6L481.2 133.1L481.2 134.6L481.2 136.1L481.2 137.6L481.2 139.1L481.2 140.6L481.2 142.1L481.2 143.6L481.2 145.1L481.2 146.6L481.2 148.1L481.2 149.6L481.2 151.1L481.2 152.6L481.2 154.1L481.2 155.6L481.2 157.1L481.2 158.6L481.2 160.1L481.2 161.6L481.2 163.1L481.2 164.6L481.2 166.1L481.2 167.6L481.2 169.1L481.2 170.6L481.2 172.1L481.2 173.6L481.2 175.1L481.2 176.6L481.2 178.1L481.2 179.6L481.2 181.1L481.2 182.6L481.2 184.1L481.2 185.6L481.2 187.1L481.2 188.6L481.2 190.1L481.2 191.6L481.2 193.1L481.2 194.6L481.2 196.1L481.2 197.6L481.2 199.1L481.2 200.6L481.2 202.1L481.2 203.6L481.2 205.1L481.2 206.6L481.2 208.1L481.2 209.6L481.2 211.1L481.2 212.6L481.2 214.1L481.2 215.6L481.2 217.1L481.2 218.6L481.2 220.1L481.2 221.4L480.2 220.1L479.7 219.4L479.2 218.6L478.3 217.1L478.2 216.9L477.7 215.6L477.0 214.1L476.7 213.2L476.5 212.6L475.9 211.1L475.4 209.6L475.2 209.1L474.9 208.1L474.4 206.6L473.8 205.1L473.7 204.7L473.3 203.6L472.7 202.1L472.2 200.9L472.1 200.6L471.3 199.1L470.7 198.0L470.5 197.6L469.4 196.1L469.2 195.8L468.5 194.6L467.8 193.1L467.7 193.0L466.5 191.6L466.2 191.2L465.6 190.1L464.7 188.7L464.6 188.6L463.7 187.1L463.2 186.1L463.0 185.6L462.5 184.1L461.9 182.6L461.7 182.3L461.0 181.1L460.2 179.9L460.0 179.6L458.8 178.1L458.7 178.0L457.6 176.6L457.2 176.1L456.4 175.1L455.7 174.1L455.4 173.6L454.4 172.1L454.2 171.8L453.4 170.6L452.7 169.5L452.4 169.1L451.5 167.6L451.2 167.1L450.5 166.1L449.7 165.0L449.4 164.6L448.2 163.3L448.1 163.1L446.8 161.6L446.7 161.5L445.6 160.1L445.2 159.5L444.5 158.6L443.7 157.7L443.2 157.1L442.2 156.3L441.5 155.6L440.7 154.6L440.4 154.1L439.6 152.6L439.2 151.8L438.7 151.1L437.7 150.1L437.1 149.6L436.2 148.4L436.0 148.1L434.7 146.6L434.7 146.5L433.3 145.1L433.2 144.9L432.4 143.6L431.7 142.3L431.5 142.1L431.7 141.4L431.9 140.6L431.7 139.7L430.2 139.6L429.9 139.1L429.2 137.6L428.7 136.7L427.2 136.3L427.0 136.1L426.4 134.6L425.7 133.9L425.2 133.1L424.2 132.0L424.0 131.6L423.3 130.1L422.7 128.9L422.5 128.6L421.6 127.1L421.2 125.6L421.5 124.1L422.7 122.7L422.8 122.6L424.2 121.4L424.7 121.1L425.7 120.2L427.0 119.6L427.2 119.2L427.6 118.1L428.7 117.0L429.0 116.6L430.2 115.3L430.3 115.1L431.5 113.6L431.7 113.4L432.7 112.1L433.2 111.4L433.7 110.6L434.7 109.2L434.8 109.1L435.8 107.6L436.2 107.0L436.8 106.1L437.7 104.7L437.8 104.6L438.7 103.1L439.2 102.4L439.7 101.6L440.6 100.1L440.7 100.0L441.6 98.6L442.2 97.6L442.5 97.1L443.4 95.6L443.7 95.1L444.3 94.1L445.2 92.6L445.2 92.6L446.1 91.1L446.7 90.0L446.9 89.6L447.8 88.1L448.2 87.3L448.6 86.6L449.4 85.1L449.7 84.6L450.3 83.6L451.1 82.1L451.2 81.9L451.9 80.6L452.7 79.1L452.7 79.0L453.4 77.6L454.2 76.1L454.2 76.1L455.0 74.6L455.7 73.2L455.7 73.1L456.5 71.6L457.2 70.1L457.2 70.1L457.9 68.6L458.7 67.1L458.7 67.0L459.4 65.6L460.1 64.1L460.2 63.8L460.8 62.6L461.5 61.1L461.7 60.6L462.2 59.6L462.8 58.1L463.2 57.3L463.5 56.6Z"/>
<path fill="#ffffff" d="M476.2 55.1L476.7 54.1L476.9 53.6L478.2 53.6L479.7 53.6L481.2 53.6L481.2 55.1L481.2 56.6L481.2 58.1L481.2 59.6L481.2 61.1L481.2 62.6L481.2 64.1L481.2 65.6L481.2 67.1L481.2 68.6L481.2 70.1L481.2 71.6L481.2 73.1L481.2 74.6L481.2 76.1L481.2 77.6L481.2 79.1L481.2 80.6L481.2 82.1L481.2 83.6L481.2 85.1L481.2 86.6L481.2 88.1L481.2 89.6L481.2 91.1L481.2 92.6L481.2 94.1L481.2 95.6L481.2 97.1L481.2 98.6L481.2 100.1L481.2 101.6L481.2 103.1L481.2 104.6L481.2 106.1L481.2 107.6L481.2 109.1L481.2 110.6L481.2 112.1L481.2 113.6L481.2 115.1L481.2 116.6L481.2 118.1L481.2 119.6L481.2 121.1L481.2 122.6L481.2 124.1L481.2 125.6L481.2 127.1L481.2 128.6L481.2 130.1L481.2 131.6L481.2 133.1L481.2 134.6L481.2 136.1L481.2 137.6L481.2 139.1L481.2 140.6L481.2 142.1L481.2 143.6L481.2 145.1L481.2 146.6L481.2 148.1L481.2 149.6L481.2 151.1L481.2 152.6L481.2 154.1L481.2 155.6L481.2 157.1L481.2 158.6L481.2 160.1L481.2 161.6L481.2 163.1L481.2 164.6L481.2 166.1L481.2 167.6L481.2 169.1L481.2 170.6L481.2 172.1L481.2 173.6L481.2 175.1L481.2 176.6L481.2 178.1L481.2 179.6L481.2 181.1L481.2 182.6L481.2 184.1L481.2 185.6L481.2 187.1L481.2 188.6L481.2 190.1L481.2 191.6L481.2 193.1L481.2 194.6L481.2 196.1L481.2 197.6L481.2 199.1L481.2 200.6L481.2 202.1L481.2 203.6L481.2 205.1L481.2 206.6L481.2 208.1L481.2 209.6L481.2 211.1L481.2 212.6L481.2 214.1L481.2 214.9L480.8 214.1L480.1 212.6L479.7 211.5L479.6 211.1L479.1 209.6L478.6 208.1L478.2 206.9L478.1 206.6L477.7 205.1L477.3 203.6L476.8 202.1L476.7 201.8L476.3 200.6L475.8 199.1L475.2 197.6L475.2 197.6L474.6 196.1L473.9 194.6L473.7 194.1L473.2 193.1L472.6 191.6L472.2 190.8L471.9 190.1L471.1 188.6L470.7 187.7L470.4 187.1L469.7 185.6L469.2 184.4L469.1 184.1L468.4 182.6L467.7 181.2L467.6 181.1L466.8 179.6L466.2 178.7L465.8 178.1L464.7 176.6L464.7 176.6L463.5 175.1L463.2 174.8L462.2 173.6L461.7 173.0L460.9 172.1L460.2 171.2L459.8 170.6L458.8 169.1L458.7 168.9L458.0 167.6L457.3 166.1L457.2 165.9L456.6 164.6L455.9 163.1L455.7 162.8L455.1 161.6L454.2 160.1L454.2 160.1L453.4 158.6L452.9 157.1L452.7 156.5L452.4 155.6L451.5 154.1L451.2 153.9L449.7 152.6L449.7 152.5L449.2 151.1L449.0 149.6L448.5 148.1L448.2 147.5L447.5 146.6L446.7 145.7L446.2 145.1L445.6 143.6L445.3 142.1L445.2 141.8L444.6 140.6L443.7 140.0L442.2 139.3L441.9 139.1L440.7 137.7L440.7 137.6L440.1 136.1L439.7 134.6L439.5 133.1L439.4 131.6L439.4 130.1L439.5 128.6L439.7 127.1L440.0 125.6L440.4 124.1L440.7 123.1L440.8 122.6L441.4 121.1L441.9 119.6L442.2 119.0L442.6 118.1L443.3 116.6L443.7 115.7L444.0 115.1L444.8 113.6L445.2 112.8L445.6 112.1L446.4 110.6L446.7 110.0L447.2 109.1L448.1 107.6L448.2 107.4L448.9 106.1L449.7 104.8L449.8 104.6L450.7 103.1L451.2 102.2L451.6 101.6L452.4 100.1L452.7 99.7L453.3 98.6L454.2 97.1L454.2 97.1L455.1 95.6L455.7 94.5L455.9 94.1L456.8 92.6L457.2 91.9L457.6 91.1L458.5 89.6L458.7 89.2L459.3 88.1L460.2 86.6L460.2 86.6L461.0 85.1L461.7 83.8L461.8 83.6L462.6 82.1L463.2 81.1L463.4 80.6L464.2 79.1L464.7 78.2L465.0 77.6L465.8 76.1L466.2 75.4L466.6 74.6L467.4 73.1L467.7 72.5L468.2 71.6L468.9 70.1L469.2 69.5L469.7 68.6L470.4 67.1L470.7 66.5L471.2 65.6L471.9 64.1L472.2 63.5L472.6 62.6L473.4 61.1L473.7 60.4L474.1 59.6L474.8 58.1L475.2 57.2L475.5 56.6Z"/>
</g>
<g fill="none" stroke="#b0b0b0" stroke-width="1.11" clip-path="url(#c)"><circle cx="292.0" cy="242.4" r="20.53"/><circle cx="292.0" cy="242.4" r="41.07"/><circle cx="292.0" cy="242.4" r="61.60"/><circle cx="292.0" cy="242.4" r="82.13"/><circle cx="292.0" cy="242.4" r="102.67"/><circle cx="292.0" cy="242.4" r="123.20"/><circle cx="292.0" cy="242.4" r="143.73"/><circle cx="292.0" cy="242.4" r="164.27"/><circle cx="292.0" cy="242.4" r="184.80"/><line x1="292.5" y1="242.4" x2="292.5" y2="57.60" stroke-width="1"/><line x1="292.0" y1="242.4" x2="422.67" y2="111.73"/><line x1="292.0" y1="242.5" x2="476.80" y2="242.5" stroke-width="1"/><line x1="292.0" y1="242.4" x2="422.67" y2="373.07"/><line x1="292.5" y1="242.4" x2="292.5" y2="427.20" stroke-width="1"/><line x1="292.0" y1="242.4" x2="161.33" y2="373.07"/><line x1="292.0" y1="242.5" x2="107.20" y2="242.5" stroke-width="1"/><line x1="292.0" y1="242.4" x2="161.33" y2="111.73"/></g>
<circle cx="292.0" cy="242.4" r="184.8" fill="none" stroke="#000" stroke-width="1.11"/>
<text x="29.50" y="23.10" font-size="17.58" text-anchor="start" textLength="44.38" lengthAdjust="spacingAndGlyphs">Delta</text><text x="79.12" y="23.10" font-size="17.58" text-anchor="start" textLength="69.75" lengthAdjust="spacingAndGlyphs">Antenna</text><text x="154.12" y="23.10" font-size="17.58" text-anchor="start" textLength="49.75" lengthAdjust="spacingAndGlyphs">Phase</text><text x="209.12" y="23.10" font-size="17.58" text-anchor="start" textLength="59.62" lengthAdjust="spacingAndGlyphs">Biases:</text><text x="274.00" y="23.10" font-size="17.58" text-anchor="start" textLength="91.88" lengthAdjust="spacingAndGlyphs">LEICGA100</text><text x="402.62" y="23.10" font-size="17.58" text-anchor="start" textLength="48.38" lengthAdjust="spacingAndGlyphs">NONE</text><text x="456.25" y="23.10" font-size="17.58" text-anchor="start" textLength="98.25" lengthAdjust="spacingAndGlyphs">GALILEO-E6</text><text x="292.00" y="41.99" font-size="14.65" text-anchor="middle" textLength="15.75" lengthAdjust="spacingAndGlyphs">0°</text><text x="436.42" y="101.81" font-size="14.65" text-anchor="middle" textLength="24.50" lengthAdjust="spacingAndGlyphs">45°</text><text x="496.24" y="246.23" font-size="14.65" text-anchor="middle" textLength="24.62" lengthAdjust="spacingAndGlyphs">90°</text><text x="436.42" y="390.66" font-size="14.65" text-anchor="middle" textLength="33.38" lengthAdjust="spacingAndGlyphs">135°</text><text x="292.00" y="450.48" font-size="14.65" text-anchor="middle" textLength="33.50" lengthAdjust="spacingAndGlyphs">180°</text><text x="147.58" y="390.66" font-size="14.65" text-anchor="middle" textLength="33.25" lengthAdjust="spacingAndGlyphs">225°</text><text x="87.76" y="246.23" font-size="14.65" text-anchor="middle" textLength="33.25" lengthAdjust="spacingAndGlyphs">270°</text><text x="147.58" y="101.81" font-size="14.65" text-anchor="middle" textLength="33.38" lengthAdjust="spacingAndGlyphs">315°</text><text x="299.86" y="220.54" font-size="14.65" text-anchor="start" textLength="17.55" lengthAdjust="spacingAndGlyphs">10</text><text x="307.72" y="201.57" font-size="14.65" text-anchor="start" textLength="17.55" lengthAdjust="spacingAndGlyphs">20</text><text x="315.57" y="182.60" font-size="14.65" text-anchor="start" textLength="17.55" lengthAdjust="spacingAndGlyphs">30</text><text x="323.43" y="163.63" font-size="14.65" text-anchor="start" textLength="17.55" lengthAdjust="spacingAndGlyphs">40</text><text x="331.29" y="144.66" font-size="14.65" text-anchor="start" textLength="17.55" lengthAdjust="spacingAndGlyphs">50</text><text x="339.15" y="125.69" font-size="14.65" text-anchor="start" textLength="17.55" lengthAdjust="spacingAndGlyphs">60</text><text x="347.00" y="106.72" font-size="14.65" text-anchor="start" textLength="17.55" lengthAdjust="spacingAndGlyphs">70</text><text x="354.86" y="87.75" font-size="14.65" text-anchor="start" textLength="17.55" lengthAdjust="spacingAndGlyphs">80</text><text x="362.72" y="68.78" font-size="14.65" text-anchor="start" textLength="17.55" lengthAdjust="spacingAndGlyphs">90</text>
<rect x="502.0" y="390.24" width="19.00" height="36.96" fill="#471365" shape-rendering="crispEdges"/><rect x="502.0" y="353.28" width="19.00" height="36.96" fill="#463480" shape-rendering="crispEdges"/><rect x="502.0" y="316.32" width="19.00" height="36.96" fill="#3b528b" shape-rendering="crispEdges"/><rect x="502.0" y="279.36" width="19.00" height="36.96" fill="#2f6c8e" shape-rendering="crispEdges"/><rect x="502.0" y="242.40" width="19.00" height="36.96" fill="#25848e" shape-rendering="crispEdges"/><rect x="502.0" y="205.44" width="19.00" height="36.96" fill="#1e9c89" shape-rendering="crispEdges"/><rect x="502.0" y="168.48" width="19.00" height="36.96" fill="#2fb47c" shape-rendering="crispEdges"/><rect x="502.0" y="131.52" width="19.00" height="36.96" fill="#5ec962" shape-rendering="crispEdges"/><rect x="502.0" y="94.56" width="19.00" height="36.96" fill="#9bd93c" shape-rendering="crispEdges"/><rect x="502.0" y="57.60" width="19.00" height="36.96" fill="#dfe318" shape-rendering="crispEdges"/><rect x="502.5" y="58.5" width="18" height="369" fill="none" stroke="#000" stroke-width="1"/><line x1="520.5" y1="390.50" x2="525.4" y2="390.50" stroke="#000" stroke-width="1"/><line x1="520.5" y1="316.50" x2="525.4" y2="316.50" stroke="#000" stroke-width="1"/><line x1="520.5" y1="242.50" x2="525.4" y2="242.50" stroke="#000" stroke-width="1"/><line x1="520.5" y1="168.50" x2="525.4" y2="168.50" stroke="#000" stroke-width="1"/><line x1="520.5" y1="94.50" x2="525.4" y2="94.50" stroke="#000" stroke-width="1"/>
<text x="529.80" y="395.52" font-size="14.65" text-anchor="start" textLength="20.38" lengthAdjust="spacingAndGlyphs">−4</text><text x="529.80" y="321.60" font-size="14.65" text-anchor="start" textLength="20.38" lengthAdjust="spacingAndGlyphs">−2</text><text x="529.80" y="247.68" font-size="14.65" text-anchor="start" textLength="8.75" lengthAdjust="spacingAndGlyphs">0</text><text x="529.80" y="173.76" font-size="14.65" text-anchor="start" textLength="8.75" lengthAdjust="spacingAndGlyphs">2</text><text x="529.80" y="99.84" font-size="14.65" text-anchor="start" textLength="8.75" lengthAdjust="spacingAndGlyphs">4</text><text x="566.39" y="242.4" font-size="14.65" text-anchor="middle" textLength="71.5" lengthAdjust="spacingAndGlyphs" transform="rotate(-90 566.39 242.4)">Bias (mm)</text>
</svg></body></html>
